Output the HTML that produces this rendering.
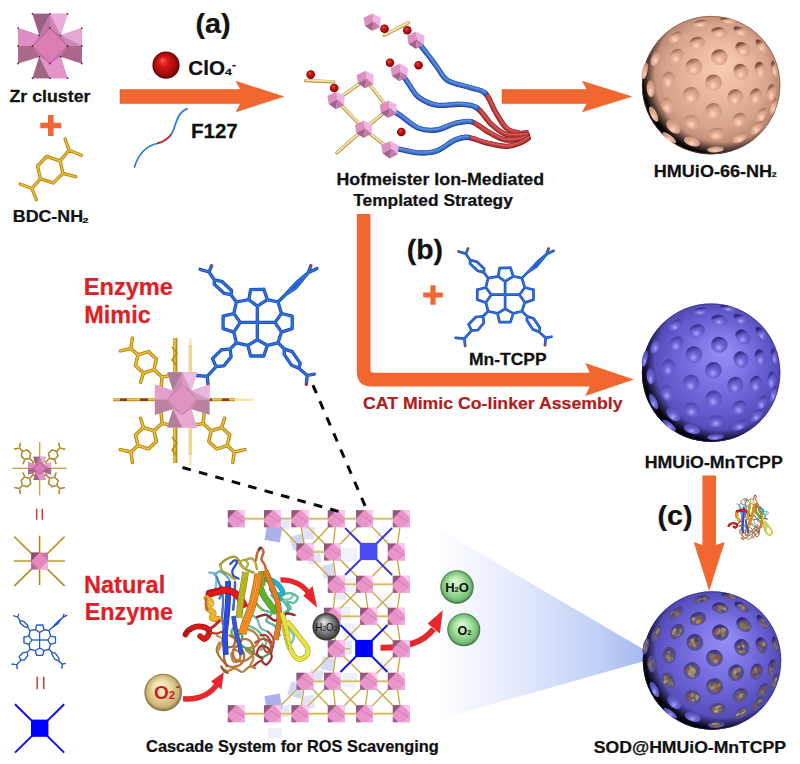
<!DOCTYPE html>
<html><head><meta charset="utf-8"><title>Scheme</title>
<style>html,body{margin:0;padding:0;background:#fff}svg{display:block}text{font-family:'Liberation Sans', Arial, sans-serif;font-weight:bold}</style>
</head><body>
<svg width="800" height="764" viewBox="0 0 800 764">
<defs>
<radialGradient id="sg1" cx="0.5" cy="0.5" r="0.62" fx="0.6" fy="0.34"><stop offset="0" stop-color="#f8ceb6"/><stop offset="0.3" stop-color="#ecbaa1"/><stop offset="0.6" stop-color="#d8a48c"/><stop offset="0.85" stop-color="#ae7c68"/><stop offset="1" stop-color="#7c5244"/></radialGradient>
<radialGradient id="dg1" cx="0.47" cy="0.68" r="0.62"><stop offset="0" stop-color="#ffd8c0"/><stop offset="0.42" stop-color="#e4af95"/><stop offset="1" stop-color="#cb967e"/></radialGradient>
<linearGradient id="dl1" x1="0.25" y1="0" x2="0.6" y2="0.9"><stop offset="0" stop-color="#6e4334" stop-opacity="1"/><stop offset="0.18" stop-color="#6e4334" stop-opacity="0.8"/><stop offset="0.42" stop-color="#6e4334" stop-opacity="0"/></linearGradient>
<radialGradient id="sh1" cx="0.585" cy="0.42" r="0.6"><stop offset="0.82" stop-color="#000" stop-opacity="0"/><stop offset="0.92" stop-color="#000" stop-opacity="0.6"/><stop offset="0.975" stop-color="#000" stop-opacity="0.95"/><stop offset="1" stop-color="#000" stop-opacity="1"/></radialGradient>
<radialGradient id="sg2" cx="0.5" cy="0.5" r="0.62" fx="0.6" fy="0.34"><stop offset="0" stop-color="#9890f6"/><stop offset="0.3" stop-color="#7d75e6"/><stop offset="0.6" stop-color="#625acc"/><stop offset="0.85" stop-color="#4841a6"/><stop offset="1" stop-color="#2a2570"/></radialGradient>
<radialGradient id="dg2" cx="0.47" cy="0.68" r="0.62"><stop offset="0" stop-color="#aaa4ff"/><stop offset="0.42" stop-color="#6e66d6"/><stop offset="1" stop-color="#554db8"/></radialGradient>
<linearGradient id="dl2" x1="0.25" y1="0" x2="0.6" y2="0.9"><stop offset="0" stop-color="#28237a" stop-opacity="1"/><stop offset="0.18" stop-color="#28237a" stop-opacity="0.8"/><stop offset="0.42" stop-color="#28237a" stop-opacity="0"/></linearGradient>
<radialGradient id="sh2" cx="0.585" cy="0.42" r="0.6"><stop offset="0.82" stop-color="#000" stop-opacity="0"/><stop offset="0.92" stop-color="#000" stop-opacity="0.6"/><stop offset="0.975" stop-color="#000" stop-opacity="0.95"/><stop offset="1" stop-color="#000" stop-opacity="1"/></radialGradient>
<radialGradient id="sg3" cx="0.5" cy="0.5" r="0.62" fx="0.6" fy="0.34"><stop offset="0" stop-color="#9890f6"/><stop offset="0.3" stop-color="#7d75e6"/><stop offset="0.6" stop-color="#625acc"/><stop offset="0.85" stop-color="#4841a6"/><stop offset="1" stop-color="#2a2570"/></radialGradient>
<radialGradient id="dg3" cx="0.47" cy="0.68" r="0.62"><stop offset="0" stop-color="#aaa4ff"/><stop offset="0.42" stop-color="#6e66d6"/><stop offset="1" stop-color="#554db8"/></radialGradient>
<linearGradient id="dl3" x1="0.25" y1="0" x2="0.6" y2="0.9"><stop offset="0" stop-color="#28237a" stop-opacity="1"/><stop offset="0.18" stop-color="#28237a" stop-opacity="0.8"/><stop offset="0.42" stop-color="#28237a" stop-opacity="0"/></linearGradient>
<radialGradient id="sh3" cx="0.585" cy="0.42" r="0.6"><stop offset="0.82" stop-color="#000" stop-opacity="0"/><stop offset="0.92" stop-color="#000" stop-opacity="0.6"/><stop offset="0.975" stop-color="#000" stop-opacity="0.95"/><stop offset="1" stop-color="#000" stop-opacity="1"/></radialGradient>
<radialGradient id="redball" cx="0.5" cy="0.5" r="0.5" fx="0.36" fy="0.3"><stop offset="0" stop-color="#ff5a4a"/><stop offset="0.35" stop-color="#d81818"/><stop offset="0.8" stop-color="#a00a0a"/><stop offset="1" stop-color="#5a0404"/></radialGradient>
<linearGradient id="coneg" gradientUnits="userSpaceOnUse" x1="646" y1="0" x2="420" y2="0"><stop offset="0" stop-color="#a3b8ef"/><stop offset="0.2" stop-color="#c0cef5"/><stop offset="0.5" stop-color="#dde5fa"/><stop offset="0.78" stop-color="#f4f6fe"/><stop offset="0.93" stop-color="#ffffff"/></linearGradient>
<radialGradient id="grayball" cx="0.5" cy="0.5" r="0.5" fx="0.4" fy="0.3"><stop offset="0" stop-color="#e8e8e8"/><stop offset="0.45" stop-color="#9a9a9a"/><stop offset="0.85" stop-color="#505050"/><stop offset="1" stop-color="#2a2a2a"/></radialGradient>
<radialGradient id="greenball" cx="0.5" cy="0.5" r="0.5" fx="0.42" fy="0.32"><stop offset="0" stop-color="#e4fadc"/><stop offset="0.5" stop-color="#aae2a2"/><stop offset="0.86" stop-color="#74bc74"/><stop offset="1" stop-color="#356f3a"/></radialGradient>
<radialGradient id="tanball" cx="0.5" cy="0.5" r="0.5" fx="0.4" fy="0.3"><stop offset="0" stop-color="#fff8e0"/><stop offset="0.45" stop-color="#eedca6"/><stop offset="0.85" stop-color="#c9b274"/><stop offset="1" stop-color="#786838"/></radialGradient>
</defs>
<rect width="800" height="764" fill="#ffffff"/>
<path d="M648 652 L415 515 L415 726 L648 660 Z" fill="url(#coneg)"/>
<rect x="-7.8" y="-7.8" width="15.5" height="15.5" fill="#a6acec" opacity="0.95" transform="translate(273.5 533.5) rotate(10)"/>
<rect x="-6" y="-6" width="12" height="12" fill="#b4baf0" opacity="0.35" transform="translate(284 523) rotate(5)"/>
<rect x="-7" y="-7" width="14" height="14" fill="#b4baf0" opacity="0.6" transform="translate(298 542) rotate(-18)"/>
<rect x="-6.5" y="-6.5" width="13" height="13" fill="#b4baf0" opacity="0.4" transform="translate(308 533) rotate(8)"/>
<rect x="-6.5" y="-6.5" width="13" height="13" fill="#b4baf0" opacity="0.4" transform="translate(314 557) rotate(-10)"/>
<rect x="-6.5" y="-6.5" width="13" height="13" fill="#b4baf0" opacity="0.55" transform="translate(329 571) rotate(-12)"/>
<rect x="-6.5" y="-6.5" width="13" height="13" fill="#b4baf0" opacity="0.35" transform="translate(340 593) rotate(5)"/>
<rect x="-7" y="-7" width="14" height="14" fill="#b4baf0" opacity="0.2" transform="translate(350 555) rotate(0)"/>
<rect x="-6.5" y="-6.5" width="13" height="13" fill="#b4baf0" opacity="0.25" transform="translate(344 613) rotate(0)"/>
<rect x="-7.8" y="-7.8" width="15.5" height="15.5" fill="#a6acec" opacity="0.95" transform="translate(273.5 702.5) rotate(-10)"/>
<rect x="-6" y="-6" width="12" height="12" fill="#b4baf0" opacity="0.35" transform="translate(284 711) rotate(-5)"/>
<rect x="-7" y="-7" width="14" height="14" fill="#b4baf0" opacity="0.6" transform="translate(296 690) rotate(18)"/>
<rect x="-6.5" y="-6.5" width="13" height="13" fill="#b4baf0" opacity="0.4" transform="translate(308 702) rotate(-8)"/>
<rect x="-6.5" y="-6.5" width="13" height="13" fill="#b4baf0" opacity="0.4" transform="translate(316 676) rotate(10)"/>
<rect x="-6.5" y="-6.5" width="13" height="13" fill="#b4baf0" opacity="0.55" transform="translate(328 664) rotate(12)"/>
<rect x="-7" y="-7" width="14" height="14" fill="#b4baf0" opacity="0.35" transform="translate(345 647.5) rotate(0)"/>
<rect x="-7" y="-7" width="14" height="14" fill="#b4baf0" opacity="0.2" transform="translate(350 680) rotate(0)"/>
<rect x="-7" y="-7" width="14" height="14" fill="#b4baf0" opacity="0.2" transform="translate(352 585) rotate(0)"/>
<rect x="-7" y="-7" width="14" height="14" fill="#b4baf0" opacity="0.15" transform="translate(385 600) rotate(0)"/>
<rect x="-6.5" y="-6.5" width="13" height="13" fill="#b4baf0" opacity="0.15" transform="translate(382 535) rotate(0)"/>
<rect x="-6.5" y="-6.5" width="13" height="13" fill="#b4baf0" opacity="0.25" transform="translate(350 630) rotate(0)"/>
<rect x="-6.5" y="-6.5" width="13" height="13" fill="#b4baf0" opacity="0.15" transform="translate(385 665) rotate(0)"/>
<path d="M268 728 h14 v10 h-14z" fill="#c8ccf4" opacity="0.3"/>
<path d="M236 518.8 H401 M236 713.8 H401 M305 552 H332.5 M336 584.2 H401 M332.5 616.2 H396 M305 681.2 H396 M336.2 648.8 H350" stroke="#f6e9b8" stroke-width="3" fill="none"/>
<path d="M236 518.8 H401 M236 713.8 H401 M305 552 H332.5 M336 584.2 H401 M332.5 616.2 H396 M305 681.2 H396 M336.2 648.8 H350" stroke="#b79a3a" stroke-width="0.9" fill="none"/>
<path d="M272.5 518.8 L305 552 M300 518.8 L305 552 M300 518.8 L332.5 552 M336.2 518.8 L305 552 M336.2 518.8 L332.5 552 M364.5 518.8 L332.5 552 M364.5 518.8 L396.2 552 M401.2 518.8 L396.2 552 M305 552 L336.2 584.2 M332.5 552 L336.2 584.2 M332.5 552 L364.5 584.2 M396.2 552 L364.5 584.2 M396.2 552 L401.2 584.2 M336.2 584.2 L332.5 616.2 M336.2 584.2 L368.8 616.2 M364.5 584.2 L332.5 616.2 M364.5 584.2 L368.8 616.2 M364.5 584.2 L396.2 616.2 M401.2 584.2 L368.8 616.2 M401.2 584.2 L396.2 616.2 M332.5 616.2 L336.2 648.8 M368.8 616.2 L336.2 648.8 M368.8 616.2 L401.2 648.8 M396.2 616.2 L401.2 648.8 M336.2 648.8 L305 681.2 M336.2 648.8 L332.5 681.2 M336.2 648.8 L368.8 681.2 M401.2 648.8 L368.8 681.2 M401.2 648.8 L396.2 681.2 M305 681.2 L272.5 713.8 M305 681.2 L300 713.8 M305 681.2 L336.2 713.8 M332.5 681.2 L300 713.8 M332.5 681.2 L336.2 713.8 M332.5 681.2 L364.5 713.8 M368.8 681.2 L336.2 713.8 M368.8 681.2 L364.5 713.8 M368.8 681.2 L401.2 713.8 M396.2 681.2 L364.5 713.8 M396.2 681.2 L401.2 713.8" stroke="#f5ebc0" stroke-width="2.2" fill="none" opacity="0.7"/>
<path d="M272.5 518.8 L305 552 M300 518.8 L305 552 M300 518.8 L332.5 552 M336.2 518.8 L305 552 M336.2 518.8 L332.5 552 M364.5 518.8 L332.5 552 M364.5 518.8 L396.2 552 M401.2 518.8 L396.2 552 M305 552 L336.2 584.2 M332.5 552 L336.2 584.2 M332.5 552 L364.5 584.2 M396.2 552 L364.5 584.2 M396.2 552 L401.2 584.2 M336.2 584.2 L332.5 616.2 M336.2 584.2 L368.8 616.2 M364.5 584.2 L332.5 616.2 M364.5 584.2 L368.8 616.2 M364.5 584.2 L396.2 616.2 M401.2 584.2 L368.8 616.2 M401.2 584.2 L396.2 616.2 M332.5 616.2 L336.2 648.8 M368.8 616.2 L336.2 648.8 M368.8 616.2 L401.2 648.8 M396.2 616.2 L401.2 648.8 M336.2 648.8 L305 681.2 M336.2 648.8 L332.5 681.2 M336.2 648.8 L368.8 681.2 M401.2 648.8 L368.8 681.2 M401.2 648.8 L396.2 681.2 M305 681.2 L272.5 713.8 M305 681.2 L300 713.8 M305 681.2 L336.2 713.8 M332.5 681.2 L300 713.8 M332.5 681.2 L336.2 713.8 M332.5 681.2 L364.5 713.8 M368.8 681.2 L336.2 713.8 M368.8 681.2 L364.5 713.8 M368.8 681.2 L401.2 713.8 M396.2 681.2 L364.5 713.8 M396.2 681.2 L401.2 713.8" stroke="#c0a038" stroke-width="1.1" fill="none"/>
<path d="M345.1 528 L392.1 575 M392.1 528 L345.1 575" stroke="#3a3ad8" stroke-width="2" fill="none"/>
<rect x="359.8" y="542.9" width="17.6" height="17.2" fill="#4a4af2"/>
<path d="M340.5 625 L387.5 672 M387.5 625 L340.5 672" stroke="#1414e0" stroke-width="2" fill="none"/>
<rect x="355.2" y="639.9" width="17.6" height="17.2" fill="#0000ff"/>
<path d="M380.5 647.8 C406 648 424 642 433.5 629" stroke="#e8262c" stroke-width="6" fill="none"/>
<polygon points="427.6,623.6 439.9,633.6 442.8,610.2" fill="#e8262c"/>
<rect x="227.8" y="510.2" width="17" height="17" fill="#e995c9"/>
<polygon points="227.8,510.2 236.2,510.2 227.8,518.8" fill="#91587a"/>
<polygon points="227.8,527.2 227.8,521.8 233.2,527.2" fill="#9d5f84"/>
<polygon points="244.8,510.2 237.6,510.2 244.8,517.4" fill="#f9caee"/>
<polygon points="244.8,527.2 244.8,520.8 238.3,527.2" fill="#efa9da"/>
<path d="M232 514.5 L243.9 522.1" stroke="#cf74ac" stroke-width="0.8" fill="none"/>
<rect x="264" y="510.2" width="17" height="17" fill="#e995c9"/>
<polygon points="264,510.2 272.5,510.2 264,518.8" fill="#91587a"/>
<polygon points="264,527.2 264,521.8 269.4,527.2" fill="#9d5f84"/>
<polygon points="281,510.2 273.9,510.2 281,517.4" fill="#f9caee"/>
<polygon points="281,527.2 281,520.8 274.5,527.2" fill="#efa9da"/>
<path d="M268.2 514.5 L280.1 522.1" stroke="#cf74ac" stroke-width="0.8" fill="none"/>
<rect x="291.5" y="510.2" width="17" height="17" fill="#e995c9"/>
<polygon points="291.5,510.2 300,510.2 291.5,518.8" fill="#91587a"/>
<polygon points="291.5,527.2 291.5,521.8 296.9,527.2" fill="#9d5f84"/>
<polygon points="308.5,510.2 301.4,510.2 308.5,517.4" fill="#f9caee"/>
<polygon points="308.5,527.2 308.5,520.8 302,527.2" fill="#efa9da"/>
<path d="M295.8 514.5 L307.6 522.1" stroke="#cf74ac" stroke-width="0.8" fill="none"/>
<rect x="327.8" y="510.2" width="17" height="17" fill="#e995c9"/>
<polygon points="327.8,510.2 336.2,510.2 327.8,518.8" fill="#91587a"/>
<polygon points="327.8,527.2 327.8,521.8 333.2,527.2" fill="#9d5f84"/>
<polygon points="344.8,510.2 337.6,510.2 344.8,517.4" fill="#f9caee"/>
<polygon points="344.8,527.2 344.8,520.8 338.3,527.2" fill="#efa9da"/>
<path d="M332 514.5 L343.9 522.1" stroke="#cf74ac" stroke-width="0.8" fill="none"/>
<rect x="356" y="510.2" width="17" height="17" fill="#e995c9"/>
<polygon points="356,510.2 364.5,510.2 356,518.8" fill="#91587a"/>
<polygon points="356,527.2 356,521.8 361.4,527.2" fill="#9d5f84"/>
<polygon points="373,510.2 365.9,510.2 373,517.4" fill="#f9caee"/>
<polygon points="373,527.2 373,520.8 366.5,527.2" fill="#efa9da"/>
<path d="M360.2 514.5 L372.1 522.1" stroke="#cf74ac" stroke-width="0.8" fill="none"/>
<rect x="392.8" y="510.2" width="17" height="17" fill="#e995c9"/>
<polygon points="392.8,510.2 401.2,510.2 392.8,518.8" fill="#91587a"/>
<polygon points="392.8,527.2 392.8,521.8 398.2,527.2" fill="#9d5f84"/>
<polygon points="409.8,510.2 402.6,510.2 409.8,517.4" fill="#f9caee"/>
<polygon points="409.8,527.2 409.8,520.8 403.3,527.2" fill="#efa9da"/>
<path d="M397 514.5 L408.9 522.1" stroke="#cf74ac" stroke-width="0.8" fill="none"/>
<rect x="296.5" y="543.5" width="17" height="17" fill="#e995c9"/>
<polygon points="296.5,543.5 305,543.5 296.5,552" fill="#91587a"/>
<polygon points="296.5,560.5 296.5,555.1 301.9,560.5" fill="#9d5f84"/>
<polygon points="313.5,543.5 306.4,543.5 313.5,550.6" fill="#f9caee"/>
<polygon points="313.5,560.5 313.5,554 307,560.5" fill="#efa9da"/>
<path d="M300.8 547.8 L312.6 555.4" stroke="#cf74ac" stroke-width="0.8" fill="none"/>
<rect x="324" y="543.5" width="17" height="17" fill="#e995c9"/>
<polygon points="324,543.5 332.5,543.5 324,552" fill="#91587a"/>
<polygon points="324,560.5 324,555.1 329.4,560.5" fill="#9d5f84"/>
<polygon points="341,543.5 333.9,543.5 341,550.6" fill="#f9caee"/>
<polygon points="341,560.5 341,554 334.5,560.5" fill="#efa9da"/>
<path d="M328.2 547.8 L340.1 555.4" stroke="#cf74ac" stroke-width="0.8" fill="none"/>
<rect x="387.8" y="543.5" width="17" height="17" fill="#e995c9"/>
<polygon points="387.8,543.5 396.2,543.5 387.8,552" fill="#91587a"/>
<polygon points="387.8,560.5 387.8,555.1 393.2,560.5" fill="#9d5f84"/>
<polygon points="404.8,543.5 397.6,543.5 404.8,550.6" fill="#f9caee"/>
<polygon points="404.8,560.5 404.8,554 398.3,560.5" fill="#efa9da"/>
<path d="M392 547.8 L403.9 555.4" stroke="#cf74ac" stroke-width="0.8" fill="none"/>
<rect x="327.8" y="575.8" width="17" height="17" fill="#e995c9"/>
<polygon points="327.8,575.8 336.2,575.8 327.8,584.2" fill="#91587a"/>
<polygon points="327.8,592.8 327.8,587.3 333.2,592.8" fill="#9d5f84"/>
<polygon points="344.8,575.8 337.6,575.8 344.8,582.9" fill="#f9caee"/>
<polygon points="344.8,592.8 344.8,586.3 338.3,592.8" fill="#efa9da"/>
<path d="M332 580 L343.9 587.6" stroke="#cf74ac" stroke-width="0.8" fill="none"/>
<rect x="356" y="575.8" width="17" height="17" fill="#e995c9"/>
<polygon points="356,575.8 364.5,575.8 356,584.2" fill="#91587a"/>
<polygon points="356,592.8 356,587.3 361.4,592.8" fill="#9d5f84"/>
<polygon points="373,575.8 365.9,575.8 373,582.9" fill="#f9caee"/>
<polygon points="373,592.8 373,586.3 366.5,592.8" fill="#efa9da"/>
<path d="M360.2 580 L372.1 587.6" stroke="#cf74ac" stroke-width="0.8" fill="none"/>
<rect x="392.8" y="575.8" width="17" height="17" fill="#e995c9"/>
<polygon points="392.8,575.8 401.2,575.8 392.8,584.2" fill="#91587a"/>
<polygon points="392.8,592.8 392.8,587.3 398.2,592.8" fill="#9d5f84"/>
<polygon points="409.8,575.8 402.6,575.8 409.8,582.9" fill="#f9caee"/>
<polygon points="409.8,592.8 409.8,586.3 403.3,592.8" fill="#efa9da"/>
<path d="M397 580 L408.9 587.6" stroke="#cf74ac" stroke-width="0.8" fill="none"/>
<rect x="324" y="607.8" width="17" height="17" fill="#e995c9"/>
<polygon points="324,607.8 332.5,607.8 324,616.2" fill="#91587a"/>
<polygon points="324,624.8 324,619.3 329.4,624.8" fill="#9d5f84"/>
<polygon points="341,607.8 333.9,607.8 341,614.9" fill="#f9caee"/>
<polygon points="341,624.8 341,618.3 334.5,624.8" fill="#efa9da"/>
<path d="M328.2 612 L340.1 619.6" stroke="#cf74ac" stroke-width="0.8" fill="none"/>
<rect x="360.2" y="607.8" width="17" height="17" fill="#e995c9"/>
<polygon points="360.2,607.8 368.8,607.8 360.2,616.2" fill="#91587a"/>
<polygon points="360.2,624.8 360.2,619.3 365.7,624.8" fill="#9d5f84"/>
<polygon points="377.2,607.8 370.1,607.8 377.2,614.9" fill="#f9caee"/>
<polygon points="377.2,624.8 377.2,618.3 370.8,624.8" fill="#efa9da"/>
<path d="M364.5 612 L376.4 619.6" stroke="#cf74ac" stroke-width="0.8" fill="none"/>
<rect x="387.8" y="607.8" width="17" height="17" fill="#e995c9"/>
<polygon points="387.8,607.8 396.2,607.8 387.8,616.2" fill="#91587a"/>
<polygon points="387.8,624.8 387.8,619.3 393.2,624.8" fill="#9d5f84"/>
<polygon points="404.8,607.8 397.6,607.8 404.8,614.9" fill="#f9caee"/>
<polygon points="404.8,624.8 404.8,618.3 398.3,624.8" fill="#efa9da"/>
<path d="M392 612 L403.9 619.6" stroke="#cf74ac" stroke-width="0.8" fill="none"/>
<rect x="327.8" y="640.2" width="17" height="17" fill="#e995c9"/>
<polygon points="327.8,640.2 336.2,640.2 327.8,648.8" fill="#91587a"/>
<polygon points="327.8,657.2 327.8,651.8 333.2,657.2" fill="#9d5f84"/>
<polygon points="344.8,640.2 337.6,640.2 344.8,647.4" fill="#f9caee"/>
<polygon points="344.8,657.2 344.8,650.8 338.3,657.2" fill="#efa9da"/>
<path d="M332 644.5 L343.9 652.1" stroke="#cf74ac" stroke-width="0.8" fill="none"/>
<rect x="392.8" y="640.2" width="17" height="17" fill="#e995c9"/>
<polygon points="392.8,640.2 401.2,640.2 392.8,648.8" fill="#91587a"/>
<polygon points="392.8,657.2 392.8,651.8 398.2,657.2" fill="#9d5f84"/>
<polygon points="409.8,640.2 402.6,640.2 409.8,647.4" fill="#f9caee"/>
<polygon points="409.8,657.2 409.8,650.8 403.3,657.2" fill="#efa9da"/>
<path d="M397 644.5 L408.9 652.1" stroke="#cf74ac" stroke-width="0.8" fill="none"/>
<rect x="296.5" y="672.8" width="17" height="17" fill="#e995c9"/>
<polygon points="296.5,672.8 305,672.8 296.5,681.2" fill="#91587a"/>
<polygon points="296.5,689.8 296.5,684.3 301.9,689.8" fill="#9d5f84"/>
<polygon points="313.5,672.8 306.4,672.8 313.5,679.9" fill="#f9caee"/>
<polygon points="313.5,689.8 313.5,683.3 307,689.8" fill="#efa9da"/>
<path d="M300.8 677 L312.6 684.6" stroke="#cf74ac" stroke-width="0.8" fill="none"/>
<rect x="324" y="672.8" width="17" height="17" fill="#e995c9"/>
<polygon points="324,672.8 332.5,672.8 324,681.2" fill="#91587a"/>
<polygon points="324,689.8 324,684.3 329.4,689.8" fill="#9d5f84"/>
<polygon points="341,672.8 333.9,672.8 341,679.9" fill="#f9caee"/>
<polygon points="341,689.8 341,683.3 334.5,689.8" fill="#efa9da"/>
<path d="M328.2 677 L340.1 684.6" stroke="#cf74ac" stroke-width="0.8" fill="none"/>
<rect x="360.2" y="672.8" width="17" height="17" fill="#e995c9"/>
<polygon points="360.2,672.8 368.8,672.8 360.2,681.2" fill="#91587a"/>
<polygon points="360.2,689.8 360.2,684.3 365.7,689.8" fill="#9d5f84"/>
<polygon points="377.2,672.8 370.1,672.8 377.2,679.9" fill="#f9caee"/>
<polygon points="377.2,689.8 377.2,683.3 370.8,689.8" fill="#efa9da"/>
<path d="M364.5 677 L376.4 684.6" stroke="#cf74ac" stroke-width="0.8" fill="none"/>
<rect x="387.8" y="672.8" width="17" height="17" fill="#e995c9"/>
<polygon points="387.8,672.8 396.2,672.8 387.8,681.2" fill="#91587a"/>
<polygon points="387.8,689.8 387.8,684.3 393.2,689.8" fill="#9d5f84"/>
<polygon points="404.8,672.8 397.6,672.8 404.8,679.9" fill="#f9caee"/>
<polygon points="404.8,689.8 404.8,683.3 398.3,689.8" fill="#efa9da"/>
<path d="M392 677 L403.9 684.6" stroke="#cf74ac" stroke-width="0.8" fill="none"/>
<rect x="227.8" y="705.2" width="17" height="17" fill="#e995c9"/>
<polygon points="227.8,705.2 236.2,705.2 227.8,713.8" fill="#91587a"/>
<polygon points="227.8,722.2 227.8,716.8 233.2,722.2" fill="#9d5f84"/>
<polygon points="244.8,705.2 237.6,705.2 244.8,712.4" fill="#f9caee"/>
<polygon points="244.8,722.2 244.8,715.8 238.3,722.2" fill="#efa9da"/>
<path d="M232 709.5 L243.9 717.1" stroke="#cf74ac" stroke-width="0.8" fill="none"/>
<rect x="264" y="705.2" width="17" height="17" fill="#e995c9"/>
<polygon points="264,705.2 272.5,705.2 264,713.8" fill="#91587a"/>
<polygon points="264,722.2 264,716.8 269.4,722.2" fill="#9d5f84"/>
<polygon points="281,705.2 273.9,705.2 281,712.4" fill="#f9caee"/>
<polygon points="281,722.2 281,715.8 274.5,722.2" fill="#efa9da"/>
<path d="M268.2 709.5 L280.1 717.1" stroke="#cf74ac" stroke-width="0.8" fill="none"/>
<rect x="291.5" y="705.2" width="17" height="17" fill="#e995c9"/>
<polygon points="291.5,705.2 300,705.2 291.5,713.8" fill="#91587a"/>
<polygon points="291.5,722.2 291.5,716.8 296.9,722.2" fill="#9d5f84"/>
<polygon points="308.5,705.2 301.4,705.2 308.5,712.4" fill="#f9caee"/>
<polygon points="308.5,722.2 308.5,715.8 302,722.2" fill="#efa9da"/>
<path d="M295.8 709.5 L307.6 717.1" stroke="#cf74ac" stroke-width="0.8" fill="none"/>
<rect x="327.8" y="705.2" width="17" height="17" fill="#e995c9"/>
<polygon points="327.8,705.2 336.2,705.2 327.8,713.8" fill="#91587a"/>
<polygon points="327.8,722.2 327.8,716.8 333.2,722.2" fill="#9d5f84"/>
<polygon points="344.8,705.2 337.6,705.2 344.8,712.4" fill="#f9caee"/>
<polygon points="344.8,722.2 344.8,715.8 338.3,722.2" fill="#efa9da"/>
<path d="M332 709.5 L343.9 717.1" stroke="#cf74ac" stroke-width="0.8" fill="none"/>
<rect x="356" y="705.2" width="17" height="17" fill="#e995c9"/>
<polygon points="356,705.2 364.5,705.2 356,713.8" fill="#91587a"/>
<polygon points="356,722.2 356,716.8 361.4,722.2" fill="#9d5f84"/>
<polygon points="373,705.2 365.9,705.2 373,712.4" fill="#f9caee"/>
<polygon points="373,722.2 373,715.8 366.5,722.2" fill="#efa9da"/>
<path d="M360.2 709.5 L372.1 717.1" stroke="#cf74ac" stroke-width="0.8" fill="none"/>
<rect x="392.8" y="705.2" width="17" height="17" fill="#e995c9"/>
<polygon points="392.8,705.2 401.2,705.2 392.8,713.8" fill="#91587a"/>
<polygon points="392.8,722.2 392.8,716.8 398.2,722.2" fill="#9d5f84"/>
<polygon points="409.8,705.2 402.6,705.2 409.8,712.4" fill="#f9caee"/>
<polygon points="409.8,722.2 409.8,715.8 403.3,722.2" fill="#efa9da"/>
<path d="M397 709.5 L408.9 717.1" stroke="#cf74ac" stroke-width="0.8" fill="none"/>
<circle cx="326.3" cy="626.8" r="13.8" fill="url(#grayball)"/>
<text x="326.3" y="631" font-size="10.5" fill="#111" text-anchor="middle" style="font-weight:normal" textLength="22" lengthAdjust="spacingAndGlyphs">H<tspan font-size="7">2</tspan>O<tspan font-size="7">2</tspan></text>
<circle cx="457" cy="587" r="16.7" fill="url(#greenball)"/>
<text x="457" y="592" font-size="13" fill="#111" text-anchor="middle">H<tspan font-size="7.5">2</tspan>O</text>
<circle cx="463.8" cy="629.8" r="16.5" fill="url(#greenball)"/>
<text x="464.5" y="634.5" font-size="12.5" fill="#111" text-anchor="middle">O<tspan font-size="7.5">2</tspan></text>
<g transform="translate(180 540) scale(0.1833)">
<path d="M160 178 C165 179 183.3 177.3 190 184 C196.7 190.7 199.2 205.8 200 218 C200.8 230.2 194 243.3 195 257 C196 270.7 204.2 292.8 206 300" stroke="#4c7d84" stroke-width="12.0" fill="none" stroke-linecap="round" stroke-linejoin="round" opacity="0.75"/>
<path d="M160 178 C165 179 183.3 177.3 190 184 C196.7 190.7 199.2 205.8 200 218 C200.8 230.2 194 243.3 195 257 C196 270.7 204.2 292.8 206 300" stroke="#7ccad6" stroke-width="8.5" fill="none" stroke-linecap="round" stroke-linejoin="round"/>
<path d="M189 189 C193.7 186 207.5 171 217 171 C226.5 171 237.3 181.3 246 189 C254.7 196.7 266.3 206.8 269 217 C271.7 227.2 263.2 244.5 262 250" stroke="#366f7e" stroke-width="12.0" fill="none" stroke-linecap="round" stroke-linejoin="round" opacity="0.75"/>
<path d="M189 189 C193.7 186 207.5 171 217 171 C226.5 171 237.3 181.3 246 189 C254.7 196.7 266.3 206.8 269 217 C271.7 227.2 263.2 244.5 262 250" stroke="#58b4cc" stroke-width="8.5" fill="none" stroke-linecap="round" stroke-linejoin="round"/>
<path d="M200 200 C202.5 206.7 210.8 225.8 215 240 C219.2 254.2 225 271.7 225 285 C225 298.3 216.7 314.2 215 320" stroke="#2d5580" stroke-width="12.0" fill="none" stroke-linecap="round" stroke-linejoin="round" opacity="0.75"/>
<path d="M200 200 C202.5 206.7 210.8 225.8 215 240 C219.2 254.2 225 271.7 225 285 C225 298.3 216.7 314.2 215 320" stroke="#4a8ad0" stroke-width="8.5" fill="none" stroke-linecap="round" stroke-linejoin="round"/>
<path d="M220 134 C224.3 129.8 233.2 116.2 246 109 C258.8 101.8 284.7 90.7 297 91 C309.3 91.3 312.3 101.3 320 111 C327.7 120.7 334.5 139.8 343 149 C351.5 158.2 361.5 161.3 371 166 C380.5 170.7 395.2 175.2 400 177" stroke="#68641d" stroke-width="13.0" fill="none" stroke-linecap="round" stroke-linejoin="round" opacity="0.75"/>
<path d="M220 134 C224.3 129.8 233.2 116.2 246 109 C258.8 101.8 284.7 90.7 297 91 C309.3 91.3 312.3 101.3 320 111 C327.7 120.7 334.5 139.8 343 149 C351.5 158.2 361.5 161.3 371 166 C380.5 170.7 395.2 175.2 400 177" stroke="#a8a230" stroke-width="9.5" fill="none" stroke-linecap="round" stroke-linejoin="round"/>
<path d="M220 134 C221.5 139.3 220.8 156.8 229 166 C237.2 175.2 259.5 182.3 269 189 C278.5 195.7 280.8 201.7 286 206 C291.2 210.3 297.7 213.5 300 215" stroke="#6d6d20" stroke-width="12.0" fill="none" stroke-linecap="round" stroke-linejoin="round" opacity="0.75"/>
<path d="M220 134 C221.5 139.3 220.8 156.8 229 166 C237.2 175.2 259.5 182.3 269 189 C278.5 195.7 280.8 201.7 286 206 C291.2 210.3 297.7 213.5 300 215" stroke="#b0b034" stroke-width="8.5" fill="none" stroke-linecap="round" stroke-linejoin="round"/>
<path d="M274 131 C277.8 127.7 290.8 112.3 297 111 C303.2 109.7 312.8 113.8 311 123 C309.2 132.2 289.3 154.2 286 166 C282.7 177.8 285.3 186.5 291 194 C296.7 201.5 315.2 208.2 320 211" stroke="#1d2c80" stroke-width="12.0" fill="none" stroke-linecap="round" stroke-linejoin="round" opacity="0.75"/>
<path d="M274 131 C277.8 127.7 290.8 112.3 297 111 C303.2 109.7 312.8 113.8 311 123 C309.2 132.2 289.3 154.2 286 166 C282.7 177.8 285.3 186.5 291 194 C296.7 201.5 315.2 208.2 320 211" stroke="#3048d0" stroke-width="8.5" fill="none" stroke-linecap="round" stroke-linejoin="round"/>
<path d="M320 120 C325.7 118.2 345.5 107.2 354 109 C362.5 110.8 371 123.5 371 131 C371 138.5 360.7 153 354 154 C347.3 155 336.7 142.7 331 137 C325.3 131.3 321.8 122.8 320 120" stroke="#797225" stroke-width="12.0" fill="none" stroke-linecap="round" stroke-linejoin="round" opacity="0.75"/>
<path d="M320 120 C325.7 118.2 345.5 107.2 354 109 C362.5 110.8 371 123.5 371 131 C371 138.5 360.7 153 354 154 C347.3 155 336.7 142.7 331 137 C325.3 131.3 321.8 122.8 320 120" stroke="#c4b83c" stroke-width="8.5" fill="none" stroke-linecap="round" stroke-linejoin="round"/>
<path d="M354 109 C360 107.5 380.7 98.2 390 100 C399.3 101.8 405 110 410 120 C415 130 418.3 153.3 420 160" stroke="#7c6822" stroke-width="12.0" fill="none" stroke-linecap="round" stroke-linejoin="round" opacity="0.75"/>
<path d="M354 109 C360 107.5 380.7 98.2 390 100 C399.3 101.8 405 110 410 120 C415 130 418.3 153.3 420 160" stroke="#c8a838" stroke-width="8.5" fill="none" stroke-linecap="round" stroke-linejoin="round"/>
<path d="M415 110 C416.2 103.3 417.8 81.3 422 70 C426.2 58.7 434.3 42.7 440 42 C445.7 41.3 455.3 55.5 456 66 C456.7 76.5 443 93.5 444 105 C445 116.5 457.7 125 462 135 C466.3 145 468.7 160 470 165" stroke="#803e1a" stroke-width="13.0" fill="none" stroke-linecap="round" stroke-linejoin="round" opacity="0.75"/>
<path d="M415 110 C416.2 103.3 417.8 81.3 422 70 C426.2 58.7 434.3 42.7 440 42 C445.7 41.3 455.3 55.5 456 66 C456.7 76.5 443 93.5 444 105 C445 116.5 457.7 125 462 135 C466.3 145 468.7 160 470 165" stroke="#d0642a" stroke-width="9.5" fill="none" stroke-linecap="round" stroke-linejoin="round"/>
<path d="M440 42 C438.7 43.7 433.3 50.3 432 52" stroke="#5e1b13" stroke-width="13.5" fill="none" stroke-linecap="round" stroke-linejoin="round" opacity="0.75"/>
<path d="M440 42 C438.7 43.7 433.3 50.3 432 52" stroke="#982c20" stroke-width="10" fill="none" stroke-linecap="round" stroke-linejoin="round"/>
<path d="M556 300 C563.3 298.3 585.7 288 600 290 C614.3 292 638.3 303.3 642 312 C645.7 320.7 631.7 337.7 622 342 C612.3 346.3 587 333 584 338 C581 343 605.7 363 604 372 C602.3 381 579 388.7 574 392" stroke="#347e65" stroke-width="12.0" fill="none" stroke-linecap="round" stroke-linejoin="round" opacity="0.75"/>
<path d="M556 300 C563.3 298.3 585.7 288 600 290 C614.3 292 638.3 303.3 642 312 C645.7 320.7 631.7 337.7 622 342 C612.3 346.3 587 333 584 338 C581 343 605.7 363 604 372 C602.3 381 579 388.7 574 392" stroke="#54cca4" stroke-width="8.5" fill="none" stroke-linecap="round" stroke-linejoin="round"/>
<path d="M520 300 C526.7 305 548 316.7 560 330 C572 343.3 592 365 592 380 C592 395 565.3 413.3 560 420" stroke="#2a7974" stroke-width="12.0" fill="none" stroke-linecap="round" stroke-linejoin="round" opacity="0.75"/>
<path d="M520 300 C526.7 305 548 316.7 560 330 C572 343.3 592 365 592 380 C592 395 565.3 413.3 560 420" stroke="#44c4bc" stroke-width="8.5" fill="none" stroke-linecap="round" stroke-linejoin="round"/>
<path d="M560 330 C566.7 328.3 590 325 600 320 C610 315 616.7 303.3 620 300" stroke="#4c886d" stroke-width="12.0" fill="none" stroke-linecap="round" stroke-linejoin="round" opacity="0.75"/>
<path d="M560 330 C566.7 328.3 590 325 600 320 C610 315 616.7 303.3 620 300" stroke="#7cdcb0" stroke-width="8.5" fill="none" stroke-linecap="round" stroke-linejoin="round"/>
<path d="M400 330 C408.3 338.3 433.3 368.3 450 380 C466.7 391.7 496.7 390 500 400 C503.3 410 466.7 428.3 470 440 C473.3 451.7 507.7 456.7 520 470 C532.3 483.3 540 511.7 544 520" stroke="#34746a" stroke-width="12.0" fill="none" stroke-linecap="round" stroke-linejoin="round" opacity="0.75"/>
<path d="M400 330 C408.3 338.3 433.3 368.3 450 380 C466.7 391.7 496.7 390 500 400 C503.3 410 466.7 428.3 470 440 C473.3 451.7 507.7 456.7 520 470 C532.3 483.3 540 511.7 544 520" stroke="#54bcac" stroke-width="8.5" fill="none" stroke-linecap="round" stroke-linejoin="round"/>
<path d="M380 400 C386.7 405 410 416.7 420 430 C430 443.3 430 468.3 440 480 C450 491.7 473.3 496.7 480 500" stroke="#407972" stroke-width="11.0" fill="none" stroke-linecap="round" stroke-linejoin="round" opacity="0.75"/>
<path d="M380 400 C386.7 405 410 416.7 420 430 C430 443.3 430 468.3 440 480 C450 491.7 473.3 496.7 480 500" stroke="#68c4b8" stroke-width="7.5" fill="none" stroke-linecap="round" stroke-linejoin="round"/>
<path d="M420 420 C428.3 418 453.3 404.7 470 408 C486.7 411.3 501.7 441 520 440 C538.3 439 562.5 407 580 402 C597.5 397 617.5 408.7 625 410" stroke="#601616" stroke-width="13.0" fill="none" stroke-linecap="round" stroke-linejoin="round" opacity="0.75"/>
<path d="M420 420 C428.3 418 453.3 404.7 470 408 C486.7 411.3 501.7 441 520 440 C538.3 439 562.5 407 580 402 C597.5 397 617.5 408.7 625 410" stroke="#9c2424" stroke-width="9.5" fill="none" stroke-linecap="round" stroke-linejoin="round"/>
<path d="M540 420 C546.7 428.3 566.7 453.3 580 470 C593.3 486.7 615 505 620 520 C625 535 611.7 553.3 610 560" stroke="#457c80" stroke-width="11.0" fill="none" stroke-linecap="round" stroke-linejoin="round" opacity="0.75"/>
<path d="M540 420 C546.7 428.3 566.7 453.3 580 470 C593.3 486.7 615 505 620 520 C625 535 611.7 553.3 610 560" stroke="#70c8d0" stroke-width="7.5" fill="none" stroke-linecap="round" stroke-linejoin="round"/>
<path d="M300 480 C306.7 486.7 335 505 340 520 C345 535 323.3 556.7 330 570 C336.7 583.3 361.7 588.3 380 600 C398.3 611.7 422.7 636.3 440 640 C457.3 643.7 476.7 625 484 622" stroke="#276a39" stroke-width="12.0" fill="none" stroke-linecap="round" stroke-linejoin="round" opacity="0.75"/>
<path d="M300 480 C306.7 486.7 335 505 340 520 C345 535 323.3 556.7 330 570 C336.7 583.3 361.7 588.3 380 600 C398.3 611.7 422.7 636.3 440 640 C457.3 643.7 476.7 625 484 622" stroke="#40ac5c" stroke-width="8.5" fill="none" stroke-linecap="round" stroke-linejoin="round"/>
<path d="M380 470 C388.3 475 415 485 430 500 C445 515 468.3 543.3 470 560 C471.7 576.7 445 593.3 440 600" stroke="#427960" stroke-width="12.0" fill="none" stroke-linecap="round" stroke-linejoin="round" opacity="0.75"/>
<path d="M380 470 C388.3 475 415 485 430 500 C445 515 468.3 543.3 470 560 C471.7 576.7 445 593.3 440 600" stroke="#6cc49c" stroke-width="8.5" fill="none" stroke-linecap="round" stroke-linejoin="round"/>
<path d="M300 470 C296.7 475 280 490 280 500 C280 510 290 530 300 530 C310 530 333.3 505 340 500" stroke="#367240" stroke-width="12.0" fill="none" stroke-linecap="round" stroke-linejoin="round" opacity="0.75"/>
<path d="M300 470 C296.7 475 280 490 280 500 C280 510 290 530 300 530 C310 530 333.3 505 340 500" stroke="#58b868" stroke-width="8.5" fill="none" stroke-linecap="round" stroke-linejoin="round"/>
<path d="M215 560 C212.5 566.7 198.3 585 200 600 C201.7 615 213.3 635 225 650 C236.7 665 252.5 685 270 690 C287.5 695 316.7 690 330 680 C343.3 670 351.7 646.7 350 630 C348.3 613.3 330 585 320 580 C310 575 293.3 588.3 290 600 C286.7 611.7 290 640 300 650 C310 660 333.3 665 350 660 C366.7 655 393.3 636.7 400 620 C406.7 603.3 398.3 573.3 390 560 C381.7 546.7 361.7 540 350 540 C338.3 540 325 556.7 320 560" stroke="#79471c" stroke-width="12.0" fill="none" stroke-linecap="round" stroke-linejoin="round" opacity="0.75"/>
<path d="M215 560 C212.5 566.7 198.3 585 200 600 C201.7 615 213.3 635 225 650 C236.7 665 252.5 685 270 690 C287.5 695 316.7 690 330 680 C343.3 670 351.7 646.7 350 630 C348.3 613.3 330 585 320 580 C310 575 293.3 588.3 290 600 C286.7 611.7 290 640 300 650 C310 660 333.3 665 350 660 C366.7 655 393.3 636.7 400 620 C406.7 603.3 398.3 573.3 390 560 C381.7 546.7 361.7 540 350 540 C338.3 540 325 556.7 320 560" stroke="#c4742e" stroke-width="8.5" fill="none" stroke-linecap="round" stroke-linejoin="round"/>
<path d="M400 690 C406.7 685 428.3 661.7 440 660 C451.7 658.3 460 683.3 470 680 C480 676.7 498.3 655 500 640 C501.7 625 490 600 480 590 C470 580 450 575 440 580 C430 585 418.3 608.3 420 620 C421.7 631.7 445 645 450 650" stroke="#6a1b1b" stroke-width="12.0" fill="none" stroke-linecap="round" stroke-linejoin="round" opacity="0.75"/>
<path d="M400 690 C406.7 685 428.3 661.7 440 660 C451.7 658.3 460 683.3 470 680 C480 676.7 498.3 655 500 640 C501.7 625 490 600 480 590 C470 580 450 575 440 580 C430 585 418.3 608.3 420 620 C421.7 631.7 445 645 450 650" stroke="#ac2c2c" stroke-width="8.5" fill="none" stroke-linecap="round" stroke-linejoin="round"/>
<path d="M230 700 C235 702.5 248.3 715 260 715 C271.7 715 286.7 699.2 300 700 C313.3 700.8 326.7 721.7 340 720 C353.3 718.3 368.3 693.3 380 690 C391.7 686.7 405 698.3 410 700" stroke="#795123" stroke-width="12.0" fill="none" stroke-linecap="round" stroke-linejoin="round" opacity="0.75"/>
<path d="M230 700 C235 702.5 248.3 715 260 715 C271.7 715 286.7 699.2 300 700 C313.3 700.8 326.7 721.7 340 720 C353.3 718.3 368.3 693.3 380 690 C391.7 686.7 405 698.3 410 700" stroke="#c4843a" stroke-width="8.5" fill="none" stroke-linecap="round" stroke-linejoin="round"/>
<path d="M270 520 C275 523.3 296.7 530 300 540 C303.3 550 298.3 571.7 290 580 C281.7 588.3 258.3 580 250 590 C241.7 600 239.2 623.3 240 640 C240.8 656.7 252.5 681.7 255 690" stroke="#743e1b" stroke-width="12.0" fill="none" stroke-linecap="round" stroke-linejoin="round" opacity="0.75"/>
<path d="M270 520 C275 523.3 296.7 530 300 540 C303.3 550 298.3 571.7 290 580 C281.7 588.3 258.3 580 250 590 C241.7 600 239.2 623.3 240 640 C240.8 656.7 252.5 681.7 255 690" stroke="#bc642c" stroke-width="8.5" fill="none" stroke-linecap="round" stroke-linejoin="round"/>
<path d="M480 500 C485 506.7 506.7 523.3 510 540 C513.3 556.7 506.7 588.3 500 600 C493.3 611.7 478.3 615 470 610 C461.7 605 453.3 576.7 450 570" stroke="#792b1b" stroke-width="12.0" fill="none" stroke-linecap="round" stroke-linejoin="round" opacity="0.75"/>
<path d="M480 500 C485 506.7 506.7 523.3 510 540 C513.3 556.7 506.7 588.3 500 600 C493.3 611.7 478.3 615 470 610 C461.7 605 453.3 576.7 450 570" stroke="#c4462c" stroke-width="8.5" fill="none" stroke-linecap="round" stroke-linejoin="round"/>
<path d="M350 480 C358.3 483.3 386.7 490 400 500 C413.3 510 428.3 526.7 430 540 C431.7 553.3 420 571.7 410 580 C400 588.3 376.7 588.3 370 590" stroke="#7e5120" stroke-width="12.0" fill="none" stroke-linecap="round" stroke-linejoin="round" opacity="0.75"/>
<path d="M350 480 C358.3 483.3 386.7 490 400 500 C413.3 510 428.3 526.7 430 540 C431.7 553.3 420 571.7 410 580 C400 588.3 376.7 588.3 370 590" stroke="#cc8434" stroke-width="8.5" fill="none" stroke-linecap="round" stroke-linejoin="round"/>
<path d="M200 520 C205 523.3 226.7 530 230 540 C233.3 550 224.2 568.3 220 580 C215.8 591.7 207.5 605 205 610" stroke="#7e6025" stroke-width="12.0" fill="none" stroke-linecap="round" stroke-linejoin="round" opacity="0.75"/>
<path d="M200 520 C205 523.3 226.7 530 230 540 C233.3 550 224.2 568.3 220 580 C215.8 591.7 207.5 605 205 610" stroke="#cc9c3c" stroke-width="8.5" fill="none" stroke-linecap="round" stroke-linejoin="round"/>
<path d="M360 600 C366.7 606.7 396.7 625 400 640 C403.3 655 383.3 681.7 380 690" stroke="#805625" stroke-width="12.0" fill="none" stroke-linecap="round" stroke-linejoin="round" opacity="0.75"/>
<path d="M360 600 C366.7 606.7 396.7 625 400 640 C403.3 655 383.3 681.7 380 690" stroke="#d08c3c" stroke-width="8.5" fill="none" stroke-linecap="round" stroke-linejoin="round"/>
<path d="M440 520 C445 520 460 513.3 470 520 C480 526.7 495 553.3 500 560" stroke="#72271d" stroke-width="12.0" fill="none" stroke-linecap="round" stroke-linejoin="round" opacity="0.75"/>
<path d="M440 520 C445 520 460 513.3 470 520 C480 526.7 495 553.3 500 560" stroke="#b84030" stroke-width="8.5" fill="none" stroke-linecap="round" stroke-linejoin="round"/>
<path d="M225 690 C227.5 694.2 234.2 709.2 240 715 C245.8 720.8 256.7 723.3 260 725" stroke="#683718" stroke-width="12.0" fill="none" stroke-linecap="round" stroke-linejoin="round" opacity="0.75"/>
<path d="M225 690 C227.5 694.2 234.2 709.2 240 715 C245.8 720.8 256.7 723.3 260 725" stroke="#a85a28" stroke-width="8.5" fill="none" stroke-linecap="round" stroke-linejoin="round"/>
<path d="M280 620 C283.3 616.7 291.7 600 300 600 C308.3 600 326.7 610 330 620 C333.3 630 326.7 653.3 320 660 C313.3 666.7 296.7 666.7 290 660 C283.3 653.3 281.7 626.7 280 620" stroke="#7c4c20" stroke-width="12.0" fill="none" stroke-linecap="round" stroke-linejoin="round" opacity="0.75"/>
<path d="M280 620 C283.3 616.7 291.7 600 300 600 C308.3 600 326.7 610 330 620 C333.3 630 326.7 653.3 320 660 C313.3 666.7 296.7 666.7 290 660 C283.3 653.3 281.7 626.7 280 620" stroke="#c87c34" stroke-width="8.5" fill="none" stroke-linecap="round" stroke-linejoin="round"/>
<path d="M410 560 C416.7 556.7 436.7 540 450 540 C463.3 540 481.7 548.3 490 560 C498.3 571.7 498.3 601.7 500 610" stroke="#77311d" stroke-width="12.0" fill="none" stroke-linecap="round" stroke-linejoin="round" opacity="0.75"/>
<path d="M410 560 C416.7 556.7 436.7 540 450 540 C463.3 540 481.7 548.3 490 560 C498.3 571.7 498.3 601.7 500 610" stroke="#c05030" stroke-width="8.5" fill="none" stroke-linecap="round" stroke-linejoin="round"/>
<path d="M262 225 C262 240.8 263.2 287.5 262 320 C260.8 352.5 257.8 386.7 255 420 C252.2 453.3 245.8 485.8 245 520 C244.2 554.2 249.2 607.5 250 625" stroke="#18309c" stroke-width="31.0" fill="none" stroke-linecap="butt" stroke-linejoin="round"/>
<path d="M262 225 C262 240.8 263.2 287.5 262 320 C260.8 352.5 257.8 386.7 255 420 C252.2 453.3 245.8 485.8 245 520 C244.2 554.2 249.2 607.5 250 625" stroke="#2c4ce0" stroke-width="26.0" fill="none" stroke-linecap="butt" stroke-linejoin="round"/>
<path d="M292 415 C294.2 429.2 299.5 473.3 305 500 C310.5 526.7 320 554.2 325 575 C330 595.8 333.3 616.7 335 625" stroke="#203890" stroke-width="24.5" fill="none" stroke-linecap="butt" stroke-linejoin="round"/>
<path d="M292 415 C294.2 429.2 299.5 473.3 305 500 C310.5 526.7 320 554.2 325 575 C330 595.8 333.3 616.7 335 625" stroke="#3a58cc" stroke-width="19.5" fill="none" stroke-linecap="butt" stroke-linejoin="round"/>
<path d="M225 250 C226.7 263.3 234.2 301.7 235 330 C235.8 358.3 229.5 395 230 420 C230.5 445 236.7 470 238 480" stroke="#314583" stroke-width="12.5" fill="none" stroke-linecap="round" stroke-linejoin="round" opacity="0.75"/>
<path d="M225 250 C226.7 263.3 234.2 301.7 235 330 C235.8 358.3 229.5 395 230 420 C230.5 445 236.7 470 238 480" stroke="#5070d4" stroke-width="9" fill="none" stroke-linecap="round" stroke-linejoin="round"/>
<path d="M300 230 C299.7 241.7 299.7 275 298 300 C296.3 325 291.3 366.7 290 380" stroke="#273b80" stroke-width="13.5" fill="none" stroke-linecap="round" stroke-linejoin="round" opacity="0.75"/>
<path d="M300 230 C299.7 241.7 299.7 275 298 300 C296.3 325 291.3 366.7 290 380" stroke="#4060d0" stroke-width="10" fill="none" stroke-linecap="round" stroke-linejoin="round"/>
<path d="M150 298 C158.3 295.3 182.2 286 200 282 C217.8 278 238.8 271.5 257 274 C275.2 276.5 294.7 285.5 309 297 C323.3 308.5 335.5 331.2 343 343 C350.5 354.8 352.2 363.8 354 368" stroke="#9a0c0c" stroke-width="38.800000000000004" fill="none" stroke-linecap="butt" stroke-linejoin="round"/>
<path d="M150 298 C158.3 295.3 182.2 286 200 282 C217.8 278 238.8 271.5 257 274 C275.2 276.5 294.7 285.5 309 297 C323.3 308.5 335.5 331.2 343 343 C350.5 354.8 352.2 363.8 354 368" stroke="#e21a1a" stroke-width="33.800000000000004" fill="none" stroke-linecap="butt" stroke-linejoin="round"/>
<path d="M145 300 C145.8 296.7 143.3 284.7 150 280 C156.7 275.3 174.2 274 185 272 C195.8 270 210 268.7 215 268" stroke="#790e0e" stroke-width="11.5" fill="none" stroke-linecap="round" stroke-linejoin="round" opacity="0.75"/>
<path d="M145 300 C145.8 296.7 143.3 284.7 150 280 C156.7 275.3 174.2 274 185 272 C195.8 270 210 268.7 215 268" stroke="#c41818" stroke-width="8" fill="none" stroke-linecap="round" stroke-linejoin="round"/>
<path d="M146 318 C150.2 322.2 170 334.2 171 343 C172 351.8 150 361.8 152 371 C154 380.2 179.2 389 183 398 C186.8 407 170.2 419.3 175 425 C179.8 430.7 205.8 430.8 212 432" stroke="#b87414" stroke-width="33.6" fill="none" stroke-linecap="round" stroke-linejoin="round"/>
<path d="M146 318 C150.2 322.2 170 334.2 171 343 C172 351.8 150 361.8 152 371 C154 380.2 179.2 389 183 398 C186.8 407 170.2 419.3 175 425 C179.8 430.7 205.8 430.8 212 432" stroke="#eeb428" stroke-width="28.6" fill="none" stroke-linecap="round" stroke-linejoin="round"/>
<path d="M158 335 C161.7 337.5 176.3 347.5 180 350" stroke="#99883b" stroke-width="11.5" fill="none" stroke-linecap="round" stroke-linejoin="round" opacity="0.75"/>
<path d="M158 335 C161.7 337.5 176.3 347.5 180 350" stroke="#f8dc60" stroke-width="8" fill="none" stroke-linecap="round" stroke-linejoin="round"/>
<path d="M160 380 C164.2 383.3 180.8 396.7 185 400" stroke="#977e31" stroke-width="11.5" fill="none" stroke-linecap="round" stroke-linejoin="round" opacity="0.75"/>
<path d="M160 380 C164.2 383.3 180.8 396.7 185 400" stroke="#f4cc50" stroke-width="8" fill="none" stroke-linecap="round" stroke-linejoin="round"/>
<path d="M143 320 C142.5 325 138.8 340 140 350 C141.2 360 148.3 375 150 380" stroke="#804013" stroke-width="11.5" fill="none" stroke-linecap="round" stroke-linejoin="round" opacity="0.75"/>
<path d="M143 320 C142.5 325 138.8 340 140 350 C141.2 360 148.3 375 150 380" stroke="#d06820" stroke-width="8" fill="none" stroke-linecap="round" stroke-linejoin="round"/>
<path d="M30 515 C33.3 510.8 40 497.2 50 490 C60 482.8 75 474 90 472 C105 470 128.3 472.5 140 478 C151.7 483.5 160.8 494.7 160 505 C159.2 515.3 143.3 536.7 135 540 C126.7 543.3 114.2 527.5 110 525" stroke="#8c0a0a" stroke-width="31.0" fill="none" stroke-linecap="round" stroke-linejoin="round"/>
<path d="M30 515 C33.3 510.8 40 497.2 50 490 C60 482.8 75 474 90 472 C105 470 128.3 472.5 140 478 C151.7 483.5 160.8 494.7 160 505 C159.2 515.3 143.3 536.7 135 540 C126.7 543.3 114.2 527.5 110 525" stroke="#d81a1a" stroke-width="26.0" fill="none" stroke-linecap="round" stroke-linejoin="round"/>
<path d="M150 490 C155.8 486.7 174.2 478.3 185 470 C195.8 461.7 210 445 215 440" stroke="#801313" stroke-width="15.5" fill="none" stroke-linecap="round" stroke-linejoin="round" opacity="0.75"/>
<path d="M150 490 C155.8 486.7 174.2 478.3 185 470 C195.8 461.7 210 445 215 440" stroke="#d02020" stroke-width="12" fill="none" stroke-linecap="round" stroke-linejoin="round"/>
<path d="M25 520 C26.7 516.7 29.2 504.2 35 500 C40.8 495.8 55.8 495.8 60 495" stroke="#720c0c" stroke-width="10.5" fill="none" stroke-linecap="round" stroke-linejoin="round" opacity="0.75"/>
<path d="M25 520 C26.7 516.7 29.2 504.2 35 500 C40.8 495.8 55.8 495.8 60 495" stroke="#b81414" stroke-width="7" fill="none" stroke-linecap="round" stroke-linejoin="round"/>
<path d="M160 505 C166.7 505.8 188.3 510.8 200 510 C211.7 509.2 225 501.7 230 500" stroke="#7c1d13" stroke-width="11.5" fill="none" stroke-linecap="round" stroke-linejoin="round" opacity="0.75"/>
<path d="M160 505 C166.7 505.8 188.3 510.8 200 510 C211.7 509.2 225 501.7 230 500" stroke="#c83020" stroke-width="8" fill="none" stroke-linecap="round" stroke-linejoin="round"/>
<path d="M358 175 C356 187.5 350.3 224.2 346 250 C341.7 275.8 336 300.8 332 330 C328 359.2 323.7 409.2 322 425" stroke="#78781a" stroke-width="36.2" fill="none" stroke-linecap="butt" stroke-linejoin="round"/>
<path d="M358 175 C356 187.5 350.3 224.2 346 250 C341.7 275.8 336 300.8 332 330 C328 359.2 323.7 409.2 322 425" stroke="#b6b424" stroke-width="31.200000000000003" fill="none" stroke-linecap="butt" stroke-linejoin="round"/>
<path d="M470 215 C476.7 216.7 497.5 218.3 510 225 C522.5 231.7 536.7 244.2 545 255 C553.3 265.8 562.5 282.5 560 290 C557.5 297.5 540 303.3 530 300 C520 296.7 505 275 500 270" stroke="#147890" stroke-width="28.400000000000002" fill="none" stroke-linecap="round" stroke-linejoin="round"/>
<path d="M470 215 C476.7 216.7 497.5 218.3 510 225 C522.5 231.7 536.7 244.2 545 255 C553.3 265.8 562.5 282.5 560 290 C557.5 297.5 540 303.3 530 300 C520 296.7 505 275 500 270" stroke="#22b4d4" stroke-width="23.400000000000002" fill="none" stroke-linecap="round" stroke-linejoin="round"/>
<path d="M500 300 C505 305 520 326.7 530 330 C540 333.3 555 321.7 560 320" stroke="#1d776d" stroke-width="13.5" fill="none" stroke-linecap="round" stroke-linejoin="round" opacity="0.75"/>
<path d="M500 300 C505 305 520 326.7 530 330 C540 333.3 555 321.7 560 320" stroke="#30c0b0" stroke-width="10" fill="none" stroke-linecap="round" stroke-linejoin="round"/>
<path d="M430 240 C434.2 250 445 281.7 455 300 C465 318.3 477.8 333.7 490 350 C502.2 366.3 521.7 390 528 398" stroke="#347818" stroke-width="36.2" fill="none" stroke-linecap="butt" stroke-linejoin="round"/>
<path d="M430 240 C434.2 250 445 281.7 455 300 C465 318.3 477.8 333.7 490 350 C502.2 366.3 521.7 390 528 398" stroke="#5cb42c" stroke-width="31.200000000000003" fill="none" stroke-linecap="butt" stroke-linejoin="round"/>
<path d="M400 300 C403.3 308.3 411.7 336.7 420 350 C428.3 363.3 445 375 450 380" stroke="#4c7c2c" stroke-width="13.5" fill="none" stroke-linecap="round" stroke-linejoin="round" opacity="0.75"/>
<path d="M400 300 C403.3 308.3 411.7 336.7 420 350 C428.3 363.3 445 375 450 380" stroke="#7cc848" stroke-width="10" fill="none" stroke-linecap="round" stroke-linejoin="round"/>
<path d="M440 170 C441.3 176.7 446 196.7 448 210 C450 223.3 451.3 243.3 452 250" stroke="#5c6410" stroke-width="28.400000000000002" fill="none" stroke-linecap="butt" stroke-linejoin="round"/>
<path d="M440 170 C441.3 176.7 446 196.7 448 210 C450 223.3 451.3 243.3 452 250" stroke="#98a020" stroke-width="23.400000000000002" fill="none" stroke-linecap="butt" stroke-linejoin="round"/>
<path d="M466 165 C471.3 178.3 487 216.7 498 245 C509 273.3 524.7 304.2 532 335 C539.3 365.8 543.7 395 542 430 C540.3 465 525.3 525.8 522 545" stroke="#8c4a10" stroke-width="31.0" fill="none" stroke-linecap="butt" stroke-linejoin="round"/>
<path d="M466 165 C471.3 178.3 487 216.7 498 245 C509 273.3 524.7 304.2 532 335 C539.3 365.8 543.7 395 542 430 C540.3 465 525.3 525.8 522 545" stroke="#de7e24" stroke-width="26.0" fill="none" stroke-linecap="butt" stroke-linejoin="round"/>
<path d="M428 185 C426 197.5 422 230.8 416 260 C410 289.2 401.7 328.3 392 360 C382.3 391.7 366.7 424.7 358 450 C349.3 475.3 343 501.7 340 512" stroke="#a85410" stroke-width="44.0" fill="none" stroke-linecap="butt" stroke-linejoin="round"/>
<path d="M428 185 C426 197.5 422 230.8 416 260 C410 289.2 401.7 328.3 392 360 C382.3 391.7 366.7 424.7 358 450 C349.3 475.3 343 501.7 340 512" stroke="#f28a1c" stroke-width="39.0" fill="none" stroke-linecap="butt" stroke-linejoin="round"/>
<path d="M422 215 C419.7 227.5 414.2 264.2 408 290 C401.8 315.8 393.7 344.2 385 370 C376.3 395.8 360.8 432.5 356 445" stroke="#99682c" stroke-width="10.5" fill="none" stroke-linecap="round" stroke-linejoin="round" opacity="0.75"/>
<path d="M422 215 C419.7 227.5 414.2 264.2 408 290 C401.8 315.8 393.7 344.2 385 370 C376.3 395.8 360.8 432.5 356 445" stroke="#f8a848" stroke-width="7" fill="none" stroke-linecap="round" stroke-linejoin="round"/>
<path d="M558 405 C562 420 575.3 465 582 495 C588.7 525 588.3 559.5 598 585 C607.7 610.5 624.7 640.2 640 648 C655.3 655.8 681 642.5 690 632 C699 621.5 701.5 603.7 694 585 C686.5 566.3 662 542.2 645 520 C628 497.8 600.8 463.3 592 452" stroke="#98961c" stroke-width="27.1" fill="none" stroke-linecap="round" stroke-linejoin="round"/>
<path d="M558 405 C562 420 575.3 465 582 495 C588.7 525 588.3 559.5 598 585 C607.7 610.5 624.7 640.2 640 648 C655.3 655.8 681 642.5 690 632 C699 621.5 701.5 603.7 694 585 C686.5 566.3 662 542.2 645 520 C628 497.8 600.8 463.3 592 452" stroke="#e6e244" stroke-width="22.1" fill="none" stroke-linecap="round" stroke-linejoin="round"/>
<path d="M560 470 C562.5 481.7 570 520 575 540 C580 560 587.5 581.7 590 590" stroke="#7c7c1d" stroke-width="12.5" fill="none" stroke-linecap="round" stroke-linejoin="round" opacity="0.75"/>
<path d="M560 470 C562.5 481.7 570 520 575 540 C580 560 587.5 581.7 590 590" stroke="#c8c830" stroke-width="9" fill="none" stroke-linecap="round" stroke-linejoin="round"/>
</g>
<g transform="translate(726.6 492.5) scale(0.0651)">
<path d="M160 178 C165 179 183.3 177.3 190 184 C196.7 190.7 199.2 205.8 200 218 C200.8 230.2 194 243.3 195 257 C196 270.7 204.2 292.8 206 300" stroke="#4c7d84" stroke-width="12.0" fill="none" stroke-linecap="round" stroke-linejoin="round" opacity="0.75"/>
<path d="M160 178 C165 179 183.3 177.3 190 184 C196.7 190.7 199.2 205.8 200 218 C200.8 230.2 194 243.3 195 257 C196 270.7 204.2 292.8 206 300" stroke="#7ccad6" stroke-width="8.5" fill="none" stroke-linecap="round" stroke-linejoin="round"/>
<path d="M189 189 C193.7 186 207.5 171 217 171 C226.5 171 237.3 181.3 246 189 C254.7 196.7 266.3 206.8 269 217 C271.7 227.2 263.2 244.5 262 250" stroke="#366f7e" stroke-width="12.0" fill="none" stroke-linecap="round" stroke-linejoin="round" opacity="0.75"/>
<path d="M189 189 C193.7 186 207.5 171 217 171 C226.5 171 237.3 181.3 246 189 C254.7 196.7 266.3 206.8 269 217 C271.7 227.2 263.2 244.5 262 250" stroke="#58b4cc" stroke-width="8.5" fill="none" stroke-linecap="round" stroke-linejoin="round"/>
<path d="M200 200 C202.5 206.7 210.8 225.8 215 240 C219.2 254.2 225 271.7 225 285 C225 298.3 216.7 314.2 215 320" stroke="#2d5580" stroke-width="12.0" fill="none" stroke-linecap="round" stroke-linejoin="round" opacity="0.75"/>
<path d="M200 200 C202.5 206.7 210.8 225.8 215 240 C219.2 254.2 225 271.7 225 285 C225 298.3 216.7 314.2 215 320" stroke="#4a8ad0" stroke-width="8.5" fill="none" stroke-linecap="round" stroke-linejoin="round"/>
<path d="M220 134 C224.3 129.8 233.2 116.2 246 109 C258.8 101.8 284.7 90.7 297 91 C309.3 91.3 312.3 101.3 320 111 C327.7 120.7 334.5 139.8 343 149 C351.5 158.2 361.5 161.3 371 166 C380.5 170.7 395.2 175.2 400 177" stroke="#68641d" stroke-width="13.0" fill="none" stroke-linecap="round" stroke-linejoin="round" opacity="0.75"/>
<path d="M220 134 C224.3 129.8 233.2 116.2 246 109 C258.8 101.8 284.7 90.7 297 91 C309.3 91.3 312.3 101.3 320 111 C327.7 120.7 334.5 139.8 343 149 C351.5 158.2 361.5 161.3 371 166 C380.5 170.7 395.2 175.2 400 177" stroke="#a8a230" stroke-width="9.5" fill="none" stroke-linecap="round" stroke-linejoin="round"/>
<path d="M220 134 C221.5 139.3 220.8 156.8 229 166 C237.2 175.2 259.5 182.3 269 189 C278.5 195.7 280.8 201.7 286 206 C291.2 210.3 297.7 213.5 300 215" stroke="#6d6d20" stroke-width="12.0" fill="none" stroke-linecap="round" stroke-linejoin="round" opacity="0.75"/>
<path d="M220 134 C221.5 139.3 220.8 156.8 229 166 C237.2 175.2 259.5 182.3 269 189 C278.5 195.7 280.8 201.7 286 206 C291.2 210.3 297.7 213.5 300 215" stroke="#b0b034" stroke-width="8.5" fill="none" stroke-linecap="round" stroke-linejoin="round"/>
<path d="M274 131 C277.8 127.7 290.8 112.3 297 111 C303.2 109.7 312.8 113.8 311 123 C309.2 132.2 289.3 154.2 286 166 C282.7 177.8 285.3 186.5 291 194 C296.7 201.5 315.2 208.2 320 211" stroke="#1d2c80" stroke-width="12.0" fill="none" stroke-linecap="round" stroke-linejoin="round" opacity="0.75"/>
<path d="M274 131 C277.8 127.7 290.8 112.3 297 111 C303.2 109.7 312.8 113.8 311 123 C309.2 132.2 289.3 154.2 286 166 C282.7 177.8 285.3 186.5 291 194 C296.7 201.5 315.2 208.2 320 211" stroke="#3048d0" stroke-width="8.5" fill="none" stroke-linecap="round" stroke-linejoin="round"/>
<path d="M320 120 C325.7 118.2 345.5 107.2 354 109 C362.5 110.8 371 123.5 371 131 C371 138.5 360.7 153 354 154 C347.3 155 336.7 142.7 331 137 C325.3 131.3 321.8 122.8 320 120" stroke="#797225" stroke-width="12.0" fill="none" stroke-linecap="round" stroke-linejoin="round" opacity="0.75"/>
<path d="M320 120 C325.7 118.2 345.5 107.2 354 109 C362.5 110.8 371 123.5 371 131 C371 138.5 360.7 153 354 154 C347.3 155 336.7 142.7 331 137 C325.3 131.3 321.8 122.8 320 120" stroke="#c4b83c" stroke-width="8.5" fill="none" stroke-linecap="round" stroke-linejoin="round"/>
<path d="M354 109 C360 107.5 380.7 98.2 390 100 C399.3 101.8 405 110 410 120 C415 130 418.3 153.3 420 160" stroke="#7c6822" stroke-width="12.0" fill="none" stroke-linecap="round" stroke-linejoin="round" opacity="0.75"/>
<path d="M354 109 C360 107.5 380.7 98.2 390 100 C399.3 101.8 405 110 410 120 C415 130 418.3 153.3 420 160" stroke="#c8a838" stroke-width="8.5" fill="none" stroke-linecap="round" stroke-linejoin="round"/>
<path d="M415 110 C416.2 103.3 417.8 81.3 422 70 C426.2 58.7 434.3 42.7 440 42 C445.7 41.3 455.3 55.5 456 66 C456.7 76.5 443 93.5 444 105 C445 116.5 457.7 125 462 135 C466.3 145 468.7 160 470 165" stroke="#803e1a" stroke-width="13.0" fill="none" stroke-linecap="round" stroke-linejoin="round" opacity="0.75"/>
<path d="M415 110 C416.2 103.3 417.8 81.3 422 70 C426.2 58.7 434.3 42.7 440 42 C445.7 41.3 455.3 55.5 456 66 C456.7 76.5 443 93.5 444 105 C445 116.5 457.7 125 462 135 C466.3 145 468.7 160 470 165" stroke="#d0642a" stroke-width="9.5" fill="none" stroke-linecap="round" stroke-linejoin="round"/>
<path d="M440 42 C438.7 43.7 433.3 50.3 432 52" stroke="#5e1b13" stroke-width="13.5" fill="none" stroke-linecap="round" stroke-linejoin="round" opacity="0.75"/>
<path d="M440 42 C438.7 43.7 433.3 50.3 432 52" stroke="#982c20" stroke-width="10" fill="none" stroke-linecap="round" stroke-linejoin="round"/>
<path d="M556 300 C563.3 298.3 585.7 288 600 290 C614.3 292 638.3 303.3 642 312 C645.7 320.7 631.7 337.7 622 342 C612.3 346.3 587 333 584 338 C581 343 605.7 363 604 372 C602.3 381 579 388.7 574 392" stroke="#347e65" stroke-width="12.0" fill="none" stroke-linecap="round" stroke-linejoin="round" opacity="0.75"/>
<path d="M556 300 C563.3 298.3 585.7 288 600 290 C614.3 292 638.3 303.3 642 312 C645.7 320.7 631.7 337.7 622 342 C612.3 346.3 587 333 584 338 C581 343 605.7 363 604 372 C602.3 381 579 388.7 574 392" stroke="#54cca4" stroke-width="8.5" fill="none" stroke-linecap="round" stroke-linejoin="round"/>
<path d="M520 300 C526.7 305 548 316.7 560 330 C572 343.3 592 365 592 380 C592 395 565.3 413.3 560 420" stroke="#2a7974" stroke-width="12.0" fill="none" stroke-linecap="round" stroke-linejoin="round" opacity="0.75"/>
<path d="M520 300 C526.7 305 548 316.7 560 330 C572 343.3 592 365 592 380 C592 395 565.3 413.3 560 420" stroke="#44c4bc" stroke-width="8.5" fill="none" stroke-linecap="round" stroke-linejoin="round"/>
<path d="M560 330 C566.7 328.3 590 325 600 320 C610 315 616.7 303.3 620 300" stroke="#4c886d" stroke-width="12.0" fill="none" stroke-linecap="round" stroke-linejoin="round" opacity="0.75"/>
<path d="M560 330 C566.7 328.3 590 325 600 320 C610 315 616.7 303.3 620 300" stroke="#7cdcb0" stroke-width="8.5" fill="none" stroke-linecap="round" stroke-linejoin="round"/>
<path d="M400 330 C408.3 338.3 433.3 368.3 450 380 C466.7 391.7 496.7 390 500 400 C503.3 410 466.7 428.3 470 440 C473.3 451.7 507.7 456.7 520 470 C532.3 483.3 540 511.7 544 520" stroke="#34746a" stroke-width="12.0" fill="none" stroke-linecap="round" stroke-linejoin="round" opacity="0.75"/>
<path d="M400 330 C408.3 338.3 433.3 368.3 450 380 C466.7 391.7 496.7 390 500 400 C503.3 410 466.7 428.3 470 440 C473.3 451.7 507.7 456.7 520 470 C532.3 483.3 540 511.7 544 520" stroke="#54bcac" stroke-width="8.5" fill="none" stroke-linecap="round" stroke-linejoin="round"/>
<path d="M380 400 C386.7 405 410 416.7 420 430 C430 443.3 430 468.3 440 480 C450 491.7 473.3 496.7 480 500" stroke="#407972" stroke-width="11.0" fill="none" stroke-linecap="round" stroke-linejoin="round" opacity="0.75"/>
<path d="M380 400 C386.7 405 410 416.7 420 430 C430 443.3 430 468.3 440 480 C450 491.7 473.3 496.7 480 500" stroke="#68c4b8" stroke-width="7.5" fill="none" stroke-linecap="round" stroke-linejoin="round"/>
<path d="M420 420 C428.3 418 453.3 404.7 470 408 C486.7 411.3 501.7 441 520 440 C538.3 439 562.5 407 580 402 C597.5 397 617.5 408.7 625 410" stroke="#601616" stroke-width="13.0" fill="none" stroke-linecap="round" stroke-linejoin="round" opacity="0.75"/>
<path d="M420 420 C428.3 418 453.3 404.7 470 408 C486.7 411.3 501.7 441 520 440 C538.3 439 562.5 407 580 402 C597.5 397 617.5 408.7 625 410" stroke="#9c2424" stroke-width="9.5" fill="none" stroke-linecap="round" stroke-linejoin="round"/>
<path d="M540 420 C546.7 428.3 566.7 453.3 580 470 C593.3 486.7 615 505 620 520 C625 535 611.7 553.3 610 560" stroke="#457c80" stroke-width="11.0" fill="none" stroke-linecap="round" stroke-linejoin="round" opacity="0.75"/>
<path d="M540 420 C546.7 428.3 566.7 453.3 580 470 C593.3 486.7 615 505 620 520 C625 535 611.7 553.3 610 560" stroke="#70c8d0" stroke-width="7.5" fill="none" stroke-linecap="round" stroke-linejoin="round"/>
<path d="M300 480 C306.7 486.7 335 505 340 520 C345 535 323.3 556.7 330 570 C336.7 583.3 361.7 588.3 380 600 C398.3 611.7 422.7 636.3 440 640 C457.3 643.7 476.7 625 484 622" stroke="#276a39" stroke-width="12.0" fill="none" stroke-linecap="round" stroke-linejoin="round" opacity="0.75"/>
<path d="M300 480 C306.7 486.7 335 505 340 520 C345 535 323.3 556.7 330 570 C336.7 583.3 361.7 588.3 380 600 C398.3 611.7 422.7 636.3 440 640 C457.3 643.7 476.7 625 484 622" stroke="#40ac5c" stroke-width="8.5" fill="none" stroke-linecap="round" stroke-linejoin="round"/>
<path d="M380 470 C388.3 475 415 485 430 500 C445 515 468.3 543.3 470 560 C471.7 576.7 445 593.3 440 600" stroke="#427960" stroke-width="12.0" fill="none" stroke-linecap="round" stroke-linejoin="round" opacity="0.75"/>
<path d="M380 470 C388.3 475 415 485 430 500 C445 515 468.3 543.3 470 560 C471.7 576.7 445 593.3 440 600" stroke="#6cc49c" stroke-width="8.5" fill="none" stroke-linecap="round" stroke-linejoin="round"/>
<path d="M300 470 C296.7 475 280 490 280 500 C280 510 290 530 300 530 C310 530 333.3 505 340 500" stroke="#367240" stroke-width="12.0" fill="none" stroke-linecap="round" stroke-linejoin="round" opacity="0.75"/>
<path d="M300 470 C296.7 475 280 490 280 500 C280 510 290 530 300 530 C310 530 333.3 505 340 500" stroke="#58b868" stroke-width="8.5" fill="none" stroke-linecap="round" stroke-linejoin="round"/>
<path d="M215 560 C212.5 566.7 198.3 585 200 600 C201.7 615 213.3 635 225 650 C236.7 665 252.5 685 270 690 C287.5 695 316.7 690 330 680 C343.3 670 351.7 646.7 350 630 C348.3 613.3 330 585 320 580 C310 575 293.3 588.3 290 600 C286.7 611.7 290 640 300 650 C310 660 333.3 665 350 660 C366.7 655 393.3 636.7 400 620 C406.7 603.3 398.3 573.3 390 560 C381.7 546.7 361.7 540 350 540 C338.3 540 325 556.7 320 560" stroke="#79471c" stroke-width="12.0" fill="none" stroke-linecap="round" stroke-linejoin="round" opacity="0.75"/>
<path d="M215 560 C212.5 566.7 198.3 585 200 600 C201.7 615 213.3 635 225 650 C236.7 665 252.5 685 270 690 C287.5 695 316.7 690 330 680 C343.3 670 351.7 646.7 350 630 C348.3 613.3 330 585 320 580 C310 575 293.3 588.3 290 600 C286.7 611.7 290 640 300 650 C310 660 333.3 665 350 660 C366.7 655 393.3 636.7 400 620 C406.7 603.3 398.3 573.3 390 560 C381.7 546.7 361.7 540 350 540 C338.3 540 325 556.7 320 560" stroke="#c4742e" stroke-width="8.5" fill="none" stroke-linecap="round" stroke-linejoin="round"/>
<path d="M400 690 C406.7 685 428.3 661.7 440 660 C451.7 658.3 460 683.3 470 680 C480 676.7 498.3 655 500 640 C501.7 625 490 600 480 590 C470 580 450 575 440 580 C430 585 418.3 608.3 420 620 C421.7 631.7 445 645 450 650" stroke="#6a1b1b" stroke-width="12.0" fill="none" stroke-linecap="round" stroke-linejoin="round" opacity="0.75"/>
<path d="M400 690 C406.7 685 428.3 661.7 440 660 C451.7 658.3 460 683.3 470 680 C480 676.7 498.3 655 500 640 C501.7 625 490 600 480 590 C470 580 450 575 440 580 C430 585 418.3 608.3 420 620 C421.7 631.7 445 645 450 650" stroke="#ac2c2c" stroke-width="8.5" fill="none" stroke-linecap="round" stroke-linejoin="round"/>
<path d="M230 700 C235 702.5 248.3 715 260 715 C271.7 715 286.7 699.2 300 700 C313.3 700.8 326.7 721.7 340 720 C353.3 718.3 368.3 693.3 380 690 C391.7 686.7 405 698.3 410 700" stroke="#795123" stroke-width="12.0" fill="none" stroke-linecap="round" stroke-linejoin="round" opacity="0.75"/>
<path d="M230 700 C235 702.5 248.3 715 260 715 C271.7 715 286.7 699.2 300 700 C313.3 700.8 326.7 721.7 340 720 C353.3 718.3 368.3 693.3 380 690 C391.7 686.7 405 698.3 410 700" stroke="#c4843a" stroke-width="8.5" fill="none" stroke-linecap="round" stroke-linejoin="round"/>
<path d="M270 520 C275 523.3 296.7 530 300 540 C303.3 550 298.3 571.7 290 580 C281.7 588.3 258.3 580 250 590 C241.7 600 239.2 623.3 240 640 C240.8 656.7 252.5 681.7 255 690" stroke="#743e1b" stroke-width="12.0" fill="none" stroke-linecap="round" stroke-linejoin="round" opacity="0.75"/>
<path d="M270 520 C275 523.3 296.7 530 300 540 C303.3 550 298.3 571.7 290 580 C281.7 588.3 258.3 580 250 590 C241.7 600 239.2 623.3 240 640 C240.8 656.7 252.5 681.7 255 690" stroke="#bc642c" stroke-width="8.5" fill="none" stroke-linecap="round" stroke-linejoin="round"/>
<path d="M480 500 C485 506.7 506.7 523.3 510 540 C513.3 556.7 506.7 588.3 500 600 C493.3 611.7 478.3 615 470 610 C461.7 605 453.3 576.7 450 570" stroke="#792b1b" stroke-width="12.0" fill="none" stroke-linecap="round" stroke-linejoin="round" opacity="0.75"/>
<path d="M480 500 C485 506.7 506.7 523.3 510 540 C513.3 556.7 506.7 588.3 500 600 C493.3 611.7 478.3 615 470 610 C461.7 605 453.3 576.7 450 570" stroke="#c4462c" stroke-width="8.5" fill="none" stroke-linecap="round" stroke-linejoin="round"/>
<path d="M350 480 C358.3 483.3 386.7 490 400 500 C413.3 510 428.3 526.7 430 540 C431.7 553.3 420 571.7 410 580 C400 588.3 376.7 588.3 370 590" stroke="#7e5120" stroke-width="12.0" fill="none" stroke-linecap="round" stroke-linejoin="round" opacity="0.75"/>
<path d="M350 480 C358.3 483.3 386.7 490 400 500 C413.3 510 428.3 526.7 430 540 C431.7 553.3 420 571.7 410 580 C400 588.3 376.7 588.3 370 590" stroke="#cc8434" stroke-width="8.5" fill="none" stroke-linecap="round" stroke-linejoin="round"/>
<path d="M200 520 C205 523.3 226.7 530 230 540 C233.3 550 224.2 568.3 220 580 C215.8 591.7 207.5 605 205 610" stroke="#7e6025" stroke-width="12.0" fill="none" stroke-linecap="round" stroke-linejoin="round" opacity="0.75"/>
<path d="M200 520 C205 523.3 226.7 530 230 540 C233.3 550 224.2 568.3 220 580 C215.8 591.7 207.5 605 205 610" stroke="#cc9c3c" stroke-width="8.5" fill="none" stroke-linecap="round" stroke-linejoin="round"/>
<path d="M360 600 C366.7 606.7 396.7 625 400 640 C403.3 655 383.3 681.7 380 690" stroke="#805625" stroke-width="12.0" fill="none" stroke-linecap="round" stroke-linejoin="round" opacity="0.75"/>
<path d="M360 600 C366.7 606.7 396.7 625 400 640 C403.3 655 383.3 681.7 380 690" stroke="#d08c3c" stroke-width="8.5" fill="none" stroke-linecap="round" stroke-linejoin="round"/>
<path d="M440 520 C445 520 460 513.3 470 520 C480 526.7 495 553.3 500 560" stroke="#72271d" stroke-width="12.0" fill="none" stroke-linecap="round" stroke-linejoin="round" opacity="0.75"/>
<path d="M440 520 C445 520 460 513.3 470 520 C480 526.7 495 553.3 500 560" stroke="#b84030" stroke-width="8.5" fill="none" stroke-linecap="round" stroke-linejoin="round"/>
<path d="M225 690 C227.5 694.2 234.2 709.2 240 715 C245.8 720.8 256.7 723.3 260 725" stroke="#683718" stroke-width="12.0" fill="none" stroke-linecap="round" stroke-linejoin="round" opacity="0.75"/>
<path d="M225 690 C227.5 694.2 234.2 709.2 240 715 C245.8 720.8 256.7 723.3 260 725" stroke="#a85a28" stroke-width="8.5" fill="none" stroke-linecap="round" stroke-linejoin="round"/>
<path d="M280 620 C283.3 616.7 291.7 600 300 600 C308.3 600 326.7 610 330 620 C333.3 630 326.7 653.3 320 660 C313.3 666.7 296.7 666.7 290 660 C283.3 653.3 281.7 626.7 280 620" stroke="#7c4c20" stroke-width="12.0" fill="none" stroke-linecap="round" stroke-linejoin="round" opacity="0.75"/>
<path d="M280 620 C283.3 616.7 291.7 600 300 600 C308.3 600 326.7 610 330 620 C333.3 630 326.7 653.3 320 660 C313.3 666.7 296.7 666.7 290 660 C283.3 653.3 281.7 626.7 280 620" stroke="#c87c34" stroke-width="8.5" fill="none" stroke-linecap="round" stroke-linejoin="round"/>
<path d="M410 560 C416.7 556.7 436.7 540 450 540 C463.3 540 481.7 548.3 490 560 C498.3 571.7 498.3 601.7 500 610" stroke="#77311d" stroke-width="12.0" fill="none" stroke-linecap="round" stroke-linejoin="round" opacity="0.75"/>
<path d="M410 560 C416.7 556.7 436.7 540 450 540 C463.3 540 481.7 548.3 490 560 C498.3 571.7 498.3 601.7 500 610" stroke="#c05030" stroke-width="8.5" fill="none" stroke-linecap="round" stroke-linejoin="round"/>
<path d="M262 225 C262 240.8 263.2 287.5 262 320 C260.8 352.5 257.8 386.7 255 420 C252.2 453.3 245.8 485.8 245 520 C244.2 554.2 249.2 607.5 250 625" stroke="#18309c" stroke-width="31.0" fill="none" stroke-linecap="butt" stroke-linejoin="round"/>
<path d="M262 225 C262 240.8 263.2 287.5 262 320 C260.8 352.5 257.8 386.7 255 420 C252.2 453.3 245.8 485.8 245 520 C244.2 554.2 249.2 607.5 250 625" stroke="#2c4ce0" stroke-width="26.0" fill="none" stroke-linecap="butt" stroke-linejoin="round"/>
<path d="M292 415 C294.2 429.2 299.5 473.3 305 500 C310.5 526.7 320 554.2 325 575 C330 595.8 333.3 616.7 335 625" stroke="#203890" stroke-width="24.5" fill="none" stroke-linecap="butt" stroke-linejoin="round"/>
<path d="M292 415 C294.2 429.2 299.5 473.3 305 500 C310.5 526.7 320 554.2 325 575 C330 595.8 333.3 616.7 335 625" stroke="#3a58cc" stroke-width="19.5" fill="none" stroke-linecap="butt" stroke-linejoin="round"/>
<path d="M225 250 C226.7 263.3 234.2 301.7 235 330 C235.8 358.3 229.5 395 230 420 C230.5 445 236.7 470 238 480" stroke="#314583" stroke-width="12.5" fill="none" stroke-linecap="round" stroke-linejoin="round" opacity="0.75"/>
<path d="M225 250 C226.7 263.3 234.2 301.7 235 330 C235.8 358.3 229.5 395 230 420 C230.5 445 236.7 470 238 480" stroke="#5070d4" stroke-width="9" fill="none" stroke-linecap="round" stroke-linejoin="round"/>
<path d="M300 230 C299.7 241.7 299.7 275 298 300 C296.3 325 291.3 366.7 290 380" stroke="#273b80" stroke-width="13.5" fill="none" stroke-linecap="round" stroke-linejoin="round" opacity="0.75"/>
<path d="M300 230 C299.7 241.7 299.7 275 298 300 C296.3 325 291.3 366.7 290 380" stroke="#4060d0" stroke-width="10" fill="none" stroke-linecap="round" stroke-linejoin="round"/>
<path d="M150 298 C158.3 295.3 182.2 286 200 282 C217.8 278 238.8 271.5 257 274 C275.2 276.5 294.7 285.5 309 297 C323.3 308.5 335.5 331.2 343 343 C350.5 354.8 352.2 363.8 354 368" stroke="#9a0c0c" stroke-width="38.800000000000004" fill="none" stroke-linecap="butt" stroke-linejoin="round"/>
<path d="M150 298 C158.3 295.3 182.2 286 200 282 C217.8 278 238.8 271.5 257 274 C275.2 276.5 294.7 285.5 309 297 C323.3 308.5 335.5 331.2 343 343 C350.5 354.8 352.2 363.8 354 368" stroke="#e21a1a" stroke-width="33.800000000000004" fill="none" stroke-linecap="butt" stroke-linejoin="round"/>
<path d="M145 300 C145.8 296.7 143.3 284.7 150 280 C156.7 275.3 174.2 274 185 272 C195.8 270 210 268.7 215 268" stroke="#790e0e" stroke-width="11.5" fill="none" stroke-linecap="round" stroke-linejoin="round" opacity="0.75"/>
<path d="M145 300 C145.8 296.7 143.3 284.7 150 280 C156.7 275.3 174.2 274 185 272 C195.8 270 210 268.7 215 268" stroke="#c41818" stroke-width="8" fill="none" stroke-linecap="round" stroke-linejoin="round"/>
<path d="M146 318 C150.2 322.2 170 334.2 171 343 C172 351.8 150 361.8 152 371 C154 380.2 179.2 389 183 398 C186.8 407 170.2 419.3 175 425 C179.8 430.7 205.8 430.8 212 432" stroke="#b87414" stroke-width="33.6" fill="none" stroke-linecap="round" stroke-linejoin="round"/>
<path d="M146 318 C150.2 322.2 170 334.2 171 343 C172 351.8 150 361.8 152 371 C154 380.2 179.2 389 183 398 C186.8 407 170.2 419.3 175 425 C179.8 430.7 205.8 430.8 212 432" stroke="#eeb428" stroke-width="28.6" fill="none" stroke-linecap="round" stroke-linejoin="round"/>
<path d="M158 335 C161.7 337.5 176.3 347.5 180 350" stroke="#99883b" stroke-width="11.5" fill="none" stroke-linecap="round" stroke-linejoin="round" opacity="0.75"/>
<path d="M158 335 C161.7 337.5 176.3 347.5 180 350" stroke="#f8dc60" stroke-width="8" fill="none" stroke-linecap="round" stroke-linejoin="round"/>
<path d="M160 380 C164.2 383.3 180.8 396.7 185 400" stroke="#977e31" stroke-width="11.5" fill="none" stroke-linecap="round" stroke-linejoin="round" opacity="0.75"/>
<path d="M160 380 C164.2 383.3 180.8 396.7 185 400" stroke="#f4cc50" stroke-width="8" fill="none" stroke-linecap="round" stroke-linejoin="round"/>
<path d="M143 320 C142.5 325 138.8 340 140 350 C141.2 360 148.3 375 150 380" stroke="#804013" stroke-width="11.5" fill="none" stroke-linecap="round" stroke-linejoin="round" opacity="0.75"/>
<path d="M143 320 C142.5 325 138.8 340 140 350 C141.2 360 148.3 375 150 380" stroke="#d06820" stroke-width="8" fill="none" stroke-linecap="round" stroke-linejoin="round"/>
<path d="M30 515 C33.3 510.8 40 497.2 50 490 C60 482.8 75 474 90 472 C105 470 128.3 472.5 140 478 C151.7 483.5 160.8 494.7 160 505 C159.2 515.3 143.3 536.7 135 540 C126.7 543.3 114.2 527.5 110 525" stroke="#8c0a0a" stroke-width="31.0" fill="none" stroke-linecap="round" stroke-linejoin="round"/>
<path d="M30 515 C33.3 510.8 40 497.2 50 490 C60 482.8 75 474 90 472 C105 470 128.3 472.5 140 478 C151.7 483.5 160.8 494.7 160 505 C159.2 515.3 143.3 536.7 135 540 C126.7 543.3 114.2 527.5 110 525" stroke="#d81a1a" stroke-width="26.0" fill="none" stroke-linecap="round" stroke-linejoin="round"/>
<path d="M150 490 C155.8 486.7 174.2 478.3 185 470 C195.8 461.7 210 445 215 440" stroke="#801313" stroke-width="15.5" fill="none" stroke-linecap="round" stroke-linejoin="round" opacity="0.75"/>
<path d="M150 490 C155.8 486.7 174.2 478.3 185 470 C195.8 461.7 210 445 215 440" stroke="#d02020" stroke-width="12" fill="none" stroke-linecap="round" stroke-linejoin="round"/>
<path d="M25 520 C26.7 516.7 29.2 504.2 35 500 C40.8 495.8 55.8 495.8 60 495" stroke="#720c0c" stroke-width="10.5" fill="none" stroke-linecap="round" stroke-linejoin="round" opacity="0.75"/>
<path d="M25 520 C26.7 516.7 29.2 504.2 35 500 C40.8 495.8 55.8 495.8 60 495" stroke="#b81414" stroke-width="7" fill="none" stroke-linecap="round" stroke-linejoin="round"/>
<path d="M160 505 C166.7 505.8 188.3 510.8 200 510 C211.7 509.2 225 501.7 230 500" stroke="#7c1d13" stroke-width="11.5" fill="none" stroke-linecap="round" stroke-linejoin="round" opacity="0.75"/>
<path d="M160 505 C166.7 505.8 188.3 510.8 200 510 C211.7 509.2 225 501.7 230 500" stroke="#c83020" stroke-width="8" fill="none" stroke-linecap="round" stroke-linejoin="round"/>
<path d="M358 175 C356 187.5 350.3 224.2 346 250 C341.7 275.8 336 300.8 332 330 C328 359.2 323.7 409.2 322 425" stroke="#78781a" stroke-width="36.2" fill="none" stroke-linecap="butt" stroke-linejoin="round"/>
<path d="M358 175 C356 187.5 350.3 224.2 346 250 C341.7 275.8 336 300.8 332 330 C328 359.2 323.7 409.2 322 425" stroke="#b6b424" stroke-width="31.200000000000003" fill="none" stroke-linecap="butt" stroke-linejoin="round"/>
<path d="M470 215 C476.7 216.7 497.5 218.3 510 225 C522.5 231.7 536.7 244.2 545 255 C553.3 265.8 562.5 282.5 560 290 C557.5 297.5 540 303.3 530 300 C520 296.7 505 275 500 270" stroke="#147890" stroke-width="28.400000000000002" fill="none" stroke-linecap="round" stroke-linejoin="round"/>
<path d="M470 215 C476.7 216.7 497.5 218.3 510 225 C522.5 231.7 536.7 244.2 545 255 C553.3 265.8 562.5 282.5 560 290 C557.5 297.5 540 303.3 530 300 C520 296.7 505 275 500 270" stroke="#22b4d4" stroke-width="23.400000000000002" fill="none" stroke-linecap="round" stroke-linejoin="round"/>
<path d="M500 300 C505 305 520 326.7 530 330 C540 333.3 555 321.7 560 320" stroke="#1d776d" stroke-width="13.5" fill="none" stroke-linecap="round" stroke-linejoin="round" opacity="0.75"/>
<path d="M500 300 C505 305 520 326.7 530 330 C540 333.3 555 321.7 560 320" stroke="#30c0b0" stroke-width="10" fill="none" stroke-linecap="round" stroke-linejoin="round"/>
<path d="M430 240 C434.2 250 445 281.7 455 300 C465 318.3 477.8 333.7 490 350 C502.2 366.3 521.7 390 528 398" stroke="#347818" stroke-width="36.2" fill="none" stroke-linecap="butt" stroke-linejoin="round"/>
<path d="M430 240 C434.2 250 445 281.7 455 300 C465 318.3 477.8 333.7 490 350 C502.2 366.3 521.7 390 528 398" stroke="#5cb42c" stroke-width="31.200000000000003" fill="none" stroke-linecap="butt" stroke-linejoin="round"/>
<path d="M400 300 C403.3 308.3 411.7 336.7 420 350 C428.3 363.3 445 375 450 380" stroke="#4c7c2c" stroke-width="13.5" fill="none" stroke-linecap="round" stroke-linejoin="round" opacity="0.75"/>
<path d="M400 300 C403.3 308.3 411.7 336.7 420 350 C428.3 363.3 445 375 450 380" stroke="#7cc848" stroke-width="10" fill="none" stroke-linecap="round" stroke-linejoin="round"/>
<path d="M440 170 C441.3 176.7 446 196.7 448 210 C450 223.3 451.3 243.3 452 250" stroke="#5c6410" stroke-width="28.400000000000002" fill="none" stroke-linecap="butt" stroke-linejoin="round"/>
<path d="M440 170 C441.3 176.7 446 196.7 448 210 C450 223.3 451.3 243.3 452 250" stroke="#98a020" stroke-width="23.400000000000002" fill="none" stroke-linecap="butt" stroke-linejoin="round"/>
<path d="M466 165 C471.3 178.3 487 216.7 498 245 C509 273.3 524.7 304.2 532 335 C539.3 365.8 543.7 395 542 430 C540.3 465 525.3 525.8 522 545" stroke="#8c4a10" stroke-width="31.0" fill="none" stroke-linecap="butt" stroke-linejoin="round"/>
<path d="M466 165 C471.3 178.3 487 216.7 498 245 C509 273.3 524.7 304.2 532 335 C539.3 365.8 543.7 395 542 430 C540.3 465 525.3 525.8 522 545" stroke="#de7e24" stroke-width="26.0" fill="none" stroke-linecap="butt" stroke-linejoin="round"/>
<path d="M428 185 C426 197.5 422 230.8 416 260 C410 289.2 401.7 328.3 392 360 C382.3 391.7 366.7 424.7 358 450 C349.3 475.3 343 501.7 340 512" stroke="#a85410" stroke-width="44.0" fill="none" stroke-linecap="butt" stroke-linejoin="round"/>
<path d="M428 185 C426 197.5 422 230.8 416 260 C410 289.2 401.7 328.3 392 360 C382.3 391.7 366.7 424.7 358 450 C349.3 475.3 343 501.7 340 512" stroke="#f28a1c" stroke-width="39.0" fill="none" stroke-linecap="butt" stroke-linejoin="round"/>
<path d="M422 215 C419.7 227.5 414.2 264.2 408 290 C401.8 315.8 393.7 344.2 385 370 C376.3 395.8 360.8 432.5 356 445" stroke="#99682c" stroke-width="10.5" fill="none" stroke-linecap="round" stroke-linejoin="round" opacity="0.75"/>
<path d="M422 215 C419.7 227.5 414.2 264.2 408 290 C401.8 315.8 393.7 344.2 385 370 C376.3 395.8 360.8 432.5 356 445" stroke="#f8a848" stroke-width="7" fill="none" stroke-linecap="round" stroke-linejoin="round"/>
<path d="M558 405 C562 420 575.3 465 582 495 C588.7 525 588.3 559.5 598 585 C607.7 610.5 624.7 640.2 640 648 C655.3 655.8 681 642.5 690 632 C699 621.5 701.5 603.7 694 585 C686.5 566.3 662 542.2 645 520 C628 497.8 600.8 463.3 592 452" stroke="#98961c" stroke-width="27.1" fill="none" stroke-linecap="round" stroke-linejoin="round"/>
<path d="M558 405 C562 420 575.3 465 582 495 C588.7 525 588.3 559.5 598 585 C607.7 610.5 624.7 640.2 640 648 C655.3 655.8 681 642.5 690 632 C699 621.5 701.5 603.7 694 585 C686.5 566.3 662 542.2 645 520 C628 497.8 600.8 463.3 592 452" stroke="#e6e244" stroke-width="22.1" fill="none" stroke-linecap="round" stroke-linejoin="round"/>
<path d="M560 470 C562.5 481.7 570 520 575 540 C580 560 587.5 581.7 590 590" stroke="#7c7c1d" stroke-width="12.5" fill="none" stroke-linecap="round" stroke-linejoin="round" opacity="0.75"/>
<path d="M560 470 C562.5 481.7 570 520 575 540 C580 560 587.5 581.7 590 590" stroke="#c8c830" stroke-width="9" fill="none" stroke-linecap="round" stroke-linejoin="round"/>
</g>
<circle cx="163.2" cy="692.5" r="18.8" fill="url(#tanball)"/>
<text x="154" y="699" font-size="19" fill="#cc1c1c">O<tspan font-size="11.5">2</tspan><tspan font-size="13" dy="-8.5" dx="0.5">-</tspan></text>
<path d="M183 698.8 C198 699.8 209.5 696 217.8 683.2" stroke="#e8262c" stroke-width="5.4" fill="none"/>
<polygon points="211,681.5 221.5,689.6 223.8,671.9" fill="#e8262c"/>
<path d="M280.5 580 C292 579 303 585 308.5 593" stroke="#e8262c" stroke-width="5.4" fill="none"/>
<polygon points="312.6,586 303.3,595.8 317.2,607.8" fill="#e8262c"/>
<path d="M485.2 93.3 C489.5 97.3 491.8 105.8 495.3 111.6 C498.8 117.4 502.4 124.5 506.3 128.1 C510.2 131.7 515.6 132.2 519 133 C522.4 133.8 525.2 132.8 526.4 132.7" stroke="#7e1f22" stroke-width="5.3" fill="none" stroke-linecap="round"/>
<path d="M485.2 93.3 C489.5 97.3 491.8 105.8 495.3 111.6 C498.8 117.4 502.4 124.5 506.3 128.1 C510.2 131.7 515.6 132.2 519 133 C522.4 133.8 525.2 132.8 526.4 132.7" stroke="#c03a3c" stroke-width="3.816" fill="none" stroke-linecap="round" transform="translate(0,-0.35)"/>
<path d="M485.2 93.3 C489.5 97.3 491.8 105.8 495.3 111.6 C498.8 117.4 502.4 124.5 506.3 128.1 C510.2 131.7 515.6 132.2 519 133 C522.4 133.8 525.2 132.8 526.4 132.7" stroke="#d86060" stroke-width="1.325" fill="none" stroke-linecap="round" transform="translate(0,-0.8)" opacity="0.8"/>
<path d="M421 46 C422.2 47.5 425.4 51.6 428 55 C430.6 58.4 433.3 62.2 436.6 66.5 C439.9 70.8 442.1 77 447.6 80.5 C453.1 84 463.3 85.4 469.6 87.5 C475.9 89.6 480.9 89.3 485.2 93.3" stroke="#24479a" stroke-width="5.3" fill="none" stroke-linecap="round"/>
<path d="M421 46 C422.2 47.5 425.4 51.6 428 55 C430.6 58.4 433.3 62.2 436.6 66.5 C439.9 70.8 442.1 77 447.6 80.5 C453.1 84 463.3 85.4 469.6 87.5 C475.9 89.6 480.9 89.3 485.2 93.3" stroke="#3a6fcc" stroke-width="3.816" fill="none" stroke-linecap="round" transform="translate(0,-0.35)"/>
<path d="M421 46 C422.2 47.5 425.4 51.6 428 55 C430.6 58.4 433.3 62.2 436.6 66.5 C439.9 70.8 442.1 77 447.6 80.5 C453.1 84 463.3 85.4 469.6 87.5 C475.9 89.6 480.9 89.3 485.2 93.3" stroke="#6c9ae8" stroke-width="1.325" fill="none" stroke-linecap="round" transform="translate(0,-0.8)" opacity="0.8"/>
<path d="M477 108 C482.2 111.4 486.7 120.1 491.6 124.5 C496.5 128.9 500.3 132.8 506.3 134.5 C512.3 136.2 523.9 134.8 527.4 134.8" stroke="#7e1f22" stroke-width="5.3" fill="none" stroke-linecap="round"/>
<path d="M477 108 C482.2 111.4 486.7 120.1 491.6 124.5 C496.5 128.9 500.3 132.8 506.3 134.5 C512.3 136.2 523.9 134.8 527.4 134.8" stroke="#c03a3c" stroke-width="3.816" fill="none" stroke-linecap="round" transform="translate(0,-0.35)"/>
<path d="M477 108 C482.2 111.4 486.7 120.1 491.6 124.5 C496.5 128.9 500.3 132.8 506.3 134.5 C512.3 136.2 523.9 134.8 527.4 134.8" stroke="#d86060" stroke-width="1.325" fill="none" stroke-linecap="round" transform="translate(0,-0.8)" opacity="0.8"/>
<path d="M404 77 C405 78.5 407.6 82.7 410 86 C412.4 89.3 413.9 93.8 418.3 97 C422.7 100.2 429.6 104 436.6 105.2 C443.6 106.4 453.8 103.8 460.5 104.3 C467.2 104.8 471.8 104.6 477 108" stroke="#24479a" stroke-width="5.3" fill="none" stroke-linecap="round"/>
<path d="M404 77 C405 78.5 407.6 82.7 410 86 C412.4 89.3 413.9 93.8 418.3 97 C422.7 100.2 429.6 104 436.6 105.2 C443.6 106.4 453.8 103.8 460.5 104.3 C467.2 104.8 471.8 104.6 477 108" stroke="#3a6fcc" stroke-width="3.816" fill="none" stroke-linecap="round" transform="translate(0,-0.35)"/>
<path d="M404 77 C405 78.5 407.6 82.7 410 86 C412.4 89.3 413.9 93.8 418.3 97 C422.7 100.2 429.6 104 436.6 105.2 C443.6 106.4 453.8 103.8 460.5 104.3 C467.2 104.8 471.8 104.6 477 108" stroke="#6c9ae8" stroke-width="1.325" fill="none" stroke-linecap="round" transform="translate(0,-0.8)" opacity="0.8"/>
<path d="M471.5 121.7 C477 123.1 482.2 128.8 488 131.8 C493.8 134.9 499.7 139.1 506.3 140 C512.9 140.9 523.9 137.8 527.4 137.3" stroke="#7e1f22" stroke-width="5.3" fill="none" stroke-linecap="round"/>
<path d="M471.5 121.7 C477 123.1 482.2 128.8 488 131.8 C493.8 134.9 499.7 139.1 506.3 140 C512.9 140.9 523.9 137.8 527.4 137.3" stroke="#c03a3c" stroke-width="3.816" fill="none" stroke-linecap="round" transform="translate(0,-0.35)"/>
<path d="M471.5 121.7 C477 123.1 482.2 128.8 488 131.8 C493.8 134.9 499.7 139.1 506.3 140 C512.9 140.9 523.9 137.8 527.4 137.3" stroke="#d86060" stroke-width="1.325" fill="none" stroke-linecap="round" transform="translate(0,-0.8)" opacity="0.8"/>
<path d="M393 111 C394.2 111.7 395.8 112.5 400 115.3 C404.2 118.1 412.2 125.6 418.3 128.1 C424.4 130.5 430.5 130.8 436.6 130 C442.7 129.2 449.2 124.9 455 123.5 C460.8 122.1 466 120.3 471.5 121.7" stroke="#24479a" stroke-width="5.3" fill="none" stroke-linecap="round"/>
<path d="M393 111 C394.2 111.7 395.8 112.5 400 115.3 C404.2 118.1 412.2 125.6 418.3 128.1 C424.4 130.5 430.5 130.8 436.6 130 C442.7 129.2 449.2 124.9 455 123.5 C460.8 122.1 466 120.3 471.5 121.7" stroke="#3a6fcc" stroke-width="3.816" fill="none" stroke-linecap="round" transform="translate(0,-0.35)"/>
<path d="M393 111 C394.2 111.7 395.8 112.5 400 115.3 C404.2 118.1 412.2 125.6 418.3 128.1 C424.4 130.5 430.5 130.8 436.6 130 C442.7 129.2 449.2 124.9 455 123.5 C460.8 122.1 466 120.3 471.5 121.7" stroke="#6c9ae8" stroke-width="1.325" fill="none" stroke-linecap="round" transform="translate(0,-0.8)" opacity="0.8"/>
<path d="M467.8 137.3 C473 137.8 479.7 141.3 486.1 142.8 C492.5 144.3 500.7 146.4 506.3 146.4 C511.9 146.4 516.3 144.4 520 143 C523.7 141.6 526.9 139 528.3 138.2" stroke="#7e1f22" stroke-width="5.3" fill="none" stroke-linecap="round"/>
<path d="M467.8 137.3 C473 137.8 479.7 141.3 486.1 142.8 C492.5 144.3 500.7 146.4 506.3 146.4 C511.9 146.4 516.3 144.4 520 143 C523.7 141.6 526.9 139 528.3 138.2" stroke="#c03a3c" stroke-width="3.816" fill="none" stroke-linecap="round" transform="translate(0,-0.35)"/>
<path d="M467.8 137.3 C473 137.8 479.7 141.3 486.1 142.8 C492.5 144.3 500.7 146.4 506.3 146.4 C511.9 146.4 516.3 144.4 520 143 C523.7 141.6 526.9 139 528.3 138.2" stroke="#d86060" stroke-width="1.325" fill="none" stroke-linecap="round" transform="translate(0,-0.8)" opacity="0.8"/>
<path d="M395 149 C395.8 149.1 396.1 148.7 400 149.3 C403.9 150 412.2 152.6 418.3 152.9 C424.4 153.2 430.5 153.2 436.6 151 C442.7 148.8 449.8 142.3 455 140 C460.2 137.7 462.6 136.8 467.8 137.3" stroke="#24479a" stroke-width="5.3" fill="none" stroke-linecap="round"/>
<path d="M395 149 C395.8 149.1 396.1 148.7 400 149.3 C403.9 150 412.2 152.6 418.3 152.9 C424.4 153.2 430.5 153.2 436.6 151 C442.7 148.8 449.8 142.3 455 140 C460.2 137.7 462.6 136.8 467.8 137.3" stroke="#3a6fcc" stroke-width="3.816" fill="none" stroke-linecap="round" transform="translate(0,-0.35)"/>
<path d="M395 149 C395.8 149.1 396.1 148.7 400 149.3 C403.9 150 412.2 152.6 418.3 152.9 C424.4 153.2 430.5 153.2 436.6 151 C442.7 148.8 449.8 142.3 455 140 C460.2 137.7 462.6 136.8 467.8 137.3" stroke="#6c9ae8" stroke-width="1.325" fill="none" stroke-linecap="round" transform="translate(0,-0.8)" opacity="0.8"/>
<path d="M384 35.3 L408.4 22.8" stroke="#a8863a" stroke-width="3.3" stroke-linecap="round" fill="none"/>
<path d="M384 35 L408.4 22.5" stroke="#f6e3a0" stroke-width="2.046" stroke-linecap="round" fill="none"/>
<path d="M305.5 80.6 L333.8 81.9" stroke="#a8863a" stroke-width="3.3" stroke-linecap="round" fill="none"/>
<path d="M305.5 80.3 L333.8 81.6" stroke="#f6e3a0" stroke-width="2.046" stroke-linecap="round" fill="none"/>
<path d="M336.4 100.2 L365.6 79.4" stroke="#a8863a" stroke-width="3.3" stroke-linecap="round" fill="none"/>
<path d="M336.4 99.9 L365.6 79.1" stroke="#f6e3a0" stroke-width="2.046" stroke-linecap="round" fill="none"/>
<path d="M365.6 79.4 L388.7 109" stroke="#a8863a" stroke-width="3.3" stroke-linecap="round" fill="none"/>
<path d="M365.6 79.1 L388.7 108.7" stroke="#f6e3a0" stroke-width="2.046" stroke-linecap="round" fill="none"/>
<path d="M388.7 109 L364 129.1" stroke="#a8863a" stroke-width="3.3" stroke-linecap="round" fill="none"/>
<path d="M388.7 108.7 L364 128.8" stroke="#f6e3a0" stroke-width="2.046" stroke-linecap="round" fill="none"/>
<path d="M336.4 100.2 L364 129.1" stroke="#a8863a" stroke-width="3.3" stroke-linecap="round" fill="none"/>
<path d="M336.4 99.9 L364 128.8" stroke="#f6e3a0" stroke-width="2.046" stroke-linecap="round" fill="none"/>
<path d="M364 129.1 L390.3 149.5" stroke="#a8863a" stroke-width="3.3" stroke-linecap="round" fill="none"/>
<path d="M364 128.8 L390.3 149.2" stroke="#f6e3a0" stroke-width="2.046" stroke-linecap="round" fill="none"/>
<path d="M364 129.1 L336.9 152.7" stroke="#a8863a" stroke-width="3.3" stroke-linecap="round" fill="none"/>
<path d="M364 128.8 L336.9 152.4" stroke="#f6e3a0" stroke-width="2.046" stroke-linecap="round" fill="none"/>
<polygon points="372.6,13.4 363.6,17.7 364.9,25.9 373.6,21.3" fill="#dc8fc3"/>
<polygon points="372.6,13.4 380.8,17.7 380.3,26.7 373.6,21.3" fill="#f0b4e3"/>
<polygon points="364.9,25.9 372.2,31 373.6,21.3" fill="#a5628b"/>
<polygon points="372.2,31 380.3,26.7 373.6,21.3" fill="#c27cae"/>
<polygon points="416.2,31.4 407.2,35.7 408.5,43.9 417.2,39.3" fill="#dc8fc3"/>
<polygon points="416.2,31.4 424.4,35.7 423.9,44.7 417.2,39.3" fill="#f0b4e3"/>
<polygon points="408.5,43.9 415.8,49 417.2,39.3" fill="#a5628b"/>
<polygon points="415.8,49 423.9,44.7 417.2,39.3" fill="#c27cae"/>
<polygon points="399.7,63.6 390.7,67.9 392,76.1 400.7,71.5" fill="#dc8fc3"/>
<polygon points="399.7,63.6 407.9,67.9 407.4,76.9 400.7,71.5" fill="#f0b4e3"/>
<polygon points="392,76.1 399.3,81.2 400.7,71.5" fill="#a5628b"/>
<polygon points="399.3,81.2 407.4,76.9 400.7,71.5" fill="#c27cae"/>
<polygon points="365.6,70.8 356.6,75.1 357.9,83.3 366.6,78.7" fill="#dc8fc3"/>
<polygon points="365.6,70.8 373.8,75.1 373.3,84.1 366.6,78.7" fill="#f0b4e3"/>
<polygon points="357.9,83.3 365.2,88.4 366.6,78.7" fill="#a5628b"/>
<polygon points="365.2,88.4 373.3,84.1 366.6,78.7" fill="#c27cae"/>
<polygon points="336.4,91.6 327.4,95.9 328.7,104.1 337.4,99.5" fill="#dc8fc3"/>
<polygon points="336.4,91.6 344.6,95.9 344.1,104.9 337.4,99.5" fill="#f0b4e3"/>
<polygon points="328.7,104.1 336,109.2 337.4,99.5" fill="#a5628b"/>
<polygon points="336,109.2 344.1,104.9 337.4,99.5" fill="#c27cae"/>
<polygon points="388.7,100.4 379.7,104.7 381,112.9 389.7,108.3" fill="#dc8fc3"/>
<polygon points="388.7,100.4 396.9,104.7 396.4,113.7 389.7,108.3" fill="#f0b4e3"/>
<polygon points="381,112.9 388.3,118 389.7,108.3" fill="#a5628b"/>
<polygon points="388.3,118 396.4,113.7 389.7,108.3" fill="#c27cae"/>
<polygon points="364,120.5 355,124.8 356.3,133 365,128.4" fill="#dc8fc3"/>
<polygon points="364,120.5 372.2,124.8 371.7,133.8 365,128.4" fill="#f0b4e3"/>
<polygon points="356.3,133 363.6,138.1 365,128.4" fill="#a5628b"/>
<polygon points="363.6,138.1 371.7,133.8 365,128.4" fill="#c27cae"/>
<polygon points="390.3,140.9 381.3,145.2 382.6,153.4 391.3,148.8" fill="#dc8fc3"/>
<polygon points="390.3,140.9 398.5,145.2 398,154.2 391.3,148.8" fill="#f0b4e3"/>
<polygon points="382.6,153.4 389.9,158.5 391.3,148.8" fill="#a5628b"/>
<polygon points="389.9,158.5 398,154.2 391.3,148.8" fill="#c27cae"/>
<circle cx="384.5" cy="28.7" r="4.3" fill="url(#redball)"/>
<circle cx="407.3" cy="30.3" r="4.3" fill="url(#redball)"/>
<circle cx="390" cy="62.8" r="4.3" fill="url(#redball)"/>
<circle cx="418.6" cy="65.2" r="4.3" fill="url(#redball)"/>
<circle cx="310.7" cy="74.6" r="4.3" fill="url(#redball)"/>
<circle cx="334.2" cy="88" r="4.3" fill="url(#redball)"/>
<circle cx="401.3" cy="132" r="4.3" fill="url(#redball)"/>
<g>
<polygon points="32.5,13.8 67.5,13.8 60.7,35.3 81.8,28.1 81.8,63.5 60.7,56.7 67.5,78.2 32.5,78.2 39.3,56.7 18.1,63.5 18.1,28.1 39.3,35.3" fill="#c47aa8"/>
<polygon points="32.5,13.8 50,13.8 39.3,35.3" fill="#9c6081"/>
<polygon points="50,13.8 50,28.1 39.3,35.3" fill="#c077a4"/>
<polygon points="50,13.8 60.7,35.3 50,28.1" fill="#cf86b6"/>
<polygon points="50,13.8 67.5,13.8 60.7,35.3" fill="#e9aedb"/>
<polygon points="18.1,28.1 18.1,46 32.5,46 39.3,35.3" fill="#de8cc2"/>
<polygon points="18.1,46 18.1,63.5 39.3,56.7 32.5,46" fill="#a96a8c"/>
<polygon points="81.8,28.1 81.8,46 60.7,35.3" fill="#e7a6d6"/>
<polygon points="81.8,46 67.5,46 60.7,35.3" fill="#c98ab4"/>
<polygon points="81.8,46 81.8,63.5 60.7,56.7 67.5,46" fill="#aa678b"/>
<polygon points="32.5,78.2 50,78.2 39.3,56.7" fill="#a26483"/>
<polygon points="50,78.2 67.5,78.2 60.7,56.7 50,63.5 39.3,56.7" fill="#e395c9"/>
<polygon points="50,28.1 67.5,46 50,63.5 32.5,46" fill="#d97db3" stroke="#b4588f" stroke-width="0.8" stroke-linejoin="round"/>
<circle cx="32.5" cy="13.8" r="0.9" fill="#5a2040"/>
<circle cx="50" cy="13.8" r="0.9" fill="#5a2040"/>
<circle cx="67.5" cy="13.8" r="0.9" fill="#5a2040"/>
<circle cx="32.5" cy="78.2" r="0.9" fill="#5a2040"/>
<circle cx="50" cy="78.2" r="0.9" fill="#5a2040"/>
<circle cx="67.5" cy="78.2" r="0.9" fill="#5a2040"/>
<circle cx="18.1" cy="28.1" r="0.9" fill="#5a2040"/>
<circle cx="18.1" cy="46" r="0.9" fill="#5a2040"/>
<circle cx="18.1" cy="63.5" r="0.9" fill="#5a2040"/>
<circle cx="81.8" cy="28.1" r="0.9" fill="#5a2040"/>
<circle cx="81.8" cy="46" r="0.9" fill="#5a2040"/>
<circle cx="81.8" cy="63.5" r="0.9" fill="#5a2040"/>
<circle cx="50" cy="28.1" r="0.9" fill="#5a2040"/>
<circle cx="67.5" cy="46" r="0.9" fill="#5a2040"/>
<circle cx="50" cy="63.5" r="0.9" fill="#5a2040"/>
<circle cx="32.5" cy="46" r="0.9" fill="#5a2040"/>
<circle cx="39.3" cy="35.3" r="0.9" fill="#5a2040"/>
<circle cx="60.7" cy="35.3" r="0.9" fill="#5a2040"/>
<circle cx="39.3" cy="56.7" r="0.9" fill="#5a2040"/>
<circle cx="60.7" cy="56.7" r="0.9" fill="#5a2040"/>
</g>
<path d="M46.6 156.4 L60.1 160.9 M60.1 160.9 L62.9 173.3 M62.9 173.3 L53.3 182.9 M53.3 182.9 L40.4 178.9 M40.4 178.9 L37.6 166 M37.6 166 L46.6 156.4 M60.1 160.9 L69.1 150.2 M69.1 150.2 L65.1 139 M69.1 150.2 L81.4 155.3 M62.9 173.3 L75.8 176.7 M40.4 178.9 L31.9 188.5 M31.9 188.5 L20.1 184 M31.9 188.5 L36.4 199.7" stroke="#b08414" stroke-width="3.3" stroke-linecap="round" stroke-linejoin="round" fill="none"/>
<path d="M46.6 156.4 L60.1 160.9 M60.1 160.9 L62.9 173.3 M62.9 173.3 L53.3 182.9 M53.3 182.9 L40.4 178.9 M40.4 178.9 L37.6 166 M37.6 166 L46.6 156.4 M60.1 160.9 L69.1 150.2 M69.1 150.2 L65.1 139 M69.1 150.2 L81.4 155.3 M62.9 173.3 L75.8 176.7 M40.4 178.9 L31.9 188.5 M31.9 188.5 L20.1 184 M31.9 188.5 L36.4 199.7" stroke="#eec234" stroke-width="1.5" stroke-linecap="round" stroke-linejoin="round" fill="none"/>
<circle cx="166" cy="65.2" r="13.6" fill="url(#redball)"/>
<path d="M134.5 167 C139 152 147 146 157 143.5" stroke="#2f7fd0" stroke-width="1.8" fill="none" stroke-linecap="round"/>
<path d="M157 143.5 C163 142 168 139 171.5 134" stroke="#b82a2a" stroke-width="2" fill="none"/>
<path d="M171.5 134 C176 127 176 113 187 108.8" stroke="#2f7fd0" stroke-width="1.8" fill="none" stroke-linecap="round"/>
<path d="M499.6 268.1 L510.4 267.6 M510.4 267.6 L513.3 276.3 M513.3 276.3 L505.1 281.5 M505.1 281.5 L498.2 276.3 M498.2 276.3 L499.6 268.1 M499.6 322.1 L510.4 322.1 M510.4 322.1 L513.3 313.4 M513.3 313.4 L505.1 308.8 M505.1 308.8 L497.5 313.4 M497.5 313.4 L499.6 322.1 M477.3 289.7 L477.3 299.7 M477.3 299.7 L485.9 302.6 M485.9 302.6 L491.3 294.7 M491.3 294.7 L485.9 287.5 M485.9 287.5 L477.3 289.7 M533.5 289.7 L533.5 299.7 M533.5 299.7 L524.8 302.6 M524.8 302.6 L519.5 294.7 M519.5 294.7 L524.8 287.5 M524.8 287.5 L533.5 289.7 M488.1 278.1 L498.2 276.3 M488.1 278.1 L485.9 287.5 M521.9 278.1 L513.3 276.3 M521.9 278.1 L524.8 287.5 M488.1 311.3 L497.5 313.4 M488.1 311.3 L485.9 302.6 M521.9 311.3 L513.3 313.4 M521.9 311.3 L524.8 302.6 M505.1 281.5 L505.1 308.8 M491.3 294.7 L519.5 294.7 M488.1 278.1 L483.8 272.4 M483.8 272.4 L478 270.9 M478 270.9 L470.1 263.7 M470.1 263.7 L470.1 260.1 M470.1 260.1 L476.6 261.6 M476.6 261.6 L484.2 268.8 M484.2 268.8 L483.8 272.4 M470.1 260.1 L465.8 253.7 M465.8 253.7 L458.6 251.5 M465.8 253.7 L468 248.6 M521.9 278.1 L527.7 272.4 M527.7 272.4 L536.3 266.6 M536.3 266.6 L546.4 254.4 M527.7 272.4 L537.8 261.6 M537.8 261.6 L546.4 254.4 M546.4 254.4 L548.6 248.6 M546.4 254.4 L553.6 250.8 M488.1 311.3 L483.1 316.3 M483.1 316.3 L475.9 317 M475.9 317 L468.7 324.2 M468.7 324.2 L471.6 330.7 M471.6 330.7 L478 330 M478 330 L483.8 322.8 M483.8 322.8 L483.1 316.3 M471.6 330.7 L464.4 338.6 M464.4 338.6 L455.7 337.9 M464.4 338.6 L465.1 345.8 M521.9 311.3 L527 316.3 M527 316.3 L533.5 318.5 M533.5 318.5 L539.9 327.8 M539.9 327.8 L539.2 332.1 M539.2 332.1 L532.7 329.3 M532.7 329.3 L527 320.6 M527 320.6 L527 316.3 M539.2 332.1 L545.7 337.9 M545.7 337.9 L551.5 336.7 M545.7 337.9 L545 345.1" stroke="#1b4cb0" stroke-width="2.7" stroke-linecap="round" stroke-linejoin="round" fill="none"/>
<path d="M499.6 268.1 L510.4 267.6 M510.4 267.6 L513.3 276.3 M513.3 276.3 L505.1 281.5 M505.1 281.5 L498.2 276.3 M498.2 276.3 L499.6 268.1 M499.6 322.1 L510.4 322.1 M510.4 322.1 L513.3 313.4 M513.3 313.4 L505.1 308.8 M505.1 308.8 L497.5 313.4 M497.5 313.4 L499.6 322.1 M477.3 289.7 L477.3 299.7 M477.3 299.7 L485.9 302.6 M485.9 302.6 L491.3 294.7 M491.3 294.7 L485.9 287.5 M485.9 287.5 L477.3 289.7 M533.5 289.7 L533.5 299.7 M533.5 299.7 L524.8 302.6 M524.8 302.6 L519.5 294.7 M519.5 294.7 L524.8 287.5 M524.8 287.5 L533.5 289.7 M488.1 278.1 L498.2 276.3 M488.1 278.1 L485.9 287.5 M521.9 278.1 L513.3 276.3 M521.9 278.1 L524.8 287.5 M488.1 311.3 L497.5 313.4 M488.1 311.3 L485.9 302.6 M521.9 311.3 L513.3 313.4 M521.9 311.3 L524.8 302.6 M505.1 281.5 L505.1 308.8 M491.3 294.7 L519.5 294.7 M488.1 278.1 L483.8 272.4 M483.8 272.4 L478 270.9 M478 270.9 L470.1 263.7 M470.1 263.7 L470.1 260.1 M470.1 260.1 L476.6 261.6 M476.6 261.6 L484.2 268.8 M484.2 268.8 L483.8 272.4 M470.1 260.1 L465.8 253.7 M465.8 253.7 L458.6 251.5 M465.8 253.7 L468 248.6 M521.9 278.1 L527.7 272.4 M527.7 272.4 L536.3 266.6 M536.3 266.6 L546.4 254.4 M527.7 272.4 L537.8 261.6 M537.8 261.6 L546.4 254.4 M546.4 254.4 L548.6 248.6 M546.4 254.4 L553.6 250.8 M488.1 311.3 L483.1 316.3 M483.1 316.3 L475.9 317 M475.9 317 L468.7 324.2 M468.7 324.2 L471.6 330.7 M471.6 330.7 L478 330 M478 330 L483.8 322.8 M483.8 322.8 L483.1 316.3 M471.6 330.7 L464.4 338.6 M464.4 338.6 L455.7 337.9 M464.4 338.6 L465.1 345.8 M521.9 311.3 L527 316.3 M527 316.3 L533.5 318.5 M533.5 318.5 L539.9 327.8 M539.9 327.8 L539.2 332.1 M539.2 332.1 L532.7 329.3 M532.7 329.3 L527 320.6 M527 320.6 L527 316.3 M539.2 332.1 L545.7 337.9 M545.7 337.9 L551.5 336.7 M545.7 337.9 L545 345.1" stroke="#2f74e6" stroke-width="1.2" stroke-linecap="round" stroke-linejoin="round" fill="none"/>
<circle cx="468" cy="248.9" r="1.1" fill="#c83030"/>
<circle cx="548.6" cy="248.9" r="1.1" fill="#c83030"/>
<circle cx="465.1" cy="345.5" r="1.1" fill="#c83030"/>
<circle cx="545" cy="344.8" r="1.1" fill="#c83030"/>
<path d="M190.3 338 V466" stroke="#f3ebc0" stroke-width="3" fill="none"/>
<path d="M190.3 345 V372 M190.3 428 V455" stroke="#e8d890" stroke-width="3.6" fill="none"/>
<path d="M113 399.8 H235" stroke="#b88a18" stroke-width="3" fill="none"/>
<path d="M113 399.5 H235" stroke="#f0c63a" stroke-width="1.3" fill="none"/>
<path d="M235 399.8 H253" stroke="#f3e7a8" stroke-width="2.6" fill="none"/>
<path d="M120 399.8 h7 M140 399.8 h8 M222 399.8 h7 M206 399.8 h6" stroke="#8a3a20" stroke-width="2.4" fill="none"/>
<path d="M175.3 338 V372 M175.3 428 V463" stroke="#b88a18" stroke-width="4.2" fill="none"/>
<path d="M174.8 338 V372 M174.8 428 V463" stroke="#f0c63a" stroke-width="1.6" fill="none"/>
<path d="M172 347 l5 6 l-5 7 l5 6 M172 437 l5 6 l-5 7 l5 6" stroke="#b88a18" stroke-width="1.6" fill="none"/>
<path d="M162 377 L173 375.1 M162 377 L161 388.1 M162 377 L154 369.6 M154 369.6 L156.4 359 M156.4 359 L148.4 351.6 M148.4 351.6 L137.9 354.9 M137.9 354.9 L135.5 365.6 M135.5 365.6 L143.5 373 M143.5 373 L154 369.6 M143.5 373 L140.6 382.3 M137.9 354.9 L130.9 348.5 M130.9 348.5 L132.4 337.9 M130.9 348.5 L120.4 350.9" stroke="#b08414" stroke-width="3.5" stroke-linecap="round" stroke-linejoin="round" fill="none"/>
<path d="M162 377 L173 375.1 M162 377 L161 388.1 M162 377 L154 369.6 M154 369.6 L156.4 359 M156.4 359 L148.4 351.6 M148.4 351.6 L137.9 354.9 M137.9 354.9 L135.5 365.6 M135.5 365.6 L143.5 373 M143.5 373 L154 369.6 M143.5 373 L140.6 382.3 M137.9 354.9 L130.9 348.5 M130.9 348.5 L132.4 337.9 M130.9 348.5 L120.4 350.9" stroke="#eec234" stroke-width="1.6" stroke-linecap="round" stroke-linejoin="round" fill="none"/>
<path d="M162 423.5 L173 425.4 M162 423.5 L161 412.4 M162 423.5 L154 430.9 M154 430.9 L156.4 441.5 M156.4 441.5 L148.4 448.9 M148.4 448.9 L137.9 445.6 M137.9 445.6 L135.5 434.9 M135.5 434.9 L143.5 427.5 M143.5 427.5 L154 430.9 M143.5 427.5 L140.6 418.2 M137.9 445.6 L130.9 452 M130.9 452 L132.4 462.6 M130.9 452 L120.4 449.6" stroke="#b08414" stroke-width="3.5" stroke-linecap="round" stroke-linejoin="round" fill="none"/>
<path d="M162 423.5 L173 425.4 M162 423.5 L161 412.4 M162 423.5 L154 430.9 M154 430.9 L156.4 441.5 M156.4 441.5 L148.4 448.9 M148.4 448.9 L137.9 445.6 M137.9 445.6 L135.5 434.9 M135.5 434.9 L143.5 427.5 M143.5 427.5 L154 430.9 M143.5 427.5 L140.6 418.2 M137.9 445.6 L130.9 452 M130.9 452 L132.4 462.6 M130.9 452 L120.4 449.6" stroke="#eec234" stroke-width="1.6" stroke-linecap="round" stroke-linejoin="round" fill="none"/>
<path d="M203.2 423.5 L192.2 425.4 M203.2 423.5 L204.2 412.4 M203.2 423.5 L211.2 430.9 M211.2 430.9 L208.8 441.5 M208.8 441.5 L216.8 448.9 M216.8 448.9 L227.3 445.6 M227.3 445.6 L229.7 434.9 M229.7 434.9 L221.7 427.5 M221.7 427.5 L211.2 430.9 M221.7 427.5 L224.6 418.2 M227.3 445.6 L234.3 452 M234.3 452 L232.8 462.6 M234.3 452 L244.8 449.6" stroke="#b08414" stroke-width="3.5" stroke-linecap="round" stroke-linejoin="round" fill="none"/>
<path d="M203.2 423.5 L192.2 425.4 M203.2 423.5 L204.2 412.4 M203.2 423.5 L211.2 430.9 M211.2 430.9 L208.8 441.5 M208.8 441.5 L216.8 448.9 M216.8 448.9 L227.3 445.6 M227.3 445.6 L229.7 434.9 M229.7 434.9 L221.7 427.5 M221.7 427.5 L211.2 430.9 M221.7 427.5 L224.6 418.2 M227.3 445.6 L234.3 452 M234.3 452 L232.8 462.6 M234.3 452 L244.8 449.6" stroke="#eec234" stroke-width="1.6" stroke-linecap="round" stroke-linejoin="round" fill="none"/>
<path d="M250.6 289.7 L263.8 289.1 M263.8 289.1 L267.4 299.7 M267.4 299.7 L257.3 306.1 M257.3 306.1 L248.8 299.7 M248.8 299.7 L250.6 289.7 M250.6 356 L263.8 356 M263.8 356 L267.4 345.4 M267.4 345.4 L257.3 339.7 M257.3 339.7 L247.9 345.4 M247.9 345.4 L250.6 356 M223.1 316.2 L223.1 328.6 M223.1 328.6 L233.8 332.1 M233.8 332.1 L240.3 322.4 M240.3 322.4 L233.8 313.5 M233.8 313.5 L223.1 316.2 M292.2 316.2 L292.2 328.6 M292.2 328.6 L281.5 332.1 M281.5 332.1 L275 322.4 M275 322.4 L281.5 313.5 M281.5 313.5 L292.2 316.2 M236.4 302 L248.8 299.7 M236.4 302 L233.8 313.5 M278 302 L267.4 299.7 M278 302 L281.5 313.5 M236.4 342.8 L247.9 345.4 M236.4 342.8 L233.8 332.1 M278 342.8 L267.4 345.4 M278 342.8 L281.5 332.1 M257.3 306.1 L257.3 339.7 M240.3 322.4 L275 322.4 M236.4 302 L231.1 295 M231.1 295 L224 293.2 M224 293.2 L214.3 284.3 M214.3 284.3 L214.3 279.9 M214.3 279.9 L222.3 281.7 M222.3 281.7 L231.6 290.5 M231.6 290.5 L231.1 295 M214.3 279.9 L209 272 M209 272 L200.1 269.3 M209 272 L211.6 265.8 M278 302 L285.1 295 M285.1 295 L295.7 287.9 M295.7 287.9 L308.1 272.8 M285.1 295 L297.5 281.7 M297.5 281.7 L308.1 272.8 M308.1 272.8 L310.8 265.8 M308.1 272.8 L316.9 268.4 M236.4 342.8 L230.2 348.9 M230.2 348.9 L221.4 349.8 M221.4 349.8 L212.5 358.7 M212.5 358.7 L216.1 366.6 M216.1 366.6 L224 365.8 M224 365.8 L231.1 356.9 M231.1 356.9 L230.2 348.9 M216.1 366.6 L207.2 376.4 M207.2 376.4 L196.6 375.5 M207.2 376.4 L208.1 385.2 M278 342.8 L284.2 348.9 M284.2 348.9 L292.2 351.6 M292.2 351.6 L300.1 363.1 M300.1 363.1 L299.2 368.4 M299.2 368.4 L291.3 364.9 M291.3 364.9 L284.2 354.3 M284.2 354.3 L284.2 348.9 M299.2 368.4 L307.2 375.5 M307.2 375.5 L314.3 374.1 M307.2 375.5 L306.3 384.3" stroke="#1b4cb0" stroke-width="3.3" stroke-linecap="round" stroke-linejoin="round" fill="none"/>
<path d="M250.6 289.7 L263.8 289.1 M263.8 289.1 L267.4 299.7 M267.4 299.7 L257.3 306.1 M257.3 306.1 L248.8 299.7 M248.8 299.7 L250.6 289.7 M250.6 356 L263.8 356 M263.8 356 L267.4 345.4 M267.4 345.4 L257.3 339.7 M257.3 339.7 L247.9 345.4 M247.9 345.4 L250.6 356 M223.1 316.2 L223.1 328.6 M223.1 328.6 L233.8 332.1 M233.8 332.1 L240.3 322.4 M240.3 322.4 L233.8 313.5 M233.8 313.5 L223.1 316.2 M292.2 316.2 L292.2 328.6 M292.2 328.6 L281.5 332.1 M281.5 332.1 L275 322.4 M275 322.4 L281.5 313.5 M281.5 313.5 L292.2 316.2 M236.4 302 L248.8 299.7 M236.4 302 L233.8 313.5 M278 302 L267.4 299.7 M278 302 L281.5 313.5 M236.4 342.8 L247.9 345.4 M236.4 342.8 L233.8 332.1 M278 342.8 L267.4 345.4 M278 342.8 L281.5 332.1 M257.3 306.1 L257.3 339.7 M240.3 322.4 L275 322.4 M236.4 302 L231.1 295 M231.1 295 L224 293.2 M224 293.2 L214.3 284.3 M214.3 284.3 L214.3 279.9 M214.3 279.9 L222.3 281.7 M222.3 281.7 L231.6 290.5 M231.6 290.5 L231.1 295 M214.3 279.9 L209 272 M209 272 L200.1 269.3 M209 272 L211.6 265.8 M278 302 L285.1 295 M285.1 295 L295.7 287.9 M295.7 287.9 L308.1 272.8 M285.1 295 L297.5 281.7 M297.5 281.7 L308.1 272.8 M308.1 272.8 L310.8 265.8 M308.1 272.8 L316.9 268.4 M236.4 342.8 L230.2 348.9 M230.2 348.9 L221.4 349.8 M221.4 349.8 L212.5 358.7 M212.5 358.7 L216.1 366.6 M216.1 366.6 L224 365.8 M224 365.8 L231.1 356.9 M231.1 356.9 L230.2 348.9 M216.1 366.6 L207.2 376.4 M207.2 376.4 L196.6 375.5 M207.2 376.4 L208.1 385.2 M278 342.8 L284.2 348.9 M284.2 348.9 L292.2 351.6 M292.2 351.6 L300.1 363.1 M300.1 363.1 L299.2 368.4 M299.2 368.4 L291.3 364.9 M291.3 364.9 L284.2 354.3 M284.2 354.3 L284.2 348.9 M299.2 368.4 L307.2 375.5 M307.2 375.5 L314.3 374.1 M307.2 375.5 L306.3 384.3" stroke="#2f74e6" stroke-width="1.5" stroke-linecap="round" stroke-linejoin="round" fill="none"/>
<circle cx="211.6" cy="266.1" r="1.4" fill="#c83030"/>
<circle cx="310.8" cy="266.1" r="1.4" fill="#c83030"/>
<circle cx="208.1" cy="384.9" r="1.4" fill="#c83030"/>
<circle cx="306.3" cy="384" r="1.4" fill="#c83030"/>
<g>
<polygon points="167.2,372.2 197.2,372.2 191.3,390.7 209.5,384.5 209.5,414.8 191.3,408.9 197.2,427.4 167.2,427.4 173,408.9 154.9,414.8 154.9,384.5 173,390.7" fill="#ce91b7"/>
<polygon points="167.2,372.2 182.2,372.2 173,390.7" fill="#ad7c97"/>
<polygon points="182.2,372.2 182.2,384.5 173,390.7" fill="#cb8fb4"/>
<polygon points="182.2,372.2 191.3,390.7 182.2,384.5" fill="#d79bc3"/>
<polygon points="182.2,372.2 197.2,372.2 191.3,390.7" fill="#ecbce1"/>
<polygon points="154.9,384.5 154.9,399.8 167.2,399.8 173,390.7" fill="#e3a0cc"/>
<polygon points="154.9,399.8 154.9,414.8 173,408.9 167.2,399.8" fill="#b884a0"/>
<polygon points="209.5,384.5 209.5,399.8 191.3,390.7" fill="#ebb6dd"/>
<polygon points="209.5,399.8 197.2,399.8 191.3,390.7" fill="#d29fc1"/>
<polygon points="209.5,399.8 209.5,414.8 191.3,408.9 197.2,399.8" fill="#b9829f"/>
<polygon points="167.2,427.4 182.2,427.4 173,408.9" fill="#b27f99"/>
<polygon points="182.2,427.4 197.2,427.4 191.3,408.9 182.2,414.8 173,408.9" fill="#e8a8d2"/>
<polygon points="182.2,384.5 197.2,399.8 182.2,414.8 167.2,399.8" fill="#df94c0" stroke="#c176a3" stroke-width="0.8" stroke-linejoin="round"/>
</g>
<path d="M12.600000000000001 468.3 H66.6 M39.6 442.3 V495.3" stroke="#a88428" stroke-width="1.3" fill="none"/>
<path d="M12.600000000000001 468.3 H66.6 M39.6 442.3 V495.3" stroke="#e8d070" stroke-width="0.5" fill="none"/>
<path d="M33 461.7 L38.1 461.1 M33 461.7 L32.4 466.8 M33 461.7 L29.5 458.2 M29.5 458.2 L30.8 453.4 M30.8 453.4 L27.3 449.9 M27.3 449.9 L22.5 451.2 M22.5 451.2 L21.2 456 M21.2 456 L24.7 459.5 M24.7 459.5 L29.5 458.2 M24.7 459.5 L23.2 463.7 M22.5 451.2 L19.4 448.1 M19.4 448.1 L20.3 443.3 M19.4 448.1 L14.6 449" stroke="#8a6a18" stroke-width="1.4" stroke-linecap="round" stroke-linejoin="round" fill="none"/>
<path d="M33 461.7 L38.1 461.1 M33 461.7 L32.4 466.8 M33 461.7 L29.5 458.2 M29.5 458.2 L30.8 453.4 M30.8 453.4 L27.3 449.9 M27.3 449.9 L22.5 451.2 M22.5 451.2 L21.2 456 M21.2 456 L24.7 459.5 M24.7 459.5 L29.5 458.2 M24.7 459.5 L23.2 463.7 M22.5 451.2 L19.4 448.1 M19.4 448.1 L20.3 443.3 M19.4 448.1 L14.6 449" stroke="#d8b040" stroke-width="0.6" stroke-linecap="round" stroke-linejoin="round" fill="none"/>
<path d="M33 474.9 L38.1 475.5 M33 474.9 L32.4 469.8 M33 474.9 L29.5 478.4 M29.5 478.4 L30.8 483.2 M30.8 483.2 L27.3 486.7 M27.3 486.7 L22.5 485.4 M22.5 485.4 L21.2 480.6 M21.2 480.6 L24.7 477.1 M24.7 477.1 L29.5 478.4 M24.7 477.1 L23.2 472.9 M22.5 485.4 L19.4 488.5 M19.4 488.5 L20.3 493.3 M19.4 488.5 L14.6 487.6" stroke="#8a6a18" stroke-width="1.4" stroke-linecap="round" stroke-linejoin="round" fill="none"/>
<path d="M33 474.9 L38.1 475.5 M33 474.9 L32.4 469.8 M33 474.9 L29.5 478.4 M29.5 478.4 L30.8 483.2 M30.8 483.2 L27.3 486.7 M27.3 486.7 L22.5 485.4 M22.5 485.4 L21.2 480.6 M21.2 480.6 L24.7 477.1 M24.7 477.1 L29.5 478.4 M24.7 477.1 L23.2 472.9 M22.5 485.4 L19.4 488.5 M19.4 488.5 L20.3 493.3 M19.4 488.5 L14.6 487.6" stroke="#d8b040" stroke-width="0.6" stroke-linecap="round" stroke-linejoin="round" fill="none"/>
<path d="M46.2 474.9 L41.1 475.5 M46.2 474.9 L46.8 469.8 M46.2 474.9 L49.7 478.4 M49.7 478.4 L48.4 483.2 M48.4 483.2 L51.9 486.7 M51.9 486.7 L56.7 485.4 M56.7 485.4 L58 480.6 M58 480.6 L54.5 477.1 M54.5 477.1 L49.7 478.4 M54.5 477.1 L56 472.9 M56.7 485.4 L59.8 488.5 M59.8 488.5 L58.9 493.3 M59.8 488.5 L64.6 487.6" stroke="#8a6a18" stroke-width="1.4" stroke-linecap="round" stroke-linejoin="round" fill="none"/>
<path d="M46.2 474.9 L41.1 475.5 M46.2 474.9 L46.8 469.8 M46.2 474.9 L49.7 478.4 M49.7 478.4 L48.4 483.2 M48.4 483.2 L51.9 486.7 M51.9 486.7 L56.7 485.4 M56.7 485.4 L58 480.6 M58 480.6 L54.5 477.1 M54.5 477.1 L49.7 478.4 M54.5 477.1 L56 472.9 M56.7 485.4 L59.8 488.5 M59.8 488.5 L58.9 493.3 M59.8 488.5 L64.6 487.6" stroke="#d8b040" stroke-width="0.6" stroke-linecap="round" stroke-linejoin="round" fill="none"/>
<path d="M46.2 461.7 L41.1 461.1 M46.2 461.7 L46.8 466.8 M46.2 461.7 L49.7 458.2 M49.7 458.2 L48.4 453.4 M48.4 453.4 L51.9 449.9 M51.9 449.9 L56.7 451.2 M56.7 451.2 L58 456 M58 456 L54.5 459.5 M54.5 459.5 L49.7 458.2 M54.5 459.5 L56 463.7 M56.7 451.2 L59.8 448.1 M59.8 448.1 L58.9 443.3 M59.8 448.1 L64.6 449" stroke="#8a6a18" stroke-width="1.4" stroke-linecap="round" stroke-linejoin="round" fill="none"/>
<path d="M46.2 461.7 L41.1 461.1 M46.2 461.7 L46.8 466.8 M46.2 461.7 L49.7 458.2 M49.7 458.2 L48.4 453.4 M48.4 453.4 L51.9 449.9 M51.9 449.9 L56.7 451.2 M56.7 451.2 L58 456 M58 456 L54.5 459.5 M54.5 459.5 L49.7 458.2 M54.5 459.5 L56 463.7 M56.7 451.2 L59.8 448.1 M59.8 448.1 L58.9 443.3 M59.8 448.1 L64.6 449" stroke="#d8b040" stroke-width="0.6" stroke-linecap="round" stroke-linejoin="round" fill="none"/>
<g>
<polygon points="33.3,456.7 45.9,456.7 43.4,464.5 51.1,461.9 51.1,474.6 43.4,472.1 45.9,479.9 33.3,479.9 35.8,472.1 28.1,474.6 28.1,461.9 35.8,464.5" fill="#c47aa8"/>
<polygon points="33.3,456.7 39.6,456.7 35.8,464.5" fill="#9c6081"/>
<polygon points="39.6,456.7 39.6,461.9 35.8,464.5" fill="#c077a4"/>
<polygon points="39.6,456.7 43.4,464.5 39.6,461.9" fill="#cf86b6"/>
<polygon points="39.6,456.7 45.9,456.7 43.4,464.5" fill="#e9aedb"/>
<polygon points="28.1,461.9 28.1,468.3 33.3,468.3 35.8,464.5" fill="#de8cc2"/>
<polygon points="28.1,468.3 28.1,474.6 35.8,472.1 33.3,468.3" fill="#a96a8c"/>
<polygon points="51.1,461.9 51.1,468.3 43.4,464.5" fill="#e7a6d6"/>
<polygon points="51.1,468.3 45.9,468.3 43.4,464.5" fill="#c98ab4"/>
<polygon points="51.1,468.3 51.1,474.6 43.4,472.1 45.9,468.3" fill="#aa678b"/>
<polygon points="33.3,479.9 39.6,479.9 35.8,472.1" fill="#a26483"/>
<polygon points="39.6,479.9 45.9,479.9 43.4,472.1 39.6,474.6 35.8,472.1" fill="#e395c9"/>
<polygon points="39.6,461.9 45.9,468.3 39.6,474.6 33.3,468.3" fill="#d97db3" stroke="#b4588f" stroke-width="0.8" stroke-linejoin="round"/>
</g>
<path d="M36.7 508.8 v11 M42.3 508.8 v11" stroke="#d03a30" stroke-width="1.5" fill="none"/>
<path d="M37.2 676.8 v12.5 M43.8 676.8 v12.5" stroke="#d03a30" stroke-width="1.5" fill="none"/>
<path d="M13.8 561 H65.0 M39.6 535.8 V585 M14.3 536.7 L64.6 586 M64.6 536.7 L14.3 586" stroke="#f4e8b0" stroke-width="2.6" fill="none"/>
<path d="M13.8 561 H65.0 M39.6 535.8 V585 M14.3 536.7 L64.6 586 M64.6 536.7 L14.3 586" stroke="#a07c20" stroke-width="1.1" fill="none"/>
<rect x="31.200000000000003" y="552.6" width="16.8" height="16.8" fill="#c878a8"/>
<polygon points="31.2,552.6 40.6,552.6 31.2,562" fill="#8c4868"/>
<polygon points="48,569.4 38.6,569.4 48,560" fill="#f0b4dc"/>
<polygon points="31.2,569.4 31.2,563 37.6,569.4" fill="#b86898"/>
<polygon points="39.6,552.6 48,561 39.6,569.4 31.2,561" fill="#e488c0"/>
<path d="M36.5 625.1 L42.6 624.8 M42.6 624.8 L44.2 629.7 M44.2 629.7 L39.6 632.6 M39.6 632.6 L35.7 629.7 M35.7 629.7 L36.5 625.1 M36.5 655.3 L42.6 655.3 M42.6 655.3 L44.2 650.5 M44.2 650.5 L39.6 647.9 M39.6 647.9 L35.3 650.5 M35.3 650.5 L36.5 655.3 M24 637.2 L24 642.8 M24 642.8 L28.9 644.4 M28.9 644.4 L31.9 640 M31.9 640 L28.9 636 M28.9 636 L24 637.2 M55.5 637.2 L55.5 642.8 M55.5 642.8 L50.6 644.4 M50.6 644.4 L47.7 640 M47.7 640 L50.6 636 M50.6 636 L55.5 637.2 M30.1 630.7 L35.7 629.7 M30.1 630.7 L28.9 636 M49 630.7 L44.2 629.7 M49 630.7 L50.6 636 M30.1 649.3 L35.3 650.5 M30.1 649.3 L28.9 644.4 M49 649.3 L44.2 650.5 M49 649.3 L50.6 644.4 M39.6 632.6 L39.6 647.9 M31.9 640 L47.7 640 M30.1 630.7 L27.7 627.5 M27.7 627.5 L24.4 626.7 M24.4 626.7 L20 622.7 M20 622.7 L20 620.6 M20 620.6 L23.6 621.5 M23.6 621.5 L27.9 625.5 M27.9 625.5 L27.7 627.5 M20 620.6 L17.6 617 M17.6 617 L13.6 615.8 M17.6 617 L18.8 614.2 M49 630.7 L52.3 627.5 M52.3 627.5 L57.1 624.3 M57.1 624.3 L62.7 617.4 M52.3 627.5 L57.9 621.5 M57.9 621.5 L62.7 617.4 M62.7 617.4 L64 614.2 M62.7 617.4 L66.8 615.4 M30.1 649.3 L27.3 652.1 M27.3 652.1 L23.2 652.5 M23.2 652.5 L19.2 656.5 M19.2 656.5 L20.8 660.2 M20.8 660.2 L24.4 659.8 M24.4 659.8 L27.7 655.7 M27.7 655.7 L27.3 652.1 M20.8 660.2 L16.8 664.6 M16.8 664.6 L11.9 664.2 M16.8 664.6 L17.2 668.6 M49 649.3 L51.9 652.1 M51.9 652.1 L55.5 653.3 M55.5 653.3 L59.1 658.5 M59.1 658.5 L58.7 661 M58.7 661 L55.1 659.4 M55.1 659.4 L51.9 654.5 M51.9 654.5 L51.9 652.1 M58.7 661 L62.3 664.2 M62.3 664.2 L65.6 663.5 M62.3 664.2 L61.9 668.2" stroke="#1d4fb4" stroke-width="1.2" stroke-linecap="round" stroke-linejoin="round" fill="none"/>
<path d="M36.5 625.1 L42.6 624.8 M42.6 624.8 L44.2 629.7 M44.2 629.7 L39.6 632.6 M39.6 632.6 L35.7 629.7 M35.7 629.7 L36.5 625.1 M36.5 655.3 L42.6 655.3 M42.6 655.3 L44.2 650.5 M44.2 650.5 L39.6 647.9 M39.6 647.9 L35.3 650.5 M35.3 650.5 L36.5 655.3 M24 637.2 L24 642.8 M24 642.8 L28.9 644.4 M28.9 644.4 L31.9 640 M31.9 640 L28.9 636 M28.9 636 L24 637.2 M55.5 637.2 L55.5 642.8 M55.5 642.8 L50.6 644.4 M50.6 644.4 L47.7 640 M47.7 640 L50.6 636 M50.6 636 L55.5 637.2 M30.1 630.7 L35.7 629.7 M30.1 630.7 L28.9 636 M49 630.7 L44.2 629.7 M49 630.7 L50.6 636 M30.1 649.3 L35.3 650.5 M30.1 649.3 L28.9 644.4 M49 649.3 L44.2 650.5 M49 649.3 L50.6 644.4 M39.6 632.6 L39.6 647.9 M31.9 640 L47.7 640 M30.1 630.7 L27.7 627.5 M27.7 627.5 L24.4 626.7 M24.4 626.7 L20 622.7 M20 622.7 L20 620.6 M20 620.6 L23.6 621.5 M23.6 621.5 L27.9 625.5 M27.9 625.5 L27.7 627.5 M20 620.6 L17.6 617 M17.6 617 L13.6 615.8 M17.6 617 L18.8 614.2 M49 630.7 L52.3 627.5 M52.3 627.5 L57.1 624.3 M57.1 624.3 L62.7 617.4 M52.3 627.5 L57.9 621.5 M57.9 621.5 L62.7 617.4 M62.7 617.4 L64 614.2 M62.7 617.4 L66.8 615.4 M30.1 649.3 L27.3 652.1 M27.3 652.1 L23.2 652.5 M23.2 652.5 L19.2 656.5 M19.2 656.5 L20.8 660.2 M20.8 660.2 L24.4 659.8 M24.4 659.8 L27.7 655.7 M27.7 655.7 L27.3 652.1 M20.8 660.2 L16.8 664.6 M16.8 664.6 L11.9 664.2 M16.8 664.6 L17.2 668.6 M49 649.3 L51.9 652.1 M51.9 652.1 L55.5 653.3 M55.5 653.3 L59.1 658.5 M59.1 658.5 L58.7 661 M58.7 661 L55.1 659.4 M55.1 659.4 L51.9 654.5 M51.9 654.5 L51.9 652.1 M58.7 661 L62.3 664.2 M62.3 664.2 L65.6 663.5 M62.3 664.2 L61.9 668.2" stroke="#2a66d0" stroke-width="0.6" stroke-linecap="round" stroke-linejoin="round" fill="none"/>
<path d="M15 704.2 L64.2 752.6 M64.2 704.2 L15 752.6" stroke="#1010e8" stroke-width="2" fill="none"/>
<rect x="31" y="719.6" width="17.4" height="17.2" fill="#0000ff"/>
<circle cx="711.1" cy="85.1" r="69.2" fill="url(#sg1)"/>
<circle cx="711.1" cy="85.1" r="69.2" fill="url(#sh1)"/>
<circle cx="711.1" cy="85.1" r="68.8" fill="none" stroke="#7c5244" stroke-width="0.8" opacity="0.7"/>
<path d="M709 22.4 A3.6 8.3 -99.5 1 0 692.6 25.2 A3.6 8.3 -99.5 1 0 709 22.4 Z" fill="url(#dg1)"/>
<path d="M709 22.4 A3.6 8.3 -99.5 1 0 692.6 25.2 A3.6 8.3 -99.5 1 0 709 22.4 Z" fill="url(#dl1)" opacity="1"/>
<path d="M727.6 33.9 A5.3 8.3 -81 1 0 711.2 31.3 A5.3 8.3 -81 1 0 727.6 33.9 Z" fill="url(#dg1)"/>
<path d="M727.6 33.9 A5.3 8.3 -81 1 0 711.2 31.3 A5.3 8.3 -81 1 0 727.6 33.9 Z" fill="url(#dl1)" opacity="1"/>
<path d="M748.3 35.7 A3.9 8.3 -60.8 1 0 733.8 27.6 A3.9 8.3 -60.8 1 0 748.3 35.7 Z" fill="url(#dg1)"/>
<path d="M748.3 35.7 A3.9 8.3 -60.8 1 0 733.8 27.6 A3.9 8.3 -60.8 1 0 748.3 35.7 Z" fill="url(#dl1)" opacity="1"/>
<path d="M681.9 32.5 A4.2 8.3 -127 1 0 668.6 42.5 A4.2 8.3 -127 1 0 681.9 32.5 Z" fill="url(#dg1)"/>
<path d="M681.9 32.5 A4.2 8.3 -127 1 0 668.6 42.5 A4.2 8.3 -127 1 0 681.9 32.5 Z" fill="url(#dl1)" opacity="0.7"/>
<path d="M704.7 40.7 A6.4 8.3 -108.9 1 0 689 46.1 A6.4 8.3 -108.9 1 0 704.7 40.7 Z" fill="url(#dg1)"/>
<path d="M704.7 40.7 A6.4 8.3 -108.9 1 0 689 46.1 A6.4 8.3 -108.9 1 0 704.7 40.7 Z" fill="url(#dl1)" opacity="0.8"/>
<path d="M749.2 54.8 A6 8.3 -48.3 1 0 736.8 43.8 A6 8.3 -48.3 1 0 749.2 54.8 Z" fill="url(#dg1)"/>
<path d="M749.2 54.8 A6 8.3 -48.3 1 0 736.8 43.8 A6 8.3 -48.3 1 0 749.2 54.8 Z" fill="url(#dl1)" opacity="1"/>
<path d="M766.7 52.9 A3.2 8.3 -37.5 1 0 756.6 39.8 A3.2 8.3 -37.5 1 0 766.7 52.9 Z" fill="url(#dg1)"/>
<path d="M766.7 52.9 A3.2 8.3 -37.5 1 0 756.6 39.8 A3.2 8.3 -37.5 1 0 766.7 52.9 Z" fill="url(#dl1)" opacity="1"/>
<path d="M659.3 50.7 A3.8 8.3 -154.1 1 0 652 65.6 A3.8 8.3 -154.1 1 0 659.3 50.7 Z" fill="url(#dg1)"/>
<path d="M659.3 50.7 A3.8 8.3 -154.1 1 0 652 65.6 A3.8 8.3 -154.1 1 0 659.3 50.7 Z" fill="url(#dl1)" opacity="0.4"/>
<path d="M681.5 49.8 A6.3 8.3 -140.3 1 0 670.9 62.6 A6.3 8.3 -140.3 1 0 681.5 49.8 Z" fill="url(#dg1)"/>
<path d="M681.5 49.8 A6.3 8.3 -140.3 1 0 670.9 62.6 A6.3 8.3 -140.3 1 0 681.5 49.8 Z" fill="url(#dl1)" opacity="0.5"/>
<path d="M727.4 59.5 A7.5 8.3 -73.4 1 0 711.5 54.8 A7.5 8.3 -73.4 1 0 727.4 59.5 Z" fill="url(#dg1)"/>
<path d="M727.4 59.5 A7.5 8.3 -73.4 1 0 711.5 54.8 A7.5 8.3 -73.4 1 0 727.4 59.5 Z" fill="url(#dl1)" opacity="0.8"/>
<path d="M763.1 77.9 A5.5 8.3 -17 1 0 758.2 62 A5.5 8.3 -17 1 0 763.1 77.9 Z" fill="url(#dg1)"/>
<path d="M763.1 77.9 A5.5 8.3 -17 1 0 758.2 62 A5.5 8.3 -17 1 0 763.1 77.9 Z" fill="url(#dl1)" opacity="1"/>
<path d="M776.5 77 A2.7 8.3 -14.3 1 0 772.4 60.9 A2.7 8.3 -14.3 1 0 776.5 77 Z" fill="url(#dg1)"/>
<path d="M776.5 77 A2.7 8.3 -14.3 1 0 772.4 60.9 A2.7 8.3 -14.3 1 0 776.5 77 Z" fill="url(#dl1)" opacity="1"/>
<path d="M699.9 61.3 A7.7 8.3 -133.5 1 0 687.9 72.7 A7.7 8.3 -133.5 1 0 699.9 61.3 Z" fill="url(#dg1)"/>
<path d="M699.9 61.3 A7.7 8.3 -133.5 1 0 687.9 72.7 A7.7 8.3 -133.5 1 0 699.9 61.3 Z" fill="url(#dl1)" opacity="0.6"/>
<path d="M744.4 79.5 A7.3 8.3 -23.8 1 0 737.7 64.3 A7.3 8.3 -23.8 1 0 744.4 79.5 Z" fill="url(#dg1)"/>
<path d="M744.4 79.5 A7.3 8.3 -23.8 1 0 737.7 64.3 A7.3 8.3 -23.8 1 0 744.4 79.5 Z" fill="url(#dl1)" opacity="0.8"/>
<path d="M669.4 71.5 A6.5 8.3 -172.8 1 0 667.4 88 A6.5 8.3 -172.8 1 0 669.4 71.5 Z" fill="url(#dg1)"/>
<path d="M669.4 71.5 A6.5 8.3 -172.8 1 0 667.4 88 A6.5 8.3 -172.8 1 0 669.4 71.5 Z" fill="url(#dl1)" opacity="0.3"/>
<path d="M719.4 88.6 A8.3 8.3 -44.6 1 0 707.7 76.8 A8.3 8.3 -44.6 1 0 719.4 88.6 Z" fill="url(#dg1)"/>
<path d="M719.4 88.6 A8.3 8.3 -44.6 1 0 707.7 76.8 A8.3 8.3 -44.6 1 0 719.4 88.6 Z" fill="url(#dl1)" opacity="0.6"/>
<path d="M770.5 100.7 A4 8.3 7 1 0 772.5 84.3 A4 8.3 7 1 0 770.5 100.7 Z" fill="url(#dg1)"/>
<path d="M770.5 100.7 A4 8.3 7 1 0 772.5 84.3 A4 8.3 7 1 0 770.5 100.7 Z" fill="url(#dl1)" opacity="0.9"/>
<path d="M650.2 80.3 A4 8.3 176.7 1 0 651.2 96.9 A4 8.3 176.7 1 0 650.2 80.3 Z" fill="url(#dg1)"/>
<path d="M650.2 80.3 A4 8.3 176.7 1 0 651.2 96.9 A4 8.3 176.7 1 0 650.2 80.3 Z" fill="url(#dl1)" opacity="0.1"/>
<path d="M687.2 88.1 A7.8 8.3 152.8 1 0 694.8 102.8 A7.8 8.3 152.8 1 0 687.2 88.1 Z" fill="url(#dg1)"/>
<path d="M687.2 88.1 A7.8 8.3 152.8 1 0 694.8 102.8 A7.8 8.3 152.8 1 0 687.2 88.1 Z" fill="url(#dl1)" opacity="0.3"/>
<path d="M731.4 104.8 A7.6 8.3 27.1 1 0 738.9 90 A7.6 8.3 27.1 1 0 731.4 104.8 Z" fill="url(#dg1)"/>
<path d="M731.4 104.8 A7.6 8.3 27.1 1 0 738.9 90 A7.6 8.3 27.1 1 0 731.4 104.8 Z" fill="url(#dl1)" opacity="0.6"/>
<path d="M753.7 104.5 A6.2 8.3 14.2 1 0 757.8 88.4 A6.2 8.3 14.2 1 0 753.7 104.5 Z" fill="url(#dg1)"/>
<path d="M753.7 104.5 A6.2 8.3 14.2 1 0 757.8 88.4 A6.2 8.3 14.2 1 0 753.7 104.5 Z" fill="url(#dl1)" opacity="0.8"/>
<path d="M663.9 97.7 A6 8.3 155.2 1 0 670.9 112.8 A6 8.3 155.2 1 0 663.9 97.7 Z" fill="url(#dg1)"/>
<path d="M663.9 97.7 A6 8.3 155.2 1 0 670.9 112.8 A6 8.3 155.2 1 0 663.9 97.7 Z" fill="url(#dl1)" opacity="0.1"/>
<path d="M705.3 111.9 A7.7 8.3 84.6 1 0 721.8 110.4 A7.7 8.3 84.6 1 0 705.3 111.9 Z" fill="url(#dg1)"/>
<path d="M705.3 111.9 A7.7 8.3 84.6 1 0 721.8 110.4 A7.7 8.3 84.6 1 0 705.3 111.9 Z" fill="url(#dl1)" opacity="0.4"/>
<path d="M757.4 122.2 A4.4 8.3 30.7 1 0 765.9 107.9 A4.4 8.3 30.7 1 0 757.4 122.2 Z" fill="url(#dg1)"/>
<path d="M757.4 122.2 A4.4 8.3 30.7 1 0 765.9 107.9 A4.4 8.3 30.7 1 0 757.4 122.2 Z" fill="url(#dl1)" opacity="0.6"/>
<path d="M649.9 106.7 A3.1 8.3 153.2 1 0 657.4 121.5 A3.1 8.3 153.2 1 0 649.9 106.7 Z" fill="url(#dg1)"/>
<path d="M684.6 118.1 A6.6 8.3 117.5 1 0 699.3 125.8 A6.6 8.3 117.5 1 0 684.6 118.1 Z" fill="url(#dg1)"/>
<path d="M684.6 118.1 A6.6 8.3 117.5 1 0 699.3 125.8 A6.6 8.3 117.5 1 0 684.6 118.1 Z" fill="url(#dl1)" opacity="0.1"/>
<path d="M732.6 125.2 A6.3 8.3 51.3 1 0 745.6 114.8 A6.3 8.3 51.3 1 0 732.6 125.2 Z" fill="url(#dg1)"/>
<path d="M732.6 125.2 A6.3 8.3 51.3 1 0 745.6 114.8 A6.3 8.3 51.3 1 0 732.6 125.2 Z" fill="url(#dl1)" opacity="0.5"/>
<path d="M667.2 121.3 A4.8 8.3 132.2 1 0 679.5 132.4 A4.8 8.3 132.2 1 0 667.2 121.3 Z" fill="url(#dg1)"/>
<path d="M708.2 134.6 A5.9 8.3 83.7 1 0 724.7 132.8 A5.9 8.3 83.7 1 0 708.2 134.6 Z" fill="url(#dg1)"/>
<path d="M708.2 134.6 A5.9 8.3 83.7 1 0 724.7 132.8 A5.9 8.3 83.7 1 0 708.2 134.6 Z" fill="url(#dl1)" opacity="0.2"/>
<path d="M732.8 141.7 A4.1 8.3 61.1 1 0 747.3 133.6 A4.1 8.3 61.1 1 0 732.8 141.7 Z" fill="url(#dg1)"/>
<path d="M732.8 141.7 A4.1 8.3 61.1 1 0 747.3 133.6 A4.1 8.3 61.1 1 0 732.8 141.7 Z" fill="url(#dl1)" opacity="0.3"/>
<path d="M662.9 132.5 A2.5 8.3 128.4 1 0 675.9 142.8 A2.5 8.3 128.4 1 0 662.9 132.5 Z" fill="url(#dg1)"/>
<path d="M684.1 138.9 A4.2 8.3 108.7 1 0 699.8 144.2 A4.2 8.3 108.7 1 0 684.1 138.9 Z" fill="url(#dg1)"/>
<path d="M707.2 150 A3 8.3 86.1 1 0 723.8 148.9 A3 8.3 86.1 1 0 707.2 150 Z" fill="url(#dg1)"/>
<path d="M707.2 150 A3 8.3 86.1 1 0 723.8 148.9 A3 8.3 86.1 1 0 707.2 150 Z" fill="url(#dl1)" opacity="0.1"/>
<path d="M646.6 62.8 A2.5 8.3 -167.9 1 0 643.1 79 A2.5 8.3 -167.9 1 0 646.6 62.8 Z" fill="url(#dg1)"/>
<path d="M646.6 62.8 A2.5 8.3 -167.9 1 0 643.1 79 A2.5 8.3 -167.9 1 0 646.6 62.8 Z" fill="url(#dl1)" opacity="0.2"/>
<path d="M751.1 133.9 A3.6 8.3 43.1 1 0 762.4 121.8 A3.6 8.3 43.1 1 0 751.1 133.9 Z" fill="url(#dg1)"/>
<path d="M751.1 133.9 A3.6 8.3 43.1 1 0 762.4 121.8 A3.6 8.3 43.1 1 0 751.1 133.9 Z" fill="url(#dl1)" opacity="0.5"/>
<path d="M770.8 114.1 A2.6 8.3 18.7 1 0 776.1 98.4 A2.6 8.3 18.7 1 0 770.8 114.1 Z" fill="url(#dg1)"/>
<path d="M770.8 114.1 A2.6 8.3 18.7 1 0 776.1 98.4 A2.6 8.3 18.7 1 0 770.8 114.1 Z" fill="url(#dl1)" opacity="0.8"/>
<path d="M736.3 23 A2.5 8.3 -75 1 0 720.3 18.7 A2.5 8.3 -75 1 0 736.3 23 Z" fill="url(#dg1)"/>
<path d="M736.3 23 A2.5 8.3 -75 1 0 720.3 18.7 A2.5 8.3 -75 1 0 736.3 23 Z" fill="url(#dl1)" opacity="1"/>
<circle cx="711.1" cy="372.7" r="69.2" fill="url(#sg2)"/>
<circle cx="711.1" cy="372.7" r="69.2" fill="url(#sh2)"/>
<circle cx="711.1" cy="372.7" r="68.8" fill="none" stroke="#2a2570" stroke-width="0.8" opacity="0.7"/>
<path d="M709 310 A3.6 8.3 -99.5 1 0 692.6 312.8 A3.6 8.3 -99.5 1 0 709 310 Z" fill="url(#dg2)"/>
<path d="M709 310 A3.6 8.3 -99.5 1 0 692.6 312.8 A3.6 8.3 -99.5 1 0 709 310 Z" fill="url(#dl2)" opacity="1"/>
<path d="M727.6 321.5 A5.3 8.3 -81 1 0 711.2 318.9 A5.3 8.3 -81 1 0 727.6 321.5 Z" fill="url(#dg2)"/>
<path d="M727.6 321.5 A5.3 8.3 -81 1 0 711.2 318.9 A5.3 8.3 -81 1 0 727.6 321.5 Z" fill="url(#dl2)" opacity="1"/>
<path d="M748.3 323.3 A3.9 8.3 -60.8 1 0 733.8 315.2 A3.9 8.3 -60.8 1 0 748.3 323.3 Z" fill="url(#dg2)"/>
<path d="M748.3 323.3 A3.9 8.3 -60.8 1 0 733.8 315.2 A3.9 8.3 -60.8 1 0 748.3 323.3 Z" fill="url(#dl2)" opacity="1"/>
<path d="M681.9 320.1 A4.2 8.3 -127 1 0 668.6 330.1 A4.2 8.3 -127 1 0 681.9 320.1 Z" fill="url(#dg2)"/>
<path d="M681.9 320.1 A4.2 8.3 -127 1 0 668.6 330.1 A4.2 8.3 -127 1 0 681.9 320.1 Z" fill="url(#dl2)" opacity="0.7"/>
<path d="M704.7 328.3 A6.4 8.3 -108.9 1 0 689 333.7 A6.4 8.3 -108.9 1 0 704.7 328.3 Z" fill="url(#dg2)"/>
<path d="M704.7 328.3 A6.4 8.3 -108.9 1 0 689 333.7 A6.4 8.3 -108.9 1 0 704.7 328.3 Z" fill="url(#dl2)" opacity="0.8"/>
<path d="M749.2 342.4 A6 8.3 -48.3 1 0 736.8 331.4 A6 8.3 -48.3 1 0 749.2 342.4 Z" fill="url(#dg2)"/>
<path d="M749.2 342.4 A6 8.3 -48.3 1 0 736.8 331.4 A6 8.3 -48.3 1 0 749.2 342.4 Z" fill="url(#dl2)" opacity="1"/>
<path d="M766.7 340.5 A3.2 8.3 -37.5 1 0 756.6 327.4 A3.2 8.3 -37.5 1 0 766.7 340.5 Z" fill="url(#dg2)"/>
<path d="M766.7 340.5 A3.2 8.3 -37.5 1 0 756.6 327.4 A3.2 8.3 -37.5 1 0 766.7 340.5 Z" fill="url(#dl2)" opacity="1"/>
<path d="M659.3 338.3 A3.8 8.3 -154.1 1 0 652 353.2 A3.8 8.3 -154.1 1 0 659.3 338.3 Z" fill="url(#dg2)"/>
<path d="M659.3 338.3 A3.8 8.3 -154.1 1 0 652 353.2 A3.8 8.3 -154.1 1 0 659.3 338.3 Z" fill="url(#dl2)" opacity="0.4"/>
<path d="M681.5 337.4 A6.3 8.3 -140.3 1 0 670.9 350.2 A6.3 8.3 -140.3 1 0 681.5 337.4 Z" fill="url(#dg2)"/>
<path d="M681.5 337.4 A6.3 8.3 -140.3 1 0 670.9 350.2 A6.3 8.3 -140.3 1 0 681.5 337.4 Z" fill="url(#dl2)" opacity="0.5"/>
<path d="M727.4 347.1 A7.5 8.3 -73.4 1 0 711.5 342.4 A7.5 8.3 -73.4 1 0 727.4 347.1 Z" fill="url(#dg2)"/>
<path d="M727.4 347.1 A7.5 8.3 -73.4 1 0 711.5 342.4 A7.5 8.3 -73.4 1 0 727.4 347.1 Z" fill="url(#dl2)" opacity="0.8"/>
<path d="M763.1 365.5 A5.5 8.3 -17 1 0 758.2 349.6 A5.5 8.3 -17 1 0 763.1 365.5 Z" fill="url(#dg2)"/>
<path d="M763.1 365.5 A5.5 8.3 -17 1 0 758.2 349.6 A5.5 8.3 -17 1 0 763.1 365.5 Z" fill="url(#dl2)" opacity="1"/>
<path d="M776.5 364.6 A2.7 8.3 -14.3 1 0 772.4 348.5 A2.7 8.3 -14.3 1 0 776.5 364.6 Z" fill="url(#dg2)"/>
<path d="M776.5 364.6 A2.7 8.3 -14.3 1 0 772.4 348.5 A2.7 8.3 -14.3 1 0 776.5 364.6 Z" fill="url(#dl2)" opacity="1"/>
<path d="M699.9 348.9 A7.7 8.3 -133.5 1 0 687.9 360.3 A7.7 8.3 -133.5 1 0 699.9 348.9 Z" fill="url(#dg2)"/>
<path d="M699.9 348.9 A7.7 8.3 -133.5 1 0 687.9 360.3 A7.7 8.3 -133.5 1 0 699.9 348.9 Z" fill="url(#dl2)" opacity="0.6"/>
<path d="M744.4 367.1 A7.3 8.3 -23.8 1 0 737.7 351.9 A7.3 8.3 -23.8 1 0 744.4 367.1 Z" fill="url(#dg2)"/>
<path d="M744.4 367.1 A7.3 8.3 -23.8 1 0 737.7 351.9 A7.3 8.3 -23.8 1 0 744.4 367.1 Z" fill="url(#dl2)" opacity="0.8"/>
<path d="M669.4 359.1 A6.5 8.3 -172.8 1 0 667.4 375.6 A6.5 8.3 -172.8 1 0 669.4 359.1 Z" fill="url(#dg2)"/>
<path d="M669.4 359.1 A6.5 8.3 -172.8 1 0 667.4 375.6 A6.5 8.3 -172.8 1 0 669.4 359.1 Z" fill="url(#dl2)" opacity="0.3"/>
<path d="M719.4 376.2 A8.3 8.3 -44.6 1 0 707.7 364.4 A8.3 8.3 -44.6 1 0 719.4 376.2 Z" fill="url(#dg2)"/>
<path d="M719.4 376.2 A8.3 8.3 -44.6 1 0 707.7 364.4 A8.3 8.3 -44.6 1 0 719.4 376.2 Z" fill="url(#dl2)" opacity="0.6"/>
<path d="M770.5 388.3 A4 8.3 7 1 0 772.5 371.9 A4 8.3 7 1 0 770.5 388.3 Z" fill="url(#dg2)"/>
<path d="M770.5 388.3 A4 8.3 7 1 0 772.5 371.9 A4 8.3 7 1 0 770.5 388.3 Z" fill="url(#dl2)" opacity="0.9"/>
<path d="M650.2 367.9 A4 8.3 176.7 1 0 651.2 384.5 A4 8.3 176.7 1 0 650.2 367.9 Z" fill="url(#dg2)"/>
<path d="M650.2 367.9 A4 8.3 176.7 1 0 651.2 384.5 A4 8.3 176.7 1 0 650.2 367.9 Z" fill="url(#dl2)" opacity="0.1"/>
<path d="M687.2 375.7 A7.8 8.3 152.8 1 0 694.8 390.4 A7.8 8.3 152.8 1 0 687.2 375.7 Z" fill="url(#dg2)"/>
<path d="M687.2 375.7 A7.8 8.3 152.8 1 0 694.8 390.4 A7.8 8.3 152.8 1 0 687.2 375.7 Z" fill="url(#dl2)" opacity="0.3"/>
<path d="M731.4 392.4 A7.6 8.3 27.1 1 0 738.9 377.6 A7.6 8.3 27.1 1 0 731.4 392.4 Z" fill="url(#dg2)"/>
<path d="M731.4 392.4 A7.6 8.3 27.1 1 0 738.9 377.6 A7.6 8.3 27.1 1 0 731.4 392.4 Z" fill="url(#dl2)" opacity="0.6"/>
<path d="M753.7 392.1 A6.2 8.3 14.2 1 0 757.8 376 A6.2 8.3 14.2 1 0 753.7 392.1 Z" fill="url(#dg2)"/>
<path d="M753.7 392.1 A6.2 8.3 14.2 1 0 757.8 376 A6.2 8.3 14.2 1 0 753.7 392.1 Z" fill="url(#dl2)" opacity="0.8"/>
<path d="M663.9 385.3 A6 8.3 155.2 1 0 670.9 400.4 A6 8.3 155.2 1 0 663.9 385.3 Z" fill="url(#dg2)"/>
<path d="M663.9 385.3 A6 8.3 155.2 1 0 670.9 400.4 A6 8.3 155.2 1 0 663.9 385.3 Z" fill="url(#dl2)" opacity="0.1"/>
<path d="M705.3 399.5 A7.7 8.3 84.6 1 0 721.8 398 A7.7 8.3 84.6 1 0 705.3 399.5 Z" fill="url(#dg2)"/>
<path d="M705.3 399.5 A7.7 8.3 84.6 1 0 721.8 398 A7.7 8.3 84.6 1 0 705.3 399.5 Z" fill="url(#dl2)" opacity="0.4"/>
<path d="M757.4 409.8 A4.4 8.3 30.7 1 0 765.9 395.5 A4.4 8.3 30.7 1 0 757.4 409.8 Z" fill="url(#dg2)"/>
<path d="M757.4 409.8 A4.4 8.3 30.7 1 0 765.9 395.5 A4.4 8.3 30.7 1 0 757.4 409.8 Z" fill="url(#dl2)" opacity="0.6"/>
<path d="M649.9 394.3 A3.1 8.3 153.2 1 0 657.4 409.1 A3.1 8.3 153.2 1 0 649.9 394.3 Z" fill="url(#dg2)"/>
<path d="M684.6 405.7 A6.6 8.3 117.5 1 0 699.3 413.4 A6.6 8.3 117.5 1 0 684.6 405.7 Z" fill="url(#dg2)"/>
<path d="M684.6 405.7 A6.6 8.3 117.5 1 0 699.3 413.4 A6.6 8.3 117.5 1 0 684.6 405.7 Z" fill="url(#dl2)" opacity="0.1"/>
<path d="M732.6 412.8 A6.3 8.3 51.3 1 0 745.6 402.4 A6.3 8.3 51.3 1 0 732.6 412.8 Z" fill="url(#dg2)"/>
<path d="M732.6 412.8 A6.3 8.3 51.3 1 0 745.6 402.4 A6.3 8.3 51.3 1 0 732.6 412.8 Z" fill="url(#dl2)" opacity="0.5"/>
<path d="M667.2 408.9 A4.8 8.3 132.2 1 0 679.5 420 A4.8 8.3 132.2 1 0 667.2 408.9 Z" fill="url(#dg2)"/>
<path d="M708.2 422.2 A5.9 8.3 83.7 1 0 724.7 420.4 A5.9 8.3 83.7 1 0 708.2 422.2 Z" fill="url(#dg2)"/>
<path d="M708.2 422.2 A5.9 8.3 83.7 1 0 724.7 420.4 A5.9 8.3 83.7 1 0 708.2 422.2 Z" fill="url(#dl2)" opacity="0.2"/>
<path d="M732.8 429.3 A4.1 8.3 61.1 1 0 747.3 421.2 A4.1 8.3 61.1 1 0 732.8 429.3 Z" fill="url(#dg2)"/>
<path d="M732.8 429.3 A4.1 8.3 61.1 1 0 747.3 421.2 A4.1 8.3 61.1 1 0 732.8 429.3 Z" fill="url(#dl2)" opacity="0.3"/>
<path d="M662.9 420.1 A2.5 8.3 128.4 1 0 675.9 430.4 A2.5 8.3 128.4 1 0 662.9 420.1 Z" fill="url(#dg2)"/>
<path d="M684.1 426.5 A4.2 8.3 108.7 1 0 699.8 431.8 A4.2 8.3 108.7 1 0 684.1 426.5 Z" fill="url(#dg2)"/>
<path d="M707.2 437.6 A3 8.3 86.1 1 0 723.8 436.5 A3 8.3 86.1 1 0 707.2 437.6 Z" fill="url(#dg2)"/>
<path d="M707.2 437.6 A3 8.3 86.1 1 0 723.8 436.5 A3 8.3 86.1 1 0 707.2 437.6 Z" fill="url(#dl2)" opacity="0.1"/>
<path d="M646.6 350.4 A2.5 8.3 -167.9 1 0 643.1 366.6 A2.5 8.3 -167.9 1 0 646.6 350.4 Z" fill="url(#dg2)"/>
<path d="M646.6 350.4 A2.5 8.3 -167.9 1 0 643.1 366.6 A2.5 8.3 -167.9 1 0 646.6 350.4 Z" fill="url(#dl2)" opacity="0.2"/>
<path d="M751.1 421.5 A3.6 8.3 43.1 1 0 762.4 409.4 A3.6 8.3 43.1 1 0 751.1 421.5 Z" fill="url(#dg2)"/>
<path d="M751.1 421.5 A3.6 8.3 43.1 1 0 762.4 409.4 A3.6 8.3 43.1 1 0 751.1 421.5 Z" fill="url(#dl2)" opacity="0.5"/>
<path d="M770.8 401.7 A2.6 8.3 18.7 1 0 776.1 386 A2.6 8.3 18.7 1 0 770.8 401.7 Z" fill="url(#dg2)"/>
<path d="M770.8 401.7 A2.6 8.3 18.7 1 0 776.1 386 A2.6 8.3 18.7 1 0 770.8 401.7 Z" fill="url(#dl2)" opacity="0.8"/>
<path d="M736.3 310.6 A2.5 8.3 -75 1 0 720.3 306.3 A2.5 8.3 -75 1 0 736.3 310.6 Z" fill="url(#dg2)"/>
<path d="M736.3 310.6 A2.5 8.3 -75 1 0 720.3 306.3 A2.5 8.3 -75 1 0 736.3 310.6 Z" fill="url(#dl2)" opacity="1"/>
<circle cx="712" cy="660.5" r="69.2" fill="url(#sg3)"/>
<circle cx="712" cy="660.5" r="69.2" fill="url(#sh3)"/>
<circle cx="712" cy="660.5" r="68.8" fill="none" stroke="#2a2570" stroke-width="0.8" opacity="0.7"/>
<path d="M709.9 597.8 A3.6 8.3 -99.5 1 0 693.5 600.6 A3.6 8.3 -99.5 1 0 709.9 597.8 Z" fill="url(#dg3)"/>
<path d="M709.9 597.8 A3.6 8.3 -99.5 1 0 693.5 600.6 A3.6 8.3 -99.5 1 0 709.9 597.8 Z" fill="#544a66" opacity="0.66"/>
<ellipse cx="703.8" cy="598.1" rx="1" ry="2.2" transform="rotate(-99.5 703.8 598.1)" fill="#6a5a58" opacity="0.7"/>
<ellipse cx="703.8" cy="597.2" rx="0.9" ry="2.1" transform="rotate(-99.5 703.8 597.2)" fill="#8a7848" opacity="0.7"/>
<ellipse cx="702.7" cy="598.2" rx="0.8" ry="1.9" transform="rotate(-99.5 702.7 598.2)" fill="#5a4a78" opacity="0.7"/>
<ellipse cx="702.4" cy="599.6" rx="1.1" ry="2.4" transform="rotate(-99.5 702.4 599.6)" fill="#6a5a58" opacity="0.7"/>
<ellipse cx="698.5" cy="601.1" rx="0.9" ry="2.1" transform="rotate(-99.5 698.5 601.1)" fill="#8a7a50" opacity="0.7"/>
<ellipse cx="704.1" cy="600.1" rx="1.2" ry="2.6" transform="rotate(-99.5 704.1 600.1)" fill="#8a7a50" opacity="0.7"/>
<ellipse cx="704.1" cy="597.7" rx="0.8" ry="1.9" transform="rotate(-99.5 704.1 597.7)" fill="#8a7848" opacity="0.7"/>
<ellipse cx="703.3" cy="599.2" rx="1.1" ry="2.4" transform="rotate(-99.5 703.3 599.2)" fill="#94804a" opacity="0.7"/>
<ellipse cx="701.1" cy="599.9" rx="0.7" ry="1.6" transform="rotate(-99.5 701.1 599.9)" fill="#6a5a58" opacity="0.7"/>
<ellipse cx="702.8" cy="597.5" rx="0.6" ry="1.4" transform="rotate(-99.5 702.8 597.5)" fill="#5a4a78" opacity="0.7"/>
<ellipse cx="701.3" cy="600.7" rx="1" ry="2.4" transform="rotate(-99.5 701.3 600.7)" fill="#4a4088" opacity="0.7"/>
<ellipse cx="703" cy="600.5" rx="0.8" ry="1.7" transform="rotate(-99.5 703 600.5)" fill="#3c3470" opacity="0.7"/>
<ellipse cx="699.7" cy="599.3" rx="0.6" ry="1.4" transform="rotate(-99.5 699.7 599.3)" fill="#a0905a" opacity="0.7"/>
<path d="M709.9 597.8 A3.6 8.3 -99.5 1 0 693.5 600.6 A3.6 8.3 -99.5 1 0 709.9 597.8 Z" fill="url(#dl3)" opacity="1"/>
<path d="M728.5 609.3 A5.3 8.3 -81 1 0 712.1 606.7 A5.3 8.3 -81 1 0 728.5 609.3 Z" fill="url(#dg3)"/>
<path d="M728.5 609.3 A5.3 8.3 -81 1 0 712.1 606.7 A5.3 8.3 -81 1 0 728.5 609.3 Z" fill="#544a66" opacity="0.66"/>
<ellipse cx="718.2" cy="606.1" rx="1.5" ry="2.3" transform="rotate(-81 718.2 606.1)" fill="#a0905a" opacity="0.7"/>
<ellipse cx="722.3" cy="606.1" rx="1.3" ry="2" transform="rotate(-81 722.3 606.1)" fill="#94804a" opacity="0.7"/>
<ellipse cx="724" cy="607" rx="1.3" ry="2" transform="rotate(-81 724 607)" fill="#8a7a50" opacity="0.7"/>
<ellipse cx="722.9" cy="605.7" rx="1.3" ry="2.1" transform="rotate(-81 722.9 605.7)" fill="#3c3470" opacity="0.7"/>
<ellipse cx="724.3" cy="609.8" rx="1.4" ry="2.3" transform="rotate(-81 724.3 609.8)" fill="#985a44" opacity="0.7"/>
<ellipse cx="717.2" cy="606.9" rx="0.9" ry="1.4" transform="rotate(-81 717.2 606.9)" fill="#6a5a58" opacity="0.7"/>
<ellipse cx="720.6" cy="611.1" rx="1.4" ry="2.2" transform="rotate(-81 720.6 611.1)" fill="#8a7a50" opacity="0.7"/>
<ellipse cx="724" cy="609.6" rx="1.3" ry="2.1" transform="rotate(-81 724 609.6)" fill="#b8a868" opacity="0.7"/>
<ellipse cx="724.5" cy="609.3" rx="1.2" ry="1.8" transform="rotate(-81 724.5 609.3)" fill="#b8a868" opacity="0.7"/>
<ellipse cx="719.6" cy="606.2" rx="1.2" ry="1.8" transform="rotate(-81 719.6 606.2)" fill="#985a44" opacity="0.7"/>
<ellipse cx="721.1" cy="607.1" rx="1.5" ry="2.3" transform="rotate(-81 721.1 607.1)" fill="#94804a" opacity="0.7"/>
<ellipse cx="722.5" cy="610.5" rx="1.6" ry="2.5" transform="rotate(-81 722.5 610.5)" fill="#4a4088" opacity="0.7"/>
<ellipse cx="720.6" cy="608.9" rx="1.3" ry="2.1" transform="rotate(-81 720.6 608.9)" fill="#94804a" opacity="0.7"/>
<path d="M728.5 609.3 A5.3 8.3 -81 1 0 712.1 606.7 A5.3 8.3 -81 1 0 728.5 609.3 Z" fill="url(#dl3)" opacity="1"/>
<path d="M749.2 611.1 A3.9 8.3 -60.8 1 0 734.7 603 A3.9 8.3 -60.8 1 0 749.2 611.1 Z" fill="url(#dg3)"/>
<path d="M749.2 611.1 A3.9 8.3 -60.8 1 0 734.7 603 A3.9 8.3 -60.8 1 0 749.2 611.1 Z" fill="#544a66" opacity="0.66"/>
<ellipse cx="739.7" cy="604.3" rx="0.8" ry="1.7" transform="rotate(-60.8 739.7 604.3)" fill="#aa9858" opacity="0.7"/>
<ellipse cx="737.7" cy="605.7" rx="0.9" ry="1.8" transform="rotate(-60.8 737.7 605.7)" fill="#5a4a78" opacity="0.7"/>
<ellipse cx="743.6" cy="607.5" rx="0.8" ry="1.6" transform="rotate(-60.8 743.6 607.5)" fill="#5a4a78" opacity="0.7"/>
<ellipse cx="741.6" cy="606.7" rx="0.7" ry="1.6" transform="rotate(-60.8 741.6 606.7)" fill="#a0905a" opacity="0.7"/>
<ellipse cx="742" cy="607.2" rx="0.8" ry="1.8" transform="rotate(-60.8 742 607.2)" fill="#985a44" opacity="0.7"/>
<ellipse cx="744.1" cy="607.2" rx="1.1" ry="2.5" transform="rotate(-60.8 744.1 607.2)" fill="#985a44" opacity="0.7"/>
<ellipse cx="738.5" cy="605.2" rx="0.9" ry="1.9" transform="rotate(-60.8 738.5 605.2)" fill="#c8b878" opacity="0.7"/>
<ellipse cx="740" cy="604.3" rx="1.1" ry="2.4" transform="rotate(-60.8 740 604.3)" fill="#aa9858" opacity="0.7"/>
<ellipse cx="743" cy="608.9" rx="0.9" ry="2" transform="rotate(-60.8 743 608.9)" fill="#aa9858" opacity="0.7"/>
<ellipse cx="742.6" cy="606.8" rx="0.7" ry="1.6" transform="rotate(-60.8 742.6 606.8)" fill="#94804a" opacity="0.7"/>
<ellipse cx="740.8" cy="607.1" rx="0.7" ry="1.5" transform="rotate(-60.8 740.8 607.1)" fill="#985a44" opacity="0.7"/>
<ellipse cx="743.3" cy="607" rx="0.8" ry="1.8" transform="rotate(-60.8 743.3 607)" fill="#8a7a50" opacity="0.7"/>
<ellipse cx="743.1" cy="607.5" rx="0.8" ry="1.8" transform="rotate(-60.8 743.1 607.5)" fill="#b8a868" opacity="0.7"/>
<path d="M749.2 611.1 A3.9 8.3 -60.8 1 0 734.7 603 A3.9 8.3 -60.8 1 0 749.2 611.1 Z" fill="url(#dl3)" opacity="1"/>
<path d="M682.8 607.9 A4.2 8.3 -127 1 0 669.5 617.9 A4.2 8.3 -127 1 0 682.8 607.9 Z" fill="url(#dg3)"/>
<path d="M682.8 607.9 A4.2 8.3 -127 1 0 669.5 617.9 A4.2 8.3 -127 1 0 682.8 607.9 Z" fill="#544a66" opacity="0.66"/>
<ellipse cx="678.2" cy="612.3" rx="0.9" ry="1.8" transform="rotate(-127 678.2 612.3)" fill="#6a5a58" opacity="0.7"/>
<ellipse cx="676.8" cy="613.5" rx="1.3" ry="2.6" transform="rotate(-127 676.8 613.5)" fill="#4a4088" opacity="0.7"/>
<ellipse cx="676.7" cy="610.7" rx="0.7" ry="1.5" transform="rotate(-127 676.7 610.7)" fill="#7a4c40" opacity="0.7"/>
<ellipse cx="677.9" cy="614.3" rx="1.1" ry="2.2" transform="rotate(-127 677.9 614.3)" fill="#8a7848" opacity="0.7"/>
<ellipse cx="675.8" cy="612.8" rx="1" ry="2" transform="rotate(-127 675.8 612.8)" fill="#94804a" opacity="0.7"/>
<ellipse cx="673.5" cy="612.8" rx="1.2" ry="2.3" transform="rotate(-127 673.5 612.8)" fill="#a0905a" opacity="0.7"/>
<ellipse cx="672.3" cy="613.8" rx="1.1" ry="2.3" transform="rotate(-127 672.3 613.8)" fill="#a0905a" opacity="0.7"/>
<ellipse cx="673.8" cy="612.9" rx="0.9" ry="1.8" transform="rotate(-127 673.8 612.9)" fill="#5a4a78" opacity="0.7"/>
<ellipse cx="673.2" cy="614.7" rx="0.9" ry="1.8" transform="rotate(-127 673.2 614.7)" fill="#5a4a78" opacity="0.7"/>
<ellipse cx="673" cy="614.8" rx="1.2" ry="2.3" transform="rotate(-127 673 614.8)" fill="#5a4a78" opacity="0.7"/>
<ellipse cx="672.5" cy="614.6" rx="1.2" ry="2.3" transform="rotate(-127 672.5 614.6)" fill="#5a4a78" opacity="0.7"/>
<ellipse cx="676.9" cy="613.7" rx="1.2" ry="2.3" transform="rotate(-127 676.9 613.7)" fill="#8a7a50" opacity="0.7"/>
<ellipse cx="678.1" cy="614.2" rx="0.8" ry="1.6" transform="rotate(-127 678.1 614.2)" fill="#985a44" opacity="0.7"/>
<path d="M682.8 607.9 A4.2 8.3 -127 1 0 669.5 617.9 A4.2 8.3 -127 1 0 682.8 607.9 Z" fill="url(#dl3)" opacity="0.7"/>
<path d="M705.6 616.1 A6.4 8.3 -108.9 1 0 689.9 621.5 A6.4 8.3 -108.9 1 0 705.6 616.1 Z" fill="url(#dg3)"/>
<path d="M705.6 616.1 A6.4 8.3 -108.9 1 0 689.9 621.5 A6.4 8.3 -108.9 1 0 705.6 616.1 Z" fill="#544a66" opacity="0.66"/>
<ellipse cx="700.3" cy="621.6" rx="2" ry="2.6" transform="rotate(-108.9 700.3 621.6)" fill="#7a4c40" opacity="0.7"/>
<ellipse cx="701.9" cy="619.9" rx="1.2" ry="1.6" transform="rotate(-108.9 701.9 619.9)" fill="#5a4a78" opacity="0.7"/>
<ellipse cx="700.9" cy="619.2" rx="1.5" ry="2" transform="rotate(-108.9 700.9 619.2)" fill="#985a44" opacity="0.7"/>
<ellipse cx="699.4" cy="621.8" rx="1.7" ry="2.2" transform="rotate(-108.9 699.4 621.8)" fill="#3c3470" opacity="0.7"/>
<ellipse cx="694.1" cy="618.5" rx="1.1" ry="1.5" transform="rotate(-108.9 694.1 618.5)" fill="#aa9858" opacity="0.7"/>
<ellipse cx="693.7" cy="620.2" rx="1.5" ry="2" transform="rotate(-108.9 693.7 620.2)" fill="#94804a" opacity="0.7"/>
<ellipse cx="696" cy="621.1" rx="1.1" ry="1.4" transform="rotate(-108.9 696 621.1)" fill="#a04c38" opacity="0.7"/>
<ellipse cx="700" cy="620" rx="2" ry="2.6" transform="rotate(-108.9 700 620)" fill="#a04c38" opacity="0.7"/>
<ellipse cx="697.2" cy="617.4" rx="1.1" ry="1.4" transform="rotate(-108.9 697.2 617.4)" fill="#985a44" opacity="0.7"/>
<ellipse cx="693.3" cy="619" rx="1.2" ry="1.5" transform="rotate(-108.9 693.3 619)" fill="#c8b878" opacity="0.7"/>
<ellipse cx="699.2" cy="621.3" rx="2" ry="2.6" transform="rotate(-108.9 699.2 621.3)" fill="#94804a" opacity="0.7"/>
<ellipse cx="699.6" cy="616.2" rx="1" ry="1.3" transform="rotate(-108.9 699.6 616.2)" fill="#a04c38" opacity="0.7"/>
<ellipse cx="698.1" cy="621.8" rx="2" ry="2.6" transform="rotate(-108.9 698.1 621.8)" fill="#aa9858" opacity="0.7"/>
<path d="M705.6 616.1 A6.4 8.3 -108.9 1 0 689.9 621.5 A6.4 8.3 -108.9 1 0 705.6 616.1 Z" fill="url(#dl3)" opacity="0.8"/>
<path d="M750.1 630.2 A6 8.3 -48.3 1 0 737.7 619.2 A6 8.3 -48.3 1 0 750.1 630.2 Z" fill="url(#dg3)"/>
<path d="M750.1 630.2 A6 8.3 -48.3 1 0 737.7 619.2 A6 8.3 -48.3 1 0 750.1 630.2 Z" fill="#544a66" opacity="0.66"/>
<ellipse cx="748" cy="626.8" rx="1.8" ry="2.5" transform="rotate(-48.3 748 626.8)" fill="#8a7a50" opacity="0.7"/>
<ellipse cx="745.3" cy="626.6" rx="1.2" ry="1.6" transform="rotate(-48.3 745.3 626.6)" fill="#985a44" opacity="0.7"/>
<ellipse cx="742.1" cy="625.6" rx="1.8" ry="2.4" transform="rotate(-48.3 742.1 625.6)" fill="#8a7a50" opacity="0.7"/>
<ellipse cx="745.3" cy="628.6" rx="1.4" ry="1.9" transform="rotate(-48.3 745.3 628.6)" fill="#985a44" opacity="0.7"/>
<ellipse cx="741.5" cy="626.7" rx="1.7" ry="2.4" transform="rotate(-48.3 741.5 626.7)" fill="#8a7848" opacity="0.7"/>
<ellipse cx="745.4" cy="625.1" rx="1.4" ry="2" transform="rotate(-48.3 745.4 625.1)" fill="#c8b878" opacity="0.7"/>
<ellipse cx="746.7" cy="625.9" rx="1" ry="1.3" transform="rotate(-48.3 746.7 625.9)" fill="#3c3470" opacity="0.7"/>
<ellipse cx="745.5" cy="625" rx="1.6" ry="2.2" transform="rotate(-48.3 745.5 625)" fill="#6a5a58" opacity="0.7"/>
<ellipse cx="745.5" cy="627.7" rx="1.5" ry="2" transform="rotate(-48.3 745.5 627.7)" fill="#8a7848" opacity="0.7"/>
<ellipse cx="741.7" cy="622.2" rx="1.8" ry="2.5" transform="rotate(-48.3 741.7 622.2)" fill="#8a7a50" opacity="0.7"/>
<ellipse cx="745.5" cy="626.5" rx="1.7" ry="2.4" transform="rotate(-48.3 745.5 626.5)" fill="#8a7848" opacity="0.7"/>
<ellipse cx="745.9" cy="623.4" rx="1.8" ry="2.5" transform="rotate(-48.3 745.9 623.4)" fill="#6a5a58" opacity="0.7"/>
<ellipse cx="741.2" cy="624.6" rx="1.4" ry="2" transform="rotate(-48.3 741.2 624.6)" fill="#8a7848" opacity="0.7"/>
<path d="M750.1 630.2 A6 8.3 -48.3 1 0 737.7 619.2 A6 8.3 -48.3 1 0 750.1 630.2 Z" fill="url(#dl3)" opacity="1"/>
<path d="M767.6 628.3 A3.2 8.3 -37.5 1 0 757.5 615.2 A3.2 8.3 -37.5 1 0 767.6 628.3 Z" fill="url(#dg3)"/>
<path d="M767.6 628.3 A3.2 8.3 -37.5 1 0 757.5 615.2 A3.2 8.3 -37.5 1 0 767.6 628.3 Z" fill="#544a66" opacity="0.66"/>
<ellipse cx="763.7" cy="623.5" rx="0.8" ry="2" transform="rotate(-37.5 763.7 623.5)" fill="#3c3470" opacity="0.7"/>
<ellipse cx="762.8" cy="620.1" rx="0.9" ry="2.3" transform="rotate(-37.5 762.8 620.1)" fill="#a0905a" opacity="0.7"/>
<ellipse cx="761.9" cy="618.6" rx="0.6" ry="1.6" transform="rotate(-37.5 761.9 618.6)" fill="#4a4088" opacity="0.7"/>
<ellipse cx="763.7" cy="622.4" rx="0.7" ry="1.9" transform="rotate(-37.5 763.7 622.4)" fill="#6a5a58" opacity="0.7"/>
<ellipse cx="762.5" cy="624" rx="0.6" ry="1.6" transform="rotate(-37.5 762.5 624)" fill="#a0905a" opacity="0.7"/>
<ellipse cx="762" cy="618.9" rx="0.6" ry="1.5" transform="rotate(-37.5 762 618.9)" fill="#a04c38" opacity="0.7"/>
<ellipse cx="763.5" cy="624.7" rx="0.7" ry="1.7" transform="rotate(-37.5 763.5 624.7)" fill="#94804a" opacity="0.7"/>
<ellipse cx="765.7" cy="625.2" rx="1" ry="2.6" transform="rotate(-37.5 765.7 625.2)" fill="#aa9858" opacity="0.7"/>
<ellipse cx="765.6" cy="624.3" rx="0.9" ry="2.2" transform="rotate(-37.5 765.6 624.3)" fill="#5a4a78" opacity="0.7"/>
<ellipse cx="762.5" cy="622.8" rx="0.8" ry="2" transform="rotate(-37.5 762.5 622.8)" fill="#7a4c40" opacity="0.7"/>
<ellipse cx="763.4" cy="624.2" rx="0.6" ry="1.5" transform="rotate(-37.5 763.4 624.2)" fill="#7a4c40" opacity="0.7"/>
<ellipse cx="762.2" cy="621.7" rx="0.7" ry="1.9" transform="rotate(-37.5 762.2 621.7)" fill="#8a7a50" opacity="0.7"/>
<ellipse cx="761.4" cy="622.2" rx="0.7" ry="1.7" transform="rotate(-37.5 761.4 622.2)" fill="#6a5a58" opacity="0.7"/>
<path d="M767.6 628.3 A3.2 8.3 -37.5 1 0 757.5 615.2 A3.2 8.3 -37.5 1 0 767.6 628.3 Z" fill="url(#dl3)" opacity="1"/>
<path d="M660.2 626.1 A3.8 8.3 -154.1 1 0 652.9 641 A3.8 8.3 -154.1 1 0 660.2 626.1 Z" fill="url(#dg3)"/>
<path d="M660.2 626.1 A3.8 8.3 -154.1 1 0 652.9 641 A3.8 8.3 -154.1 1 0 660.2 626.1 Z" fill="#544a66" opacity="0.66"/>
<ellipse cx="655.6" cy="634" rx="0.7" ry="1.6" transform="rotate(-154.1 655.6 634)" fill="#6a5a58" opacity="0.7"/>
<ellipse cx="657.2" cy="632.3" rx="1.1" ry="2.5" transform="rotate(-154.1 657.2 632.3)" fill="#94804a" opacity="0.7"/>
<ellipse cx="656.6" cy="631.6" rx="0.9" ry="1.9" transform="rotate(-154.1 656.6 631.6)" fill="#b8a868" opacity="0.7"/>
<ellipse cx="658.5" cy="629.7" rx="0.7" ry="1.5" transform="rotate(-154.1 658.5 629.7)" fill="#8a7848" opacity="0.7"/>
<ellipse cx="655.5" cy="636.9" rx="0.7" ry="1.4" transform="rotate(-154.1 655.5 636.9)" fill="#8a7a50" opacity="0.7"/>
<ellipse cx="657.5" cy="629.7" rx="1.1" ry="2.5" transform="rotate(-154.1 657.5 629.7)" fill="#a0905a" opacity="0.7"/>
<ellipse cx="656.3" cy="637.3" rx="1.1" ry="2.4" transform="rotate(-154.1 656.3 637.3)" fill="#6a5a58" opacity="0.7"/>
<ellipse cx="657.9" cy="630.1" rx="0.8" ry="1.7" transform="rotate(-154.1 657.9 630.1)" fill="#6a5a58" opacity="0.7"/>
<ellipse cx="658.4" cy="631.4" rx="0.9" ry="2.1" transform="rotate(-154.1 658.4 631.4)" fill="#a0905a" opacity="0.7"/>
<ellipse cx="655.5" cy="631.9" rx="1" ry="2.3" transform="rotate(-154.1 655.5 631.9)" fill="#6a5a58" opacity="0.7"/>
<ellipse cx="658.7" cy="629.4" rx="0.7" ry="1.6" transform="rotate(-154.1 658.7 629.4)" fill="#a0905a" opacity="0.7"/>
<ellipse cx="657.7" cy="634.9" rx="0.7" ry="1.6" transform="rotate(-154.1 657.7 634.9)" fill="#4a4088" opacity="0.7"/>
<ellipse cx="657.3" cy="630.5" rx="0.8" ry="1.8" transform="rotate(-154.1 657.3 630.5)" fill="#8a7a50" opacity="0.7"/>
<path d="M660.2 626.1 A3.8 8.3 -154.1 1 0 652.9 641 A3.8 8.3 -154.1 1 0 660.2 626.1 Z" fill="url(#dl3)" opacity="0.4"/>
<path d="M682.4 625.2 A6.3 8.3 -140.3 1 0 671.8 638 A6.3 8.3 -140.3 1 0 682.4 625.2 Z" fill="url(#dg3)"/>
<path d="M682.4 625.2 A6.3 8.3 -140.3 1 0 671.8 638 A6.3 8.3 -140.3 1 0 682.4 625.2 Z" fill="#544a66" opacity="0.66"/>
<ellipse cx="675.1" cy="628.5" rx="1" ry="1.4" transform="rotate(-140.3 675.1 628.5)" fill="#8a7848" opacity="0.7"/>
<ellipse cx="678.5" cy="628.4" rx="1.5" ry="2" transform="rotate(-140.3 678.5 628.4)" fill="#4a4088" opacity="0.7"/>
<ellipse cx="675.9" cy="632.4" rx="1.4" ry="1.9" transform="rotate(-140.3 675.9 632.4)" fill="#4a4088" opacity="0.7"/>
<ellipse cx="674.1" cy="632" rx="2" ry="2.6" transform="rotate(-140.3 674.1 632)" fill="#a0905a" opacity="0.7"/>
<ellipse cx="674.6" cy="630" rx="1.3" ry="1.8" transform="rotate(-140.3 674.6 630)" fill="#c8b878" opacity="0.7"/>
<ellipse cx="674.6" cy="635.3" rx="1.1" ry="1.5" transform="rotate(-140.3 674.6 635.3)" fill="#7a4c40" opacity="0.7"/>
<ellipse cx="673.1" cy="633.5" rx="1" ry="1.3" transform="rotate(-140.3 673.1 633.5)" fill="#b8a868" opacity="0.7"/>
<ellipse cx="679.9" cy="628.5" rx="1.2" ry="1.5" transform="rotate(-140.3 679.9 628.5)" fill="#6a5a58" opacity="0.7"/>
<ellipse cx="680.5" cy="630.9" rx="1.5" ry="2" transform="rotate(-140.3 680.5 630.9)" fill="#a0905a" opacity="0.7"/>
<ellipse cx="675.7" cy="634.9" rx="1" ry="1.4" transform="rotate(-140.3 675.7 634.9)" fill="#94804a" opacity="0.7"/>
<ellipse cx="678.6" cy="632" rx="1.3" ry="1.7" transform="rotate(-140.3 678.6 632)" fill="#7a4c40" opacity="0.7"/>
<ellipse cx="678.9" cy="634.8" rx="1.2" ry="1.7" transform="rotate(-140.3 678.9 634.8)" fill="#a0905a" opacity="0.7"/>
<ellipse cx="677.9" cy="629.6" rx="1.3" ry="1.8" transform="rotate(-140.3 677.9 629.6)" fill="#6a5a58" opacity="0.7"/>
<path d="M682.4 625.2 A6.3 8.3 -140.3 1 0 671.8 638 A6.3 8.3 -140.3 1 0 682.4 625.2 Z" fill="url(#dl3)" opacity="0.5"/>
<path d="M728.3 634.9 A7.5 8.3 -73.4 1 0 712.4 630.2 A7.5 8.3 -73.4 1 0 728.3 634.9 Z" fill="url(#dg3)"/>
<path d="M728.3 634.9 A7.5 8.3 -73.4 1 0 712.4 630.2 A7.5 8.3 -73.4 1 0 728.3 634.9 Z" fill="#544a66" opacity="0.66"/>
<ellipse cx="719.4" cy="635.4" rx="1.4" ry="1.6" transform="rotate(-73.4 719.4 635.4)" fill="#8a7848" opacity="0.7"/>
<ellipse cx="723.5" cy="630.1" rx="2.2" ry="2.4" transform="rotate(-73.4 723.5 630.1)" fill="#94804a" opacity="0.7"/>
<ellipse cx="721.9" cy="630.2" rx="1.2" ry="1.4" transform="rotate(-73.4 721.9 630.2)" fill="#a0905a" opacity="0.7"/>
<ellipse cx="723.1" cy="630.2" rx="2.4" ry="2.6" transform="rotate(-73.4 723.1 630.2)" fill="#c8b878" opacity="0.7"/>
<ellipse cx="716.4" cy="633.5" rx="2.1" ry="2.3" transform="rotate(-73.4 716.4 633.5)" fill="#985a44" opacity="0.7"/>
<ellipse cx="722.5" cy="634.5" rx="2.4" ry="2.6" transform="rotate(-73.4 722.5 634.5)" fill="#94804a" opacity="0.7"/>
<ellipse cx="718.2" cy="633.7" rx="1.4" ry="1.5" transform="rotate(-73.4 718.2 633.7)" fill="#c8b878" opacity="0.7"/>
<ellipse cx="718.6" cy="628.8" rx="2" ry="2.2" transform="rotate(-73.4 718.6 628.8)" fill="#a04c38" opacity="0.7"/>
<ellipse cx="719.2" cy="636" rx="2.3" ry="2.5" transform="rotate(-73.4 719.2 636)" fill="#3c3470" opacity="0.7"/>
<ellipse cx="718" cy="630.2" rx="2.2" ry="2.4" transform="rotate(-73.4 718 630.2)" fill="#c8b878" opacity="0.7"/>
<ellipse cx="717" cy="630.4" rx="2.1" ry="2.3" transform="rotate(-73.4 717 630.4)" fill="#a04c38" opacity="0.7"/>
<ellipse cx="723.1" cy="630.2" rx="1.3" ry="1.4" transform="rotate(-73.4 723.1 630.2)" fill="#b8a868" opacity="0.7"/>
<ellipse cx="722.6" cy="631.1" rx="2.2" ry="2.4" transform="rotate(-73.4 722.6 631.1)" fill="#8a7848" opacity="0.7"/>
<path d="M728.3 634.9 A7.5 8.3 -73.4 1 0 712.4 630.2 A7.5 8.3 -73.4 1 0 728.3 634.9 Z" fill="url(#dl3)" opacity="0.8"/>
<path d="M764 653.3 A5.5 8.3 -17 1 0 759.1 637.4 A5.5 8.3 -17 1 0 764 653.3 Z" fill="url(#dg3)"/>
<path d="M764 653.3 A5.5 8.3 -17 1 0 759.1 637.4 A5.5 8.3 -17 1 0 764 653.3 Z" fill="#544a66" opacity="0.66"/>
<ellipse cx="762.3" cy="645.2" rx="1.3" ry="2" transform="rotate(-17 762.3 645.2)" fill="#5a4a78" opacity="0.7"/>
<ellipse cx="763.7" cy="644.7" rx="1.6" ry="2.4" transform="rotate(-17 763.7 644.7)" fill="#a04c38" opacity="0.7"/>
<ellipse cx="763.1" cy="641.9" rx="1" ry="1.5" transform="rotate(-17 763.1 641.9)" fill="#8a7848" opacity="0.7"/>
<ellipse cx="761.1" cy="644.2" rx="1.1" ry="1.7" transform="rotate(-17 761.1 644.2)" fill="#6a5a58" opacity="0.7"/>
<ellipse cx="763.1" cy="649.5" rx="1.5" ry="2.3" transform="rotate(-17 763.1 649.5)" fill="#5a4a78" opacity="0.7"/>
<ellipse cx="764" cy="643.9" rx="1.3" ry="2" transform="rotate(-17 764 643.9)" fill="#aa9858" opacity="0.7"/>
<ellipse cx="762.1" cy="644.4" rx="1.1" ry="1.7" transform="rotate(-17 762.1 644.4)" fill="#8a7a50" opacity="0.7"/>
<ellipse cx="759.2" cy="643" rx="0.9" ry="1.4" transform="rotate(-17 759.2 643)" fill="#94804a" opacity="0.7"/>
<ellipse cx="759.9" cy="643.5" rx="1.5" ry="2.2" transform="rotate(-17 759.9 643.5)" fill="#985a44" opacity="0.7"/>
<ellipse cx="763.9" cy="644.9" rx="0.9" ry="1.4" transform="rotate(-17 763.9 644.9)" fill="#a0905a" opacity="0.7"/>
<ellipse cx="764.8" cy="647.2" rx="1.1" ry="1.6" transform="rotate(-17 764.8 647.2)" fill="#4a4088" opacity="0.7"/>
<ellipse cx="759.9" cy="645.6" rx="1.3" ry="1.9" transform="rotate(-17 759.9 645.6)" fill="#4a4088" opacity="0.7"/>
<ellipse cx="764.2" cy="644.3" rx="1.4" ry="2.1" transform="rotate(-17 764.2 644.3)" fill="#a0905a" opacity="0.7"/>
<path d="M764 653.3 A5.5 8.3 -17 1 0 759.1 637.4 A5.5 8.3 -17 1 0 764 653.3 Z" fill="url(#dl3)" opacity="1"/>
<path d="M777.4 652.4 A2.7 8.3 -14.3 1 0 773.3 636.3 A2.7 8.3 -14.3 1 0 777.4 652.4 Z" fill="url(#dg3)"/>
<path d="M777.4 652.4 A2.7 8.3 -14.3 1 0 773.3 636.3 A2.7 8.3 -14.3 1 0 777.4 652.4 Z" fill="#544a66" opacity="0.66"/>
<ellipse cx="776.3" cy="642.2" rx="0.4" ry="1.4" transform="rotate(-14.3 776.3 642.2)" fill="#4a4088" opacity="0.7"/>
<ellipse cx="774.9" cy="644.4" rx="0.9" ry="2.6" transform="rotate(-14.3 774.9 644.4)" fill="#a0905a" opacity="0.7"/>
<ellipse cx="775.8" cy="642.7" rx="0.8" ry="2.6" transform="rotate(-14.3 775.8 642.7)" fill="#6a5a58" opacity="0.7"/>
<ellipse cx="776.8" cy="646.9" rx="0.7" ry="2" transform="rotate(-14.3 776.8 646.9)" fill="#7a4c40" opacity="0.7"/>
<ellipse cx="775.2" cy="642.7" rx="0.7" ry="2" transform="rotate(-14.3 775.2 642.7)" fill="#6a5a58" opacity="0.7"/>
<ellipse cx="776.5" cy="648.2" rx="0.8" ry="2.5" transform="rotate(-14.3 776.5 648.2)" fill="#4a4088" opacity="0.7"/>
<ellipse cx="776.5" cy="646.7" rx="0.9" ry="2.6" transform="rotate(-14.3 776.5 646.7)" fill="#b8a868" opacity="0.7"/>
<ellipse cx="775.7" cy="647.4" rx="0.5" ry="1.5" transform="rotate(-14.3 775.7 647.4)" fill="#7a4c40" opacity="0.7"/>
<ellipse cx="776.5" cy="646.1" rx="0.6" ry="1.8" transform="rotate(-14.3 776.5 646.1)" fill="#7a4c40" opacity="0.7"/>
<ellipse cx="775.1" cy="640.7" rx="0.5" ry="1.5" transform="rotate(-14.3 775.1 640.7)" fill="#5a4a78" opacity="0.7"/>
<ellipse cx="775.8" cy="641.8" rx="0.6" ry="1.7" transform="rotate(-14.3 775.8 641.8)" fill="#7a4c40" opacity="0.7"/>
<ellipse cx="775.2" cy="645.2" rx="0.8" ry="2.5" transform="rotate(-14.3 775.2 645.2)" fill="#6a5a58" opacity="0.7"/>
<ellipse cx="774.8" cy="645.8" rx="0.6" ry="1.7" transform="rotate(-14.3 774.8 645.8)" fill="#8a7a50" opacity="0.7"/>
<path d="M777.4 652.4 A2.7 8.3 -14.3 1 0 773.3 636.3 A2.7 8.3 -14.3 1 0 777.4 652.4 Z" fill="url(#dl3)" opacity="1"/>
<path d="M700.8 636.7 A7.7 8.3 -133.5 1 0 688.8 648.1 A7.7 8.3 -133.5 1 0 700.8 636.7 Z" fill="url(#dg3)"/>
<path d="M700.8 636.7 A7.7 8.3 -133.5 1 0 688.8 648.1 A7.7 8.3 -133.5 1 0 700.8 636.7 Z" fill="#544a66" opacity="0.66"/>
<ellipse cx="693.9" cy="640.2" rx="2.1" ry="2.2" transform="rotate(-133.5 693.9 640.2)" fill="#b8a868" opacity="0.7"/>
<ellipse cx="698.2" cy="639.2" rx="1.6" ry="1.7" transform="rotate(-133.5 698.2 639.2)" fill="#8a7848" opacity="0.7"/>
<ellipse cx="692.6" cy="643.9" rx="2.2" ry="2.4" transform="rotate(-133.5 692.6 643.9)" fill="#aa9858" opacity="0.7"/>
<ellipse cx="690.7" cy="644.1" rx="2" ry="2.2" transform="rotate(-133.5 690.7 644.1)" fill="#8a7848" opacity="0.7"/>
<ellipse cx="692.7" cy="645.2" rx="1.3" ry="1.4" transform="rotate(-133.5 692.7 645.2)" fill="#a04c38" opacity="0.7"/>
<ellipse cx="694.8" cy="645.3" rx="1.4" ry="1.5" transform="rotate(-133.5 694.8 645.3)" fill="#c8b878" opacity="0.7"/>
<ellipse cx="693.8" cy="640.2" rx="2.4" ry="2.6" transform="rotate(-133.5 693.8 640.2)" fill="#94804a" opacity="0.7"/>
<ellipse cx="696.7" cy="642.8" rx="1.6" ry="1.7" transform="rotate(-133.5 696.7 642.8)" fill="#a0905a" opacity="0.7"/>
<ellipse cx="691.7" cy="640" rx="1.6" ry="1.7" transform="rotate(-133.5 691.7 640)" fill="#b8a868" opacity="0.7"/>
<ellipse cx="696.5" cy="643.8" rx="2.1" ry="2.2" transform="rotate(-133.5 696.5 643.8)" fill="#6a5a58" opacity="0.7"/>
<ellipse cx="695.4" cy="640.5" rx="1.5" ry="1.6" transform="rotate(-133.5 695.4 640.5)" fill="#3c3470" opacity="0.7"/>
<ellipse cx="696.8" cy="639.7" rx="2.4" ry="2.5" transform="rotate(-133.5 696.8 639.7)" fill="#3c3470" opacity="0.7"/>
<ellipse cx="695.3" cy="639.3" rx="1.5" ry="1.6" transform="rotate(-133.5 695.3 639.3)" fill="#6a5a58" opacity="0.7"/>
<path d="M700.8 636.7 A7.7 8.3 -133.5 1 0 688.8 648.1 A7.7 8.3 -133.5 1 0 700.8 636.7 Z" fill="url(#dl3)" opacity="0.6"/>
<path d="M745.3 654.9 A7.3 8.3 -23.8 1 0 738.6 639.7 A7.3 8.3 -23.8 1 0 745.3 654.9 Z" fill="url(#dg3)"/>
<path d="M745.3 654.9 A7.3 8.3 -23.8 1 0 738.6 639.7 A7.3 8.3 -23.8 1 0 745.3 654.9 Z" fill="#544a66" opacity="0.66"/>
<ellipse cx="740.1" cy="647.3" rx="1.5" ry="1.8" transform="rotate(-23.8 740.1 647.3)" fill="#7a4c40" opacity="0.7"/>
<ellipse cx="739.7" cy="647.1" rx="2.2" ry="2.5" transform="rotate(-23.8 739.7 647.1)" fill="#a04c38" opacity="0.7"/>
<ellipse cx="740.5" cy="651.2" rx="2" ry="2.3" transform="rotate(-23.8 740.5 651.2)" fill="#5a4a78" opacity="0.7"/>
<ellipse cx="741.7" cy="650.1" rx="1.2" ry="1.4" transform="rotate(-23.8 741.7 650.1)" fill="#a0905a" opacity="0.7"/>
<ellipse cx="741.2" cy="650.7" rx="2" ry="2.2" transform="rotate(-23.8 741.2 650.7)" fill="#8a7848" opacity="0.7"/>
<ellipse cx="742.8" cy="643.7" rx="1.4" ry="1.6" transform="rotate(-23.8 742.8 643.7)" fill="#a0905a" opacity="0.7"/>
<ellipse cx="740.4" cy="651.3" rx="1.9" ry="2.2" transform="rotate(-23.8 740.4 651.3)" fill="#aa9858" opacity="0.7"/>
<ellipse cx="742.6" cy="642.8" rx="2.2" ry="2.5" transform="rotate(-23.8 742.6 642.8)" fill="#8a7a50" opacity="0.7"/>
<ellipse cx="741" cy="648.5" rx="2.1" ry="2.3" transform="rotate(-23.8 741 648.5)" fill="#3c3470" opacity="0.7"/>
<ellipse cx="739" cy="646.7" rx="1.2" ry="1.3" transform="rotate(-23.8 739 646.7)" fill="#aa9858" opacity="0.7"/>
<ellipse cx="744.5" cy="643.9" rx="1.8" ry="2" transform="rotate(-23.8 744.5 643.9)" fill="#4a4088" opacity="0.7"/>
<ellipse cx="743.9" cy="651.6" rx="1.3" ry="1.5" transform="rotate(-23.8 743.9 651.6)" fill="#94804a" opacity="0.7"/>
<ellipse cx="743.3" cy="646.3" rx="1.3" ry="1.5" transform="rotate(-23.8 743.3 646.3)" fill="#c8b878" opacity="0.7"/>
<path d="M745.3 654.9 A7.3 8.3 -23.8 1 0 738.6 639.7 A7.3 8.3 -23.8 1 0 745.3 654.9 Z" fill="url(#dl3)" opacity="0.8"/>
<path d="M670.3 646.9 A6.5 8.3 -172.8 1 0 668.3 663.4 A6.5 8.3 -172.8 1 0 670.3 646.9 Z" fill="url(#dg3)"/>
<path d="M670.3 646.9 A6.5 8.3 -172.8 1 0 668.3 663.4 A6.5 8.3 -172.8 1 0 670.3 646.9 Z" fill="#544a66" opacity="0.66"/>
<ellipse cx="670.8" cy="658.6" rx="1.8" ry="2.3" transform="rotate(-172.8 670.8 658.6)" fill="#4a4088" opacity="0.7"/>
<ellipse cx="668.9" cy="656.5" rx="1" ry="1.3" transform="rotate(-172.8 668.9 656.5)" fill="#94804a" opacity="0.7"/>
<ellipse cx="667.6" cy="656" rx="1.7" ry="2.2" transform="rotate(-172.8 667.6 656)" fill="#a0905a" opacity="0.7"/>
<ellipse cx="671.4" cy="658.8" rx="1.6" ry="2" transform="rotate(-172.8 671.4 658.8)" fill="#aa9858" opacity="0.7"/>
<ellipse cx="667.2" cy="652.3" rx="1.1" ry="1.4" transform="rotate(-172.8 667.2 652.3)" fill="#8a7848" opacity="0.7"/>
<ellipse cx="668.5" cy="650.6" rx="1.3" ry="1.7" transform="rotate(-172.8 668.5 650.6)" fill="#3c3470" opacity="0.7"/>
<ellipse cx="666.4" cy="654.5" rx="1.4" ry="1.7" transform="rotate(-172.8 666.4 654.5)" fill="#4a4088" opacity="0.7"/>
<ellipse cx="670.4" cy="652.9" rx="1.9" ry="2.4" transform="rotate(-172.8 670.4 652.9)" fill="#5a4a78" opacity="0.7"/>
<ellipse cx="669.5" cy="651.8" rx="1.3" ry="1.7" transform="rotate(-172.8 669.5 651.8)" fill="#aa9858" opacity="0.7"/>
<ellipse cx="670.9" cy="651.5" rx="1.1" ry="1.4" transform="rotate(-172.8 670.9 651.5)" fill="#4a4088" opacity="0.7"/>
<ellipse cx="671" cy="659" rx="1.1" ry="1.4" transform="rotate(-172.8 671 659)" fill="#5a4a78" opacity="0.7"/>
<ellipse cx="666.3" cy="656.6" rx="1.3" ry="1.6" transform="rotate(-172.8 666.3 656.6)" fill="#8a7a50" opacity="0.7"/>
<ellipse cx="669.4" cy="659.1" rx="1.4" ry="1.8" transform="rotate(-172.8 669.4 659.1)" fill="#aa9858" opacity="0.7"/>
<path d="M670.3 646.9 A6.5 8.3 -172.8 1 0 668.3 663.4 A6.5 8.3 -172.8 1 0 670.3 646.9 Z" fill="url(#dl3)" opacity="0.3"/>
<path d="M720.3 664 A8.3 8.3 -44.6 1 0 708.6 652.2 A8.3 8.3 -44.6 1 0 720.3 664 Z" fill="url(#dg3)"/>
<path d="M720.3 664 A8.3 8.3 -44.6 1 0 708.6 652.2 A8.3 8.3 -44.6 1 0 720.3 664 Z" fill="#544a66" opacity="0.66"/>
<ellipse cx="713.5" cy="656.2" rx="2.3" ry="2.3" transform="rotate(-44.6 713.5 656.2)" fill="#8a7848" opacity="0.7"/>
<ellipse cx="713.6" cy="659" rx="1.6" ry="1.6" transform="rotate(-44.6 713.6 659)" fill="#3c3470" opacity="0.7"/>
<ellipse cx="717.9" cy="660.8" rx="1.6" ry="1.6" transform="rotate(-44.6 717.9 660.8)" fill="#3c3470" opacity="0.7"/>
<ellipse cx="719" cy="657.7" rx="2.2" ry="2.2" transform="rotate(-44.6 719 657.7)" fill="#985a44" opacity="0.7"/>
<ellipse cx="716.1" cy="659.3" rx="1.9" ry="1.9" transform="rotate(-44.6 716.1 659.3)" fill="#b8a868" opacity="0.7"/>
<ellipse cx="713.3" cy="658.3" rx="2.5" ry="2.6" transform="rotate(-44.6 713.3 658.3)" fill="#8a7a50" opacity="0.7"/>
<ellipse cx="715.8" cy="656.3" rx="1.5" ry="1.5" transform="rotate(-44.6 715.8 656.3)" fill="#8a7a50" opacity="0.7"/>
<ellipse cx="718.2" cy="659.6" rx="1.9" ry="1.9" transform="rotate(-44.6 718.2 659.6)" fill="#a04c38" opacity="0.7"/>
<ellipse cx="710.9" cy="655.2" rx="2.6" ry="2.7" transform="rotate(-44.6 710.9 655.2)" fill="#94804a" opacity="0.7"/>
<ellipse cx="717" cy="659.1" rx="2.6" ry="2.6" transform="rotate(-44.6 717 659.1)" fill="#a04c38" opacity="0.7"/>
<ellipse cx="715.7" cy="661.1" rx="2.3" ry="2.3" transform="rotate(-44.6 715.7 661.1)" fill="#c8b878" opacity="0.7"/>
<ellipse cx="715.2" cy="660.9" rx="1.6" ry="1.6" transform="rotate(-44.6 715.2 660.9)" fill="#8a7a50" opacity="0.7"/>
<ellipse cx="715.7" cy="657.7" rx="1.9" ry="1.9" transform="rotate(-44.6 715.7 657.7)" fill="#6a5a58" opacity="0.7"/>
<path d="M720.3 664 A8.3 8.3 -44.6 1 0 708.6 652.2 A8.3 8.3 -44.6 1 0 720.3 664 Z" fill="url(#dl3)" opacity="0.6"/>
<path d="M771.4 676.1 A4 8.3 7 1 0 773.4 659.7 A4 8.3 7 1 0 771.4 676.1 Z" fill="url(#dg3)"/>
<path d="M771.4 676.1 A4 8.3 7 1 0 773.4 659.7 A4 8.3 7 1 0 771.4 676.1 Z" fill="#544a66" opacity="0.66"/>
<ellipse cx="772.9" cy="664.3" rx="0.9" ry="1.8" transform="rotate(7 772.9 664.3)" fill="#3c3470" opacity="0.7"/>
<ellipse cx="773.8" cy="664.1" rx="0.9" ry="1.9" transform="rotate(7 773.8 664.1)" fill="#8a7a50" opacity="0.7"/>
<ellipse cx="772.5" cy="671.8" rx="1" ry="2" transform="rotate(7 772.5 671.8)" fill="#4a4088" opacity="0.7"/>
<ellipse cx="771.5" cy="669.4" rx="1.2" ry="2.5" transform="rotate(7 771.5 669.4)" fill="#8a7a50" opacity="0.7"/>
<ellipse cx="771.9" cy="671.7" rx="1" ry="2.2" transform="rotate(7 771.9 671.7)" fill="#aa9858" opacity="0.7"/>
<ellipse cx="772.8" cy="668.2" rx="0.7" ry="1.4" transform="rotate(7 772.8 668.2)" fill="#8a7a50" opacity="0.7"/>
<ellipse cx="772.6" cy="665.5" rx="1.2" ry="2.5" transform="rotate(7 772.6 665.5)" fill="#7a4c40" opacity="0.7"/>
<ellipse cx="771.4" cy="670.3" rx="1.2" ry="2.6" transform="rotate(7 771.4 670.3)" fill="#8a7a50" opacity="0.7"/>
<ellipse cx="772.4" cy="665.5" rx="0.8" ry="1.7" transform="rotate(7 772.4 665.5)" fill="#a0905a" opacity="0.7"/>
<ellipse cx="772.5" cy="665.3" rx="1" ry="2.1" transform="rotate(7 772.5 665.3)" fill="#3c3470" opacity="0.7"/>
<ellipse cx="774.2" cy="666.8" rx="0.6" ry="1.4" transform="rotate(7 774.2 666.8)" fill="#5a4a78" opacity="0.7"/>
<ellipse cx="772.4" cy="666.3" rx="0.9" ry="1.9" transform="rotate(7 772.4 666.3)" fill="#3c3470" opacity="0.7"/>
<ellipse cx="772" cy="670.9" rx="0.9" ry="1.9" transform="rotate(7 772 670.9)" fill="#4a4088" opacity="0.7"/>
<path d="M771.4 676.1 A4 8.3 7 1 0 773.4 659.7 A4 8.3 7 1 0 771.4 676.1 Z" fill="url(#dl3)" opacity="0.9"/>
<path d="M651.1 655.7 A4 8.3 176.7 1 0 652.1 672.3 A4 8.3 176.7 1 0 651.1 655.7 Z" fill="url(#dg3)"/>
<path d="M651.1 655.7 A4 8.3 176.7 1 0 652.1 672.3 A4 8.3 176.7 1 0 651.1 655.7 Z" fill="#544a66" opacity="0.66"/>
<ellipse cx="652.5" cy="663.9" rx="0.7" ry="1.3" transform="rotate(176.7 652.5 663.9)" fill="#a04c38" opacity="0.7"/>
<ellipse cx="652.2" cy="666.4" rx="0.7" ry="1.5" transform="rotate(176.7 652.2 666.4)" fill="#5a4a78" opacity="0.7"/>
<ellipse cx="652" cy="661.4" rx="0.9" ry="1.8" transform="rotate(176.7 652 661.4)" fill="#3c3470" opacity="0.7"/>
<ellipse cx="653.4" cy="664.1" rx="0.9" ry="1.8" transform="rotate(176.7 653.4 664.1)" fill="#94804a" opacity="0.7"/>
<ellipse cx="650.5" cy="663.1" rx="0.7" ry="1.4" transform="rotate(176.7 650.5 663.1)" fill="#8a7848" opacity="0.7"/>
<ellipse cx="650.5" cy="661" rx="0.9" ry="1.9" transform="rotate(176.7 650.5 661)" fill="#6a5a58" opacity="0.7"/>
<ellipse cx="651.6" cy="659.2" rx="0.7" ry="1.4" transform="rotate(176.7 651.6 659.2)" fill="#6a5a58" opacity="0.7"/>
<ellipse cx="650.1" cy="664.3" rx="1.3" ry="2.6" transform="rotate(176.7 650.1 664.3)" fill="#94804a" opacity="0.7"/>
<ellipse cx="652.5" cy="662.8" rx="1" ry="2.2" transform="rotate(176.7 652.5 662.8)" fill="#b8a868" opacity="0.7"/>
<ellipse cx="652.8" cy="664.5" rx="1.1" ry="2.4" transform="rotate(176.7 652.8 664.5)" fill="#3c3470" opacity="0.7"/>
<ellipse cx="651.3" cy="665.4" rx="0.8" ry="1.7" transform="rotate(176.7 651.3 665.4)" fill="#985a44" opacity="0.7"/>
<ellipse cx="651.5" cy="661.5" rx="0.8" ry="1.7" transform="rotate(176.7 651.5 661.5)" fill="#4a4088" opacity="0.7"/>
<ellipse cx="651.5" cy="661.6" rx="0.7" ry="1.5" transform="rotate(176.7 651.5 661.6)" fill="#985a44" opacity="0.7"/>
<path d="M651.1 655.7 A4 8.3 176.7 1 0 652.1 672.3 A4 8.3 176.7 1 0 651.1 655.7 Z" fill="url(#dl3)" opacity="0.1"/>
<path d="M688.1 663.5 A7.8 8.3 152.8 1 0 695.7 678.2 A7.8 8.3 152.8 1 0 688.1 663.5 Z" fill="url(#dg3)"/>
<path d="M688.1 663.5 A7.8 8.3 152.8 1 0 695.7 678.2 A7.8 8.3 152.8 1 0 688.1 663.5 Z" fill="#544a66" opacity="0.66"/>
<ellipse cx="689.9" cy="670.9" rx="1.6" ry="1.7" transform="rotate(152.8 689.9 670.9)" fill="#5a4a78" opacity="0.7"/>
<ellipse cx="690" cy="668" rx="2.3" ry="2.4" transform="rotate(152.8 690 668)" fill="#b8a868" opacity="0.7"/>
<ellipse cx="688.8" cy="671.5" rx="1.3" ry="1.3" transform="rotate(152.8 688.8 671.5)" fill="#c8b878" opacity="0.7"/>
<ellipse cx="693.4" cy="669.2" rx="1.7" ry="1.8" transform="rotate(152.8 693.4 669.2)" fill="#a0905a" opacity="0.7"/>
<ellipse cx="689.7" cy="671.2" rx="2" ry="2.1" transform="rotate(152.8 689.7 671.2)" fill="#c8b878" opacity="0.7"/>
<ellipse cx="689.8" cy="673.7" rx="1.7" ry="1.8" transform="rotate(152.8 689.8 673.7)" fill="#c8b878" opacity="0.7"/>
<ellipse cx="693.8" cy="671.2" rx="2.2" ry="2.4" transform="rotate(152.8 693.8 671.2)" fill="#b8a868" opacity="0.7"/>
<ellipse cx="687.5" cy="669.9" rx="2" ry="2.1" transform="rotate(152.8 687.5 669.9)" fill="#985a44" opacity="0.7"/>
<ellipse cx="689.2" cy="671.4" rx="1.7" ry="1.8" transform="rotate(152.8 689.2 671.4)" fill="#8a7a50" opacity="0.7"/>
<ellipse cx="690.9" cy="668.9" rx="2" ry="2.1" transform="rotate(152.8 690.9 668.9)" fill="#b8a868" opacity="0.7"/>
<ellipse cx="692.3" cy="675.4" rx="2.3" ry="2.4" transform="rotate(152.8 692.3 675.4)" fill="#aa9858" opacity="0.7"/>
<ellipse cx="688.9" cy="668.3" rx="1.6" ry="1.7" transform="rotate(152.8 688.9 668.3)" fill="#5a4a78" opacity="0.7"/>
<ellipse cx="692.6" cy="670.5" rx="1.9" ry="2" transform="rotate(152.8 692.6 670.5)" fill="#aa9858" opacity="0.7"/>
<path d="M688.1 663.5 A7.8 8.3 152.8 1 0 695.7 678.2 A7.8 8.3 152.8 1 0 688.1 663.5 Z" fill="url(#dl3)" opacity="0.3"/>
<path d="M732.3 680.2 A7.6 8.3 27.1 1 0 739.8 665.4 A7.6 8.3 27.1 1 0 732.3 680.2 Z" fill="url(#dg3)"/>
<path d="M732.3 680.2 A7.6 8.3 27.1 1 0 739.8 665.4 A7.6 8.3 27.1 1 0 732.3 680.2 Z" fill="#544a66" opacity="0.66"/>
<ellipse cx="734.6" cy="673.1" rx="1.9" ry="2.1" transform="rotate(27.1 734.6 673.1)" fill="#b8a868" opacity="0.7"/>
<ellipse cx="735.7" cy="669.4" rx="1.7" ry="1.9" transform="rotate(27.1 735.7 669.4)" fill="#a0905a" opacity="0.7"/>
<ellipse cx="734.2" cy="675.2" rx="1.6" ry="1.7" transform="rotate(27.1 734.2 675.2)" fill="#8a7a50" opacity="0.7"/>
<ellipse cx="734.5" cy="670.8" rx="1.7" ry="1.8" transform="rotate(27.1 734.5 670.8)" fill="#aa9858" opacity="0.7"/>
<ellipse cx="736.4" cy="672.3" rx="2.2" ry="2.4" transform="rotate(27.1 736.4 672.3)" fill="#b8a868" opacity="0.7"/>
<ellipse cx="736.8" cy="670.8" rx="1.5" ry="1.6" transform="rotate(27.1 736.8 670.8)" fill="#8a7a50" opacity="0.7"/>
<ellipse cx="736.3" cy="675.9" rx="1.4" ry="1.5" transform="rotate(27.1 736.3 675.9)" fill="#6a5a58" opacity="0.7"/>
<ellipse cx="738.9" cy="671.9" rx="1.8" ry="1.9" transform="rotate(27.1 738.9 671.9)" fill="#94804a" opacity="0.7"/>
<ellipse cx="737.1" cy="674" rx="1.4" ry="1.5" transform="rotate(27.1 737.1 674)" fill="#3c3470" opacity="0.7"/>
<ellipse cx="738.1" cy="676.6" rx="2" ry="2.2" transform="rotate(27.1 738.1 676.6)" fill="#7a4c40" opacity="0.7"/>
<ellipse cx="736" cy="676.9" rx="1.6" ry="1.8" transform="rotate(27.1 736 676.9)" fill="#94804a" opacity="0.7"/>
<ellipse cx="739.3" cy="672.7" rx="1.4" ry="1.5" transform="rotate(27.1 739.3 672.7)" fill="#4a4088" opacity="0.7"/>
<ellipse cx="738.8" cy="669.7" rx="2.2" ry="2.4" transform="rotate(27.1 738.8 669.7)" fill="#a0905a" opacity="0.7"/>
<path d="M732.3 680.2 A7.6 8.3 27.1 1 0 739.8 665.4 A7.6 8.3 27.1 1 0 732.3 680.2 Z" fill="url(#dl3)" opacity="0.6"/>
<path d="M754.6 679.9 A6.2 8.3 14.2 1 0 758.7 663.8 A6.2 8.3 14.2 1 0 754.6 679.9 Z" fill="url(#dg3)"/>
<path d="M754.6 679.9 A6.2 8.3 14.2 1 0 758.7 663.8 A6.2 8.3 14.2 1 0 754.6 679.9 Z" fill="#544a66" opacity="0.66"/>
<ellipse cx="758" cy="671.5" rx="2" ry="2.6" transform="rotate(14.2 758 671.5)" fill="#4a4088" opacity="0.7"/>
<ellipse cx="755.6" cy="669.8" rx="1.6" ry="2.2" transform="rotate(14.2 755.6 669.8)" fill="#6a5a58" opacity="0.7"/>
<ellipse cx="755" cy="668.2" rx="1.8" ry="2.4" transform="rotate(14.2 755 668.2)" fill="#94804a" opacity="0.7"/>
<ellipse cx="759.1" cy="669.3" rx="1.6" ry="2.2" transform="rotate(14.2 759.1 669.3)" fill="#985a44" opacity="0.7"/>
<ellipse cx="759.1" cy="668.4" rx="1.2" ry="1.6" transform="rotate(14.2 759.1 668.4)" fill="#5a4a78" opacity="0.7"/>
<ellipse cx="757.4" cy="671.6" rx="1.1" ry="1.5" transform="rotate(14.2 757.4 671.6)" fill="#7a4c40" opacity="0.7"/>
<ellipse cx="756.3" cy="673.5" rx="1.7" ry="2.3" transform="rotate(14.2 756.3 673.5)" fill="#5a4a78" opacity="0.7"/>
<ellipse cx="756.1" cy="671.3" rx="1.7" ry="2.3" transform="rotate(14.2 756.1 671.3)" fill="#8a7a50" opacity="0.7"/>
<ellipse cx="754.5" cy="674.9" rx="1.4" ry="1.8" transform="rotate(14.2 754.5 674.9)" fill="#4a4088" opacity="0.7"/>
<ellipse cx="755.5" cy="668.9" rx="1.3" ry="1.7" transform="rotate(14.2 755.5 668.9)" fill="#aa9858" opacity="0.7"/>
<ellipse cx="756" cy="674.4" rx="1.4" ry="1.8" transform="rotate(14.2 756 674.4)" fill="#7a4c40" opacity="0.7"/>
<ellipse cx="754.2" cy="672.5" rx="1" ry="1.4" transform="rotate(14.2 754.2 672.5)" fill="#985a44" opacity="0.7"/>
<ellipse cx="753" cy="672" rx="1.4" ry="1.9" transform="rotate(14.2 753 672)" fill="#985a44" opacity="0.7"/>
<path d="M754.6 679.9 A6.2 8.3 14.2 1 0 758.7 663.8 A6.2 8.3 14.2 1 0 754.6 679.9 Z" fill="url(#dl3)" opacity="0.8"/>
<path d="M664.8 673.1 A6 8.3 155.2 1 0 671.8 688.2 A6 8.3 155.2 1 0 664.8 673.1 Z" fill="url(#dg3)"/>
<path d="M664.8 673.1 A6 8.3 155.2 1 0 671.8 688.2 A6 8.3 155.2 1 0 664.8 673.1 Z" fill="#544a66" opacity="0.66"/>
<ellipse cx="670.5" cy="678.4" rx="1.1" ry="1.6" transform="rotate(155.2 670.5 678.4)" fill="#4a4088" opacity="0.7"/>
<ellipse cx="666" cy="680.4" rx="1.3" ry="1.8" transform="rotate(155.2 666 680.4)" fill="#7a4c40" opacity="0.7"/>
<ellipse cx="669" cy="679.8" rx="1.4" ry="2" transform="rotate(155.2 669 679.8)" fill="#8a7a50" opacity="0.7"/>
<ellipse cx="667.6" cy="680.2" rx="1.8" ry="2.6" transform="rotate(155.2 667.6 680.2)" fill="#7a4c40" opacity="0.7"/>
<ellipse cx="671.2" cy="679.7" rx="1" ry="1.4" transform="rotate(155.2 671.2 679.7)" fill="#8a7848" opacity="0.7"/>
<ellipse cx="671.6" cy="683.3" rx="1.7" ry="2.4" transform="rotate(155.2 671.6 683.3)" fill="#8a7a50" opacity="0.7"/>
<ellipse cx="665.5" cy="682.1" rx="1.7" ry="2.3" transform="rotate(155.2 665.5 682.1)" fill="#c8b878" opacity="0.7"/>
<ellipse cx="667.1" cy="679.9" rx="1.8" ry="2.5" transform="rotate(155.2 667.1 679.9)" fill="#a0905a" opacity="0.7"/>
<ellipse cx="666.7" cy="684" rx="1.1" ry="1.5" transform="rotate(155.2 666.7 684)" fill="#3c3470" opacity="0.7"/>
<ellipse cx="666.1" cy="677.2" rx="1.7" ry="2.4" transform="rotate(155.2 666.1 677.2)" fill="#985a44" opacity="0.7"/>
<ellipse cx="665.4" cy="678.1" rx="1.8" ry="2.5" transform="rotate(155.2 665.4 678.1)" fill="#a0905a" opacity="0.7"/>
<ellipse cx="670.7" cy="678.2" rx="1.2" ry="1.7" transform="rotate(155.2 670.7 678.2)" fill="#4a4088" opacity="0.7"/>
<ellipse cx="667.5" cy="678.6" rx="1.4" ry="2" transform="rotate(155.2 667.5 678.6)" fill="#7a4c40" opacity="0.7"/>
<path d="M664.8 673.1 A6 8.3 155.2 1 0 671.8 688.2 A6 8.3 155.2 1 0 664.8 673.1 Z" fill="url(#dl3)" opacity="0.1"/>
<path d="M706.2 687.3 A7.7 8.3 84.6 1 0 722.7 685.8 A7.7 8.3 84.6 1 0 706.2 687.3 Z" fill="url(#dg3)"/>
<path d="M706.2 687.3 A7.7 8.3 84.6 1 0 722.7 685.8 A7.7 8.3 84.6 1 0 706.2 687.3 Z" fill="#544a66" opacity="0.66"/>
<ellipse cx="711.8" cy="687.7" rx="1.7" ry="1.9" transform="rotate(84.6 711.8 687.7)" fill="#b8a868" opacity="0.7"/>
<ellipse cx="718.5" cy="684.3" rx="2.3" ry="2.5" transform="rotate(84.6 718.5 684.3)" fill="#94804a" opacity="0.7"/>
<ellipse cx="710.2" cy="686.6" rx="2.2" ry="2.3" transform="rotate(84.6 710.2 686.6)" fill="#8a7a50" opacity="0.7"/>
<ellipse cx="711.3" cy="684.6" rx="2.3" ry="2.5" transform="rotate(84.6 711.3 684.6)" fill="#8a7848" opacity="0.7"/>
<ellipse cx="717.5" cy="685" rx="2.3" ry="2.5" transform="rotate(84.6 717.5 685)" fill="#a0905a" opacity="0.7"/>
<ellipse cx="717.6" cy="683.2" rx="1.7" ry="1.9" transform="rotate(84.6 717.6 683.2)" fill="#3c3470" opacity="0.7"/>
<ellipse cx="712.2" cy="684.8" rx="1.7" ry="1.8" transform="rotate(84.6 712.2 684.8)" fill="#94804a" opacity="0.7"/>
<ellipse cx="717.3" cy="686.5" rx="1.8" ry="1.9" transform="rotate(84.6 717.3 686.5)" fill="#94804a" opacity="0.7"/>
<ellipse cx="715.7" cy="689.8" rx="1.6" ry="1.7" transform="rotate(84.6 715.7 689.8)" fill="#8a7848" opacity="0.7"/>
<ellipse cx="716.2" cy="684.9" rx="2.4" ry="2.6" transform="rotate(84.6 716.2 684.9)" fill="#985a44" opacity="0.7"/>
<ellipse cx="717.6" cy="689.7" rx="2.1" ry="2.3" transform="rotate(84.6 717.6 689.7)" fill="#a04c38" opacity="0.7"/>
<ellipse cx="713.8" cy="687.1" rx="2" ry="2.1" transform="rotate(84.6 713.8 687.1)" fill="#aa9858" opacity="0.7"/>
<ellipse cx="711.9" cy="684.9" rx="1.3" ry="1.4" transform="rotate(84.6 711.9 684.9)" fill="#4a4088" opacity="0.7"/>
<path d="M706.2 687.3 A7.7 8.3 84.6 1 0 722.7 685.8 A7.7 8.3 84.6 1 0 706.2 687.3 Z" fill="url(#dl3)" opacity="0.4"/>
<path d="M758.3 697.6 A4.4 8.3 30.7 1 0 766.8 683.3 A4.4 8.3 30.7 1 0 758.3 697.6 Z" fill="url(#dg3)"/>
<path d="M758.3 697.6 A4.4 8.3 30.7 1 0 766.8 683.3 A4.4 8.3 30.7 1 0 758.3 697.6 Z" fill="#544a66" opacity="0.66"/>
<ellipse cx="762.9" cy="688.5" rx="0.7" ry="1.4" transform="rotate(30.7 762.9 688.5)" fill="#8a7a50" opacity="0.7"/>
<ellipse cx="760.3" cy="693.1" rx="1.1" ry="2" transform="rotate(30.7 760.3 693.1)" fill="#8a7848" opacity="0.7"/>
<ellipse cx="762.2" cy="689" rx="1.1" ry="2.1" transform="rotate(30.7 762.2 689)" fill="#5a4a78" opacity="0.7"/>
<ellipse cx="764.5" cy="688.6" rx="0.8" ry="1.5" transform="rotate(30.7 764.5 688.6)" fill="#8a7a50" opacity="0.7"/>
<ellipse cx="760.3" cy="694.5" rx="0.8" ry="1.5" transform="rotate(30.7 760.3 694.5)" fill="#6a5a58" opacity="0.7"/>
<ellipse cx="762.4" cy="691.5" rx="1.2" ry="2.2" transform="rotate(30.7 762.4 691.5)" fill="#a0905a" opacity="0.7"/>
<ellipse cx="760.9" cy="693" rx="0.7" ry="1.3" transform="rotate(30.7 760.9 693)" fill="#b8a868" opacity="0.7"/>
<ellipse cx="765.5" cy="689.1" rx="1.1" ry="2.1" transform="rotate(30.7 765.5 689.1)" fill="#985a44" opacity="0.7"/>
<ellipse cx="764.5" cy="690.2" rx="1.2" ry="2.3" transform="rotate(30.7 764.5 690.2)" fill="#5a4a78" opacity="0.7"/>
<ellipse cx="763.4" cy="691" rx="0.7" ry="1.4" transform="rotate(30.7 763.4 691)" fill="#8a7a50" opacity="0.7"/>
<ellipse cx="761.1" cy="693.2" rx="0.7" ry="1.4" transform="rotate(30.7 761.1 693.2)" fill="#3c3470" opacity="0.7"/>
<ellipse cx="762.5" cy="689.3" rx="1.2" ry="2.2" transform="rotate(30.7 762.5 689.3)" fill="#5a4a78" opacity="0.7"/>
<ellipse cx="761.9" cy="692.1" rx="1.1" ry="2.1" transform="rotate(30.7 761.9 692.1)" fill="#8a7848" opacity="0.7"/>
<path d="M758.3 697.6 A4.4 8.3 30.7 1 0 766.8 683.3 A4.4 8.3 30.7 1 0 758.3 697.6 Z" fill="url(#dl3)" opacity="0.6"/>
<path d="M650.8 682.1 A3.1 8.3 153.2 1 0 658.3 696.9 A3.1 8.3 153.2 1 0 650.8 682.1 Z" fill="url(#dg3)"/>
<path d="M685.5 693.5 A6.6 8.3 117.5 1 0 700.2 701.2 A6.6 8.3 117.5 1 0 685.5 693.5 Z" fill="url(#dg3)"/>
<path d="M685.5 693.5 A6.6 8.3 117.5 1 0 700.2 701.2 A6.6 8.3 117.5 1 0 685.5 693.5 Z" fill="#544a66" opacity="0.66"/>
<ellipse cx="692.3" cy="694.1" rx="1.7" ry="2.1" transform="rotate(117.5 692.3 694.1)" fill="#8a7848" opacity="0.7"/>
<ellipse cx="690.9" cy="695.6" rx="1.1" ry="1.4" transform="rotate(117.5 690.9 695.6)" fill="#a04c38" opacity="0.7"/>
<ellipse cx="696.9" cy="698.6" rx="1.1" ry="1.3" transform="rotate(117.5 696.9 698.6)" fill="#c8b878" opacity="0.7"/>
<ellipse cx="693.3" cy="700" rx="1.1" ry="1.4" transform="rotate(117.5 693.3 700)" fill="#b8a868" opacity="0.7"/>
<ellipse cx="689.8" cy="696.2" rx="1.2" ry="1.5" transform="rotate(117.5 689.8 696.2)" fill="#5a4a78" opacity="0.7"/>
<ellipse cx="689.4" cy="698.1" rx="2" ry="2.5" transform="rotate(117.5 689.4 698.1)" fill="#a04c38" opacity="0.7"/>
<ellipse cx="688.9" cy="694.9" rx="1.1" ry="1.4" transform="rotate(117.5 688.9 694.9)" fill="#b8a868" opacity="0.7"/>
<ellipse cx="692.8" cy="694.4" rx="1.9" ry="2.4" transform="rotate(117.5 692.8 694.4)" fill="#8a7848" opacity="0.7"/>
<ellipse cx="689.3" cy="694.3" rx="2" ry="2.6" transform="rotate(117.5 689.3 694.3)" fill="#5a4a78" opacity="0.7"/>
<ellipse cx="693.4" cy="696.4" rx="1.2" ry="1.6" transform="rotate(117.5 693.4 696.4)" fill="#5a4a78" opacity="0.7"/>
<ellipse cx="688.6" cy="696.3" rx="1.2" ry="1.5" transform="rotate(117.5 688.6 696.3)" fill="#7a4c40" opacity="0.7"/>
<ellipse cx="692.2" cy="695.6" rx="1.7" ry="2.1" transform="rotate(117.5 692.2 695.6)" fill="#aa9858" opacity="0.7"/>
<ellipse cx="697" cy="696.7" rx="1.8" ry="2.2" transform="rotate(117.5 697 696.7)" fill="#b8a868" opacity="0.7"/>
<path d="M685.5 693.5 A6.6 8.3 117.5 1 0 700.2 701.2 A6.6 8.3 117.5 1 0 685.5 693.5 Z" fill="url(#dl3)" opacity="0.1"/>
<path d="M733.5 700.6 A6.3 8.3 51.3 1 0 746.5 690.2 A6.3 8.3 51.3 1 0 733.5 700.6 Z" fill="url(#dg3)"/>
<path d="M733.5 700.6 A6.3 8.3 51.3 1 0 746.5 690.2 A6.3 8.3 51.3 1 0 733.5 700.6 Z" fill="#544a66" opacity="0.66"/>
<ellipse cx="738.7" cy="692.2" rx="1.5" ry="2" transform="rotate(51.3 738.7 692.2)" fill="#8a7848" opacity="0.7"/>
<ellipse cx="743.6" cy="694.9" rx="1.5" ry="1.9" transform="rotate(51.3 743.6 694.9)" fill="#a04c38" opacity="0.7"/>
<ellipse cx="742" cy="695.5" rx="1.8" ry="2.4" transform="rotate(51.3 742 695.5)" fill="#aa9858" opacity="0.7"/>
<ellipse cx="740.2" cy="698.5" rx="1.9" ry="2.5" transform="rotate(51.3 740.2 698.5)" fill="#94804a" opacity="0.7"/>
<ellipse cx="739.9" cy="696.1" rx="1.6" ry="2.2" transform="rotate(51.3 739.9 696.1)" fill="#94804a" opacity="0.7"/>
<ellipse cx="739.1" cy="697.8" rx="1" ry="1.4" transform="rotate(51.3 739.1 697.8)" fill="#8a7a50" opacity="0.7"/>
<ellipse cx="740.5" cy="693.8" rx="1.1" ry="1.4" transform="rotate(51.3 740.5 693.8)" fill="#6a5a58" opacity="0.7"/>
<ellipse cx="740.5" cy="698.7" rx="1.6" ry="2.1" transform="rotate(51.3 740.5 698.7)" fill="#7a4c40" opacity="0.7"/>
<ellipse cx="741.4" cy="696.2" rx="1.6" ry="2" transform="rotate(51.3 741.4 696.2)" fill="#b8a868" opacity="0.7"/>
<ellipse cx="741.1" cy="695.3" rx="1.9" ry="2.5" transform="rotate(51.3 741.1 695.3)" fill="#aa9858" opacity="0.7"/>
<ellipse cx="739" cy="696.6" rx="1.1" ry="1.5" transform="rotate(51.3 739 696.6)" fill="#8a7a50" opacity="0.7"/>
<ellipse cx="743.8" cy="696.2" rx="1.8" ry="2.3" transform="rotate(51.3 743.8 696.2)" fill="#6a5a58" opacity="0.7"/>
<ellipse cx="741.1" cy="691.6" rx="1.3" ry="1.7" transform="rotate(51.3 741.1 691.6)" fill="#6a5a58" opacity="0.7"/>
<path d="M733.5 700.6 A6.3 8.3 51.3 1 0 746.5 690.2 A6.3 8.3 51.3 1 0 733.5 700.6 Z" fill="url(#dl3)" opacity="0.5"/>
<path d="M668.1 696.7 A4.8 8.3 132.2 1 0 680.4 707.8 A4.8 8.3 132.2 1 0 668.1 696.7 Z" fill="url(#dg3)"/>
<path d="M709.1 710 A5.9 8.3 83.7 1 0 725.6 708.2 A5.9 8.3 83.7 1 0 709.1 710 Z" fill="url(#dg3)"/>
<path d="M709.1 710 A5.9 8.3 83.7 1 0 725.6 708.2 A5.9 8.3 83.7 1 0 709.1 710 Z" fill="#544a66" opacity="0.66"/>
<ellipse cx="719.1" cy="709.3" rx="1.5" ry="2.2" transform="rotate(83.7 719.1 709.3)" fill="#a0905a" opacity="0.7"/>
<ellipse cx="716" cy="707.6" rx="1" ry="1.4" transform="rotate(83.7 716 707.6)" fill="#a0905a" opacity="0.7"/>
<ellipse cx="716.4" cy="712.4" rx="1.7" ry="2.3" transform="rotate(83.7 716.4 712.4)" fill="#7a4c40" opacity="0.7"/>
<ellipse cx="719.6" cy="706.5" rx="1.4" ry="2" transform="rotate(83.7 719.6 706.5)" fill="#a0905a" opacity="0.7"/>
<ellipse cx="717" cy="711.8" rx="1.3" ry="1.9" transform="rotate(83.7 717 711.8)" fill="#aa9858" opacity="0.7"/>
<ellipse cx="715.6" cy="711.3" rx="1.4" ry="2" transform="rotate(83.7 715.6 711.3)" fill="#8a7a50" opacity="0.7"/>
<ellipse cx="714" cy="710" rx="1.7" ry="2.5" transform="rotate(83.7 714 710)" fill="#6a5a58" opacity="0.7"/>
<ellipse cx="713.8" cy="708.9" rx="1.3" ry="1.9" transform="rotate(83.7 713.8 708.9)" fill="#8a7848" opacity="0.7"/>
<ellipse cx="719.6" cy="709" rx="1.9" ry="2.6" transform="rotate(83.7 719.6 709)" fill="#8a7a50" opacity="0.7"/>
<ellipse cx="716" cy="711" rx="1.6" ry="2.3" transform="rotate(83.7 716 711)" fill="#c8b878" opacity="0.7"/>
<ellipse cx="717.2" cy="707.7" rx="1.3" ry="1.8" transform="rotate(83.7 717.2 707.7)" fill="#c8b878" opacity="0.7"/>
<ellipse cx="718.8" cy="706.8" rx="1.1" ry="1.5" transform="rotate(83.7 718.8 706.8)" fill="#c8b878" opacity="0.7"/>
<ellipse cx="719.4" cy="708.4" rx="1.4" ry="2" transform="rotate(83.7 719.4 708.4)" fill="#6a5a58" opacity="0.7"/>
<path d="M709.1 710 A5.9 8.3 83.7 1 0 725.6 708.2 A5.9 8.3 83.7 1 0 709.1 710 Z" fill="url(#dl3)" opacity="0.2"/>
<path d="M733.7 717.1 A4.1 8.3 61.1 1 0 748.2 709 A4.1 8.3 61.1 1 0 733.7 717.1 Z" fill="url(#dg3)"/>
<path d="M733.7 717.1 A4.1 8.3 61.1 1 0 748.2 709 A4.1 8.3 61.1 1 0 733.7 717.1 Z" fill="#544a66" opacity="0.66"/>
<ellipse cx="745.1" cy="711" rx="1" ry="2" transform="rotate(61.1 745.1 711)" fill="#a04c38" opacity="0.7"/>
<ellipse cx="739.7" cy="715.4" rx="0.9" ry="1.8" transform="rotate(61.1 739.7 715.4)" fill="#6a5a58" opacity="0.7"/>
<ellipse cx="738.7" cy="712.9" rx="1.3" ry="2.5" transform="rotate(61.1 738.7 712.9)" fill="#6a5a58" opacity="0.7"/>
<ellipse cx="742.7" cy="711" rx="0.9" ry="1.8" transform="rotate(61.1 742.7 711)" fill="#a0905a" opacity="0.7"/>
<ellipse cx="742.7" cy="713.2" rx="1" ry="2" transform="rotate(61.1 742.7 713.2)" fill="#aa9858" opacity="0.7"/>
<ellipse cx="743.2" cy="710" rx="1.3" ry="2.6" transform="rotate(61.1 743.2 710)" fill="#94804a" opacity="0.7"/>
<ellipse cx="744.1" cy="711.4" rx="1.2" ry="2.3" transform="rotate(61.1 744.1 711.4)" fill="#b8a868" opacity="0.7"/>
<ellipse cx="741.2" cy="712.5" rx="1" ry="2" transform="rotate(61.1 741.2 712.5)" fill="#c8b878" opacity="0.7"/>
<ellipse cx="743.7" cy="710.2" rx="1.2" ry="2.3" transform="rotate(61.1 743.7 710.2)" fill="#94804a" opacity="0.7"/>
<ellipse cx="743.3" cy="711.1" rx="0.8" ry="1.7" transform="rotate(61.1 743.3 711.1)" fill="#5a4a78" opacity="0.7"/>
<ellipse cx="740.2" cy="712.5" rx="1.2" ry="2.5" transform="rotate(61.1 740.2 712.5)" fill="#5a4a78" opacity="0.7"/>
<ellipse cx="737.9" cy="714.5" rx="1.2" ry="2.3" transform="rotate(61.1 737.9 714.5)" fill="#c8b878" opacity="0.7"/>
<ellipse cx="738.4" cy="715.9" rx="0.8" ry="1.5" transform="rotate(61.1 738.4 715.9)" fill="#5a4a78" opacity="0.7"/>
<path d="M733.7 717.1 A4.1 8.3 61.1 1 0 748.2 709 A4.1 8.3 61.1 1 0 733.7 717.1 Z" fill="url(#dl3)" opacity="0.3"/>
<path d="M663.8 707.9 A2.5 8.3 128.4 1 0 676.8 718.2 A2.5 8.3 128.4 1 0 663.8 707.9 Z" fill="url(#dg3)"/>
<path d="M685 714.3 A4.2 8.3 108.7 1 0 700.7 719.6 A4.2 8.3 108.7 1 0 685 714.3 Z" fill="url(#dg3)"/>
<path d="M708.1 725.4 A3 8.3 86.1 1 0 724.7 724.3 A3 8.3 86.1 1 0 708.1 725.4 Z" fill="url(#dg3)"/>
<path d="M708.1 725.4 A3 8.3 86.1 1 0 724.7 724.3 A3 8.3 86.1 1 0 708.1 725.4 Z" fill="#544a66" opacity="0.66"/>
<ellipse cx="718.8" cy="723.5" rx="0.6" ry="1.8" transform="rotate(86.1 718.8 723.5)" fill="#5a4a78" opacity="0.7"/>
<ellipse cx="713.9" cy="725.4" rx="1" ry="2.6" transform="rotate(86.1 713.9 725.4)" fill="#a04c38" opacity="0.7"/>
<ellipse cx="712.4" cy="726" rx="0.8" ry="2.2" transform="rotate(86.1 712.4 726)" fill="#5a4a78" opacity="0.7"/>
<ellipse cx="716.8" cy="725.9" rx="0.9" ry="2.4" transform="rotate(86.1 716.8 725.9)" fill="#a04c38" opacity="0.7"/>
<ellipse cx="713.8" cy="724.9" rx="0.5" ry="1.5" transform="rotate(86.1 713.8 724.9)" fill="#6a5a58" opacity="0.7"/>
<ellipse cx="718.1" cy="725.4" rx="0.7" ry="1.9" transform="rotate(86.1 718.1 725.4)" fill="#8a7a50" opacity="0.7"/>
<ellipse cx="719.4" cy="724.9" rx="0.8" ry="2.2" transform="rotate(86.1 719.4 724.9)" fill="#8a7848" opacity="0.7"/>
<ellipse cx="711.8" cy="724.7" rx="0.5" ry="1.4" transform="rotate(86.1 711.8 724.7)" fill="#a0905a" opacity="0.7"/>
<ellipse cx="714.2" cy="723.9" rx="0.8" ry="2.3" transform="rotate(86.1 714.2 723.9)" fill="#c8b878" opacity="0.7"/>
<ellipse cx="717.8" cy="723.7" rx="0.8" ry="2.3" transform="rotate(86.1 717.8 723.7)" fill="#aa9858" opacity="0.7"/>
<ellipse cx="720.2" cy="723.8" rx="0.8" ry="2.2" transform="rotate(86.1 720.2 723.8)" fill="#3c3470" opacity="0.7"/>
<ellipse cx="718.3" cy="723.5" rx="0.6" ry="1.6" transform="rotate(86.1 718.3 723.5)" fill="#94804a" opacity="0.7"/>
<ellipse cx="715.2" cy="723.6" rx="0.6" ry="1.7" transform="rotate(86.1 715.2 723.6)" fill="#b8a868" opacity="0.7"/>
<path d="M708.1 725.4 A3 8.3 86.1 1 0 724.7 724.3 A3 8.3 86.1 1 0 708.1 725.4 Z" fill="url(#dl3)" opacity="0.1"/>
<path d="M647.5 638.2 A2.5 8.3 -167.9 1 0 644 654.4 A2.5 8.3 -167.9 1 0 647.5 638.2 Z" fill="url(#dg3)"/>
<path d="M647.5 638.2 A2.5 8.3 -167.9 1 0 644 654.4 A2.5 8.3 -167.9 1 0 647.5 638.2 Z" fill="#544a66" opacity="0.66"/>
<ellipse cx="644.3" cy="648.5" rx="0.5" ry="1.6" transform="rotate(-167.9 644.3 648.5)" fill="#aa9858" opacity="0.7"/>
<ellipse cx="645.9" cy="649.4" rx="0.5" ry="1.7" transform="rotate(-167.9 645.9 649.4)" fill="#aa9858" opacity="0.7"/>
<ellipse cx="644.8" cy="645.7" rx="0.7" ry="2.5" transform="rotate(-167.9 644.8 645.7)" fill="#8a7848" opacity="0.7"/>
<ellipse cx="644.3" cy="647.7" rx="0.5" ry="1.6" transform="rotate(-167.9 644.3 647.7)" fill="#b8a868" opacity="0.7"/>
<ellipse cx="645" cy="645.9" rx="0.7" ry="2.4" transform="rotate(-167.9 645 645.9)" fill="#6a5a58" opacity="0.7"/>
<ellipse cx="645.9" cy="646.6" rx="0.5" ry="1.5" transform="rotate(-167.9 645.9 646.6)" fill="#3c3470" opacity="0.7"/>
<ellipse cx="646.2" cy="641.8" rx="0.5" ry="1.8" transform="rotate(-167.9 646.2 641.8)" fill="#c8b878" opacity="0.7"/>
<ellipse cx="646.6" cy="647.4" rx="0.7" ry="2.3" transform="rotate(-167.9 646.6 647.4)" fill="#8a7848" opacity="0.7"/>
<ellipse cx="645.6" cy="646.9" rx="0.5" ry="1.8" transform="rotate(-167.9 645.6 646.9)" fill="#7a4c40" opacity="0.7"/>
<ellipse cx="644.7" cy="647.1" rx="0.5" ry="1.6" transform="rotate(-167.9 644.7 647.1)" fill="#b8a868" opacity="0.7"/>
<ellipse cx="646.3" cy="646.6" rx="0.8" ry="2.6" transform="rotate(-167.9 646.3 646.6)" fill="#a04c38" opacity="0.7"/>
<ellipse cx="647.4" cy="642.8" rx="0.4" ry="1.4" transform="rotate(-167.9 647.4 642.8)" fill="#a0905a" opacity="0.7"/>
<ellipse cx="645.2" cy="645" rx="0.4" ry="1.4" transform="rotate(-167.9 645.2 645)" fill="#aa9858" opacity="0.7"/>
<path d="M647.5 638.2 A2.5 8.3 -167.9 1 0 644 654.4 A2.5 8.3 -167.9 1 0 647.5 638.2 Z" fill="url(#dl3)" opacity="0.2"/>
<path d="M752 709.3 A3.6 8.3 43.1 1 0 763.3 697.2 A3.6 8.3 43.1 1 0 752 709.3 Z" fill="url(#dg3)"/>
<path d="M752 709.3 A3.6 8.3 43.1 1 0 763.3 697.2 A3.6 8.3 43.1 1 0 752 709.3 Z" fill="#544a66" opacity="0.66"/>
<ellipse cx="759.4" cy="700.2" rx="0.9" ry="2.1" transform="rotate(43.1 759.4 700.2)" fill="#6a5a58" opacity="0.7"/>
<ellipse cx="759.2" cy="701.5" rx="1.1" ry="2.6" transform="rotate(43.1 759.2 701.5)" fill="#8a7848" opacity="0.7"/>
<ellipse cx="759.2" cy="704.5" rx="1.1" ry="2.6" transform="rotate(43.1 759.2 704.5)" fill="#4a4088" opacity="0.7"/>
<ellipse cx="757" cy="704.9" rx="1" ry="2.4" transform="rotate(43.1 757 704.9)" fill="#3c3470" opacity="0.7"/>
<ellipse cx="755.4" cy="706.6" rx="0.9" ry="2.2" transform="rotate(43.1 755.4 706.6)" fill="#a04c38" opacity="0.7"/>
<ellipse cx="758.7" cy="703.5" rx="0.8" ry="1.8" transform="rotate(43.1 758.7 703.5)" fill="#b8a868" opacity="0.7"/>
<ellipse cx="760.9" cy="700.5" rx="0.8" ry="1.9" transform="rotate(43.1 760.9 700.5)" fill="#a0905a" opacity="0.7"/>
<ellipse cx="759.2" cy="700" rx="1" ry="2.4" transform="rotate(43.1 759.2 700)" fill="#4a4088" opacity="0.7"/>
<ellipse cx="759.8" cy="702" rx="0.7" ry="1.7" transform="rotate(43.1 759.8 702)" fill="#aa9858" opacity="0.7"/>
<ellipse cx="759.2" cy="704.1" rx="1" ry="2.2" transform="rotate(43.1 759.2 704.1)" fill="#4a4088" opacity="0.7"/>
<ellipse cx="757.8" cy="703" rx="0.7" ry="1.7" transform="rotate(43.1 757.8 703)" fill="#5a4a78" opacity="0.7"/>
<ellipse cx="754.7" cy="705.3" rx="0.8" ry="2" transform="rotate(43.1 754.7 705.3)" fill="#985a44" opacity="0.7"/>
<ellipse cx="759.2" cy="700.3" rx="0.8" ry="1.8" transform="rotate(43.1 759.2 700.3)" fill="#a0905a" opacity="0.7"/>
<path d="M752 709.3 A3.6 8.3 43.1 1 0 763.3 697.2 A3.6 8.3 43.1 1 0 752 709.3 Z" fill="url(#dl3)" opacity="0.5"/>
<path d="M771.7 689.5 A2.6 8.3 18.7 1 0 777 673.8 A2.6 8.3 18.7 1 0 771.7 689.5 Z" fill="url(#dg3)"/>
<path d="M771.7 689.5 A2.6 8.3 18.7 1 0 777 673.8 A2.6 8.3 18.7 1 0 771.7 689.5 Z" fill="#544a66" opacity="0.66"/>
<ellipse cx="775.1" cy="683.5" rx="0.7" ry="2.4" transform="rotate(18.7 775.1 683.5)" fill="#7a4c40" opacity="0.7"/>
<ellipse cx="774.1" cy="685" rx="0.8" ry="2.4" transform="rotate(18.7 774.1 685)" fill="#b8a868" opacity="0.7"/>
<ellipse cx="774.7" cy="678.5" rx="0.5" ry="1.6" transform="rotate(18.7 774.7 678.5)" fill="#6a5a58" opacity="0.7"/>
<ellipse cx="773.1" cy="685.3" rx="0.5" ry="1.5" transform="rotate(18.7 773.1 685.3)" fill="#94804a" opacity="0.7"/>
<ellipse cx="773.5" cy="685.7" rx="0.6" ry="1.9" transform="rotate(18.7 773.5 685.7)" fill="#3c3470" opacity="0.7"/>
<ellipse cx="775.1" cy="680.8" rx="0.7" ry="2.4" transform="rotate(18.7 775.1 680.8)" fill="#94804a" opacity="0.7"/>
<ellipse cx="775" cy="678.2" rx="0.8" ry="2.6" transform="rotate(18.7 775 678.2)" fill="#6a5a58" opacity="0.7"/>
<ellipse cx="776" cy="679.6" rx="0.7" ry="2.4" transform="rotate(18.7 776 679.6)" fill="#c8b878" opacity="0.7"/>
<ellipse cx="773.5" cy="681.5" rx="0.5" ry="1.6" transform="rotate(18.7 773.5 681.5)" fill="#6a5a58" opacity="0.7"/>
<ellipse cx="772.7" cy="682.7" rx="0.8" ry="2.5" transform="rotate(18.7 772.7 682.7)" fill="#8a7848" opacity="0.7"/>
<ellipse cx="773.7" cy="682.3" rx="0.7" ry="2.4" transform="rotate(18.7 773.7 682.3)" fill="#4a4088" opacity="0.7"/>
<ellipse cx="774.9" cy="683.1" rx="0.6" ry="1.9" transform="rotate(18.7 774.9 683.1)" fill="#94804a" opacity="0.7"/>
<ellipse cx="773.1" cy="685.5" rx="0.5" ry="1.5" transform="rotate(18.7 773.1 685.5)" fill="#985a44" opacity="0.7"/>
<path d="M771.7 689.5 A2.6 8.3 18.7 1 0 777 673.8 A2.6 8.3 18.7 1 0 771.7 689.5 Z" fill="url(#dl3)" opacity="0.8"/>
<path d="M737.2 598.4 A2.5 8.3 -75 1 0 721.2 594.1 A2.5 8.3 -75 1 0 737.2 598.4 Z" fill="url(#dg3)"/>
<path d="M737.2 598.4 A2.5 8.3 -75 1 0 721.2 594.1 A2.5 8.3 -75 1 0 737.2 598.4 Z" fill="#544a66" opacity="0.66"/>
<ellipse cx="729.7" cy="595" rx="0.7" ry="2.4" transform="rotate(-75 729.7 595)" fill="#4a4088" opacity="0.7"/>
<ellipse cx="728.9" cy="597.4" rx="0.5" ry="1.7" transform="rotate(-75 728.9 597.4)" fill="#4a4088" opacity="0.7"/>
<ellipse cx="730.4" cy="597.4" rx="0.8" ry="2.6" transform="rotate(-75 730.4 597.4)" fill="#6a5a58" opacity="0.7"/>
<ellipse cx="730.6" cy="597" rx="0.7" ry="2.2" transform="rotate(-75 730.6 597)" fill="#8a7a50" opacity="0.7"/>
<ellipse cx="725.7" cy="595.8" rx="0.8" ry="2.6" transform="rotate(-75 725.7 595.8)" fill="#7a4c40" opacity="0.7"/>
<ellipse cx="731.8" cy="595.8" rx="0.6" ry="2" transform="rotate(-75 731.8 595.8)" fill="#3c3470" opacity="0.7"/>
<ellipse cx="730.5" cy="595.2" rx="0.7" ry="2.3" transform="rotate(-75 730.5 595.2)" fill="#b8a868" opacity="0.7"/>
<ellipse cx="730.2" cy="596.1" rx="0.7" ry="2.2" transform="rotate(-75 730.2 596.1)" fill="#7a4c40" opacity="0.7"/>
<ellipse cx="728.4" cy="597" rx="0.7" ry="2.4" transform="rotate(-75 728.4 597)" fill="#5a4a78" opacity="0.7"/>
<ellipse cx="731.1" cy="597.2" rx="0.5" ry="1.7" transform="rotate(-75 731.1 597.2)" fill="#8a7a50" opacity="0.7"/>
<ellipse cx="733.2" cy="597.7" rx="0.7" ry="2.4" transform="rotate(-75 733.2 597.7)" fill="#aa9858" opacity="0.7"/>
<ellipse cx="729.1" cy="595.4" rx="0.7" ry="2.5" transform="rotate(-75 729.1 595.4)" fill="#7a4c40" opacity="0.7"/>
<ellipse cx="725.2" cy="596" rx="0.7" ry="2.4" transform="rotate(-75 725.2 596)" fill="#7a4c40" opacity="0.7"/>
<path d="M737.2 598.4 A2.5 8.3 -75 1 0 721.2 594.1 A2.5 8.3 -75 1 0 737.2 598.4 Z" fill="url(#dl3)" opacity="1"/>
<path d="M120 89.6 L240.6 89.6 L236.1 81.3 L283.6 96.6 L236.1 111.8 L240.6 103.6 L120 103.6 Z" fill="#f2672f" stroke="#d9561f" stroke-width="0.5"/>
<path d="M502 89.6 L587 89.6 L582.5 81.3 L631.5 96.6 L582.5 111.8 L587 103.6 L502 103.6 Z" fill="#f2672f" stroke="#d9561f" stroke-width="0.5"/>
<path d="M702.4 475.5 L702.4 545 L693.7 542 L709.2 591 L724.7 542 L716 545 L716 475.5 Z" fill="#f2672f"/>
<path d="M356.8 214 L356.8 371.4 Q356.8 386.4 371.8 386.4 L589.7 386.4 L585.2 396.1 L634 379.6 L585.2 363.1 L589.7 372.8 L373.4 372.8 Q370.4 372.8 370.4 369.8 L370.4 214 Z" fill="#f2672f"/>
<path d="M40.3 122.7 H48 V115 H53.6 V122.7 H61.3 V128.3 H53.6 V136 H48 V128.3 H40.3 Z" fill="#f2672f"/>
<path d="M423.2 292.4 H430.4 V285.2 H435.6 V292.4 H442.8 V297.6 H435.6 V304.8 H430.4 V297.6 H423.2 Z" fill="#f2672f"/>
<text transform="translate(9.5 101.7) scale(1.0455 1)" font-size="17" fill="#111" stroke="#111" stroke-width="0.25">Zr cluster</text>
<text transform="translate(12.8 222.4) scale(1.0608 1)" font-size="16.8" fill="#111" stroke="#111" stroke-width="0.25">BDC-NH</text>
<text transform="translate(82.2 222.6) scale(1.5000 1)" font-size="7.5" fill="#111" stroke="#111" stroke-width="0.25">2</text>
<text transform="translate(195.4 32.7) scale(1.0286 1)" font-size="28" fill="#111" stroke="#111" stroke-width="0.25">(a)</text>
<text transform="translate(188.3 74.7) scale(0.9899 1)" font-size="20.8" fill="#111" stroke="#111" stroke-width="0.25">ClO</text>
<text transform="translate(225.1 74.8) scale(1.2986 1)" font-size="9.5" fill="#111" stroke="#111" stroke-width="0.25">4</text>
<rect x="232.4" y="64.9" width="3.3" height="1.5" fill="#111"/>
<text transform="translate(190.9 138.1) scale(0.9903 1)" font-size="20.8" fill="#111" stroke="#111" stroke-width="0.25">F127</text>
<text transform="translate(336.5 184.7) scale(1.0475 1)" font-size="17" fill="#111" stroke="#111" stroke-width="0.25">Hofmeister Ion-Mediated</text>
<text transform="translate(353.2 206.2) scale(1.0209 1)" font-size="17" fill="#111" stroke="#111" stroke-width="0.25">Templated Strategy</text>
<text transform="translate(653.8 176.5) scale(1.0620 1)" font-size="17" fill="#111" stroke="#111" stroke-width="0.25">HMUiO-66-NH</text>
<text transform="translate(771.7 176.7) scale(1.1667 1)" font-size="7.5" fill="#111" stroke="#111" stroke-width="0.25">2</text>
<text transform="translate(406.7 258.8) scale(1.0139 1)" font-size="28" fill="#111" stroke="#111" stroke-width="0.25">(b)</text>
<text transform="translate(468.9 364.9) scale(1.0601 1)" font-size="16.5" fill="#111" stroke="#111" stroke-width="0.25">Mn-TCPP</text>
<text transform="translate(363 409.2) scale(1.0417 1)" font-size="17" fill="#b01c1c" stroke="#b01c1c" stroke-width="0.2">CAT Mimic Co-linker Assembly</text>
<text transform="translate(644.7 468.3) scale(1.0455 1)" font-size="17" fill="#111" stroke="#111" stroke-width="0.25">HMUiO-MnTCPP</text>
<text transform="translate(657.6 524.6) scale(1.0190 1)" font-size="28" fill="#111" stroke="#111" stroke-width="0.25">(c)</text>
<text transform="translate(593.8 753.1) scale(1.0372 1)" font-size="17" fill="#111" stroke="#111" stroke-width="0.25">SOD@HMUiO-MnTCPP</text>
<text transform="translate(146.1 752) scale(0.9920 1)" font-size="16.5" fill="#111" stroke="#111" stroke-width="0.25">Cascade System for ROS Scavenging</text>
<text transform="translate(83.7 294.6) scale(1.0018 1)" font-size="23.6" fill="#de1f27" stroke="#de1f27" stroke-width="0.25">Enzyme</text>
<text transform="translate(84.3 322.6) scale(0.9928 1)" font-size="23.6" fill="#de1f27" stroke="#de1f27" stroke-width="0.25">Mimic</text>
<text transform="translate(84 592.6) scale(0.9985 1)" font-size="23.6" fill="#de1f27" stroke="#de1f27" stroke-width="0.25">Natural</text>
<text transform="translate(84.7 620.4) scale(0.9902 1)" font-size="23.6" fill="#de1f27" stroke="#de1f27" stroke-width="0.25">Enzyme</text>
<path d="M312.9 385.1 L365.1 506" stroke="#0a0a0a" stroke-width="3" stroke-dasharray="8.8 8.75" fill="none"/>
<path d="M182.5 467.5 L338.5 511.4" stroke="#0a0a0a" stroke-width="3" stroke-dasharray="8.7 8.35" fill="none"/>
</svg>
</body></html>
